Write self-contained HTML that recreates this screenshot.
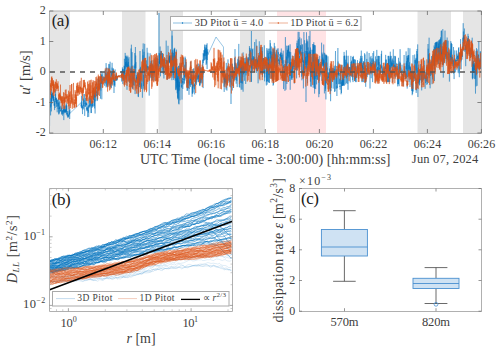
<!DOCTYPE html>
<html><head><meta charset="utf-8"><style>
html,body{margin:0;padding:0;background:#fff;width:500px;height:351px;overflow:hidden}
svg{display:block}
text{font-family:"Liberation Serif",serif;fill:#404040}
</style></head><body>
<svg width="500" height="351" viewBox="0 0 500 351">
<rect x="49.3" y="11.0" width="20.7" height="122.0" fill="#e5e5e5"/>
<rect x="122" y="11.0" width="23.5" height="122.0" fill="#e5e5e5"/>
<rect x="158.5" y="11.0" width="24.5" height="122.0" fill="#e5e5e5"/>
<rect x="240" y="11.0" width="25.0" height="122.0" fill="#e5e5e5"/>
<rect x="417.5" y="11.0" width="33.5" height="122.0" fill="#e5e5e5"/>
<rect x="463" y="11.0" width="18.4" height="122.0" fill="#e5e5e5"/>
<rect x="277" y="11.0" width="49" height="122.0" fill="#ffe3e5"/>
<path transform="scale(0.1)" d="M496 1260l1 -188 1 -22 1 -66 1 48 1 -6 0 3 1 48 1 -31 1 -3 1 7 1 104 1 -91 1 -81 1 38 1 43 1 2 0 -52 1 -62 1 -52 1 215 1 -173 1 71 1 -66 1 93 1 -122 1 24 1 35 0 -14 1 -23 1 25 1 -36 1 22 1 -2 1 -16 1 57 1 -33 1 23 1 -44 0 74 1 -60 1 51 1 -7 1 21 1 -58 1 4 1 40 1 -30 1 0 1 27 0 59 1 -56 1 -5 1 63 1 -21 1 64 1 -90 1 14 1 2 1 11 1 1 0 41 1 -60 1 1 1 -81 1 61 1 -108 1 127 1 -14 1 -23 1 12 1 0 0 -12 1 29 1 28 1 -63 1 91 1 -59 1 -15 1 35 1 1 1 -35 1 25 0 5 1 98 1 -110 1 2 1 -16 1 34 1 -3 1 3 1 31 1 -36 1 61 0 -37 1 -24 1 26 1 11 1 -83 1 57 1 27 1 79 1 -67 1 61 1 -117 0 103 1 3 1 -9 1 -50 1 20 1 -26 1 -23 1 -36 1 86 1 -26 1 17 0 3 1 16 1 15 1 -11 1 -5 1 11 1 3 1 -15 1 -2 1 -9 1 -30 0 50 1 -19 1 5 1 4 1 48 1 -64 1 5 1 -13 1 51 1 -11 1 -1 0 -6 1 34 1 -20 1 -4 1 40 1 -48 1 4 1 -10 1 19 1 -26 1 45 0 3 1 -46 1 -46 1 22 1 11 1 21 1 -9 1 105 1 -110 1 42 1 -21 0 -46 1 56 1 -30 1 24 1 -10 1 -9 1 -36 1 44 1 12 1 7 1 -29 0 31 1 -19 1 20 1 -3 1 -26 1 15 1 -18 1 24 1 -63 1 62 1 -15 0 -31 1 -24 1 99 1 -115 1 79 1 5 1 -12 1 -47 1 85 1 -24 1 -7 0 26 1 25 1 -32 1 0 1 20 1 25 1 -40 1 -15 1 -9 1 47 1 0 0 -4 1 22 1 -1 1 -28 1 -3 1 26 1 -19 1 7 1 -44 1 -18 1 -6 0 -33 1 91 1 -1 1 -19 1 16 1 -41 1 87 1 -89 1 -8 1 40 111 -107 0 38 1 -12 1 -9 1 36 1 -119 1 105 1 0 1 -51 1 37 1 30 1 -22 0 26 1 -10 1 -1 1 38 1 29 1 -54 1 -28 1 -6 1 44 1 -7 1 -42 0 -109 1 85 1 43 1 18 1 -60 1 -40 1 75 1 -31 1 -9 1 -19 1 13 0 -2 1 30 1 -1 1 -34 1 -66 1 112 1 106 1 -95 1 -9 1 -20 1 33 0 -16 1 15 1 -19 1 -4 1 -8 1 -55 1 66 1 -10 1 -16 1 41 1 -31 0 9 1 -65 1 76 1 -14 1 12 1 -15 1 61 1 -28 1 45 1 -30 1 11 0 -10 1 22 1 -30 1 -2 1 28 1 70 1 -33 1 -55 1 -49 1 49 1 2 0 10 1 10 1 -44 1 66 1 -25 1 16 1 51 1 -55 1 -62 1 30 1 -25 0 4 1 -91 1 99 1 -21 1 6 1 3 1 -98 1 58 1 -7 1 56 1 -5 0 -17 1 18 1 -72 1 57 1 -68 1 66 1 3 1 18 1 27 1 38 1 -79 0 -12 1 42 1 9 1 39 1 -46 1 -78 1 -17 1 64 1 1 1 -10 1 -5 0 39 1 -27 1 12 1 -30 1 -21 1 28 1 -31 1 53 1 -18 1 -7 1 30 0 -58 1 -16 1 -54 1 -3 1 60 1 -91 1 72 1 24 1 -63 1 -3 1 -23 0 74 1 -17 1 -57 1 147 1 -66 1 91 1 -133 1 -48 1 65 1 -38 1 205 0 -175 1 19 1 34 1 -122 1 76 1 1 1 -31 1 -38 1 12 1 5 1 14 0 -54 1 8 1 -13 1 18 1 -64 1 130 1 -43 1 50 1 -15 1 20 1 44 0 -4 1 -62 1 51 1 7 1 -90 1 34 1 9 1 -32 1 -18 1 -119 1 160 0 -27 1 -29 1 11 1 -60 1 56 1 -129 1 52 1 -50 1 111 1 12 1 -4 0 -31 1 -3 1 -45 1 -14 1 54 1 22 1 -6 1 20 1 -52 1 21 1 11 0 11 1 -1 1 -37 1 -74 1 221 1 -157 1 -9 1 74 1 10 1 -115 1 -79 0 126 1 -16 1 15 1 -77 1 51 1 24 1 -88 1 247 1 -248 1 10 1 4 0 43 1 24 1 -33 1 -4 1 33 1 -29 1 -5 1 -64 1 68 1 5 1 -13 0 -3 1 -9 1 18 1 6 1 -2 1 20 1 1 1 -2 1 -47 1 39 1 0 0 -1 1 -6 1 -23 1 11 1 12 1 10 1 50 1 -85 1 13 1 -11 1 -48 0 48 1 -32 1 -45 1 47 1 -4 1 22 1 73 1 -129 1 -1 1 4 1 164 0 -243 1 72 1 -26 1 56 1 7 1 97 1 28 1 -6 1 -123 1 57 1 -57 0 62 1 54 1 -82 1 -36 1 -16 1 114 1 40 1 -117 1 -20 1 -56 1 6 0 78 1 -49 1 142 1 -50 1 -93 1 51 1 49 1 5 1 -179 1 144 1 -54 0 58 1 -144 1 120 1 -17 1 11 1 29 1 70 1 -58 1 -41 1 52 1 -14 0 -178 1 60 1 167 1 -20 1 29 1 14 1 -51 1 1 1 58 1 -91 1 30 0 16 1 -101 1 151 1 -103 1 64 1 -109 1 29 1 -27 1 -25 1 -33 1 70 0 -118 1 104 1 35 1 0 1 -27 1 37 1 -52 1 124 1 -112 1 -5 1 -43 0 105 1 -49 1 -62 1 135 1 -35 1 10 1 -24 1 23 1 9 1 129 1 -126 0 -4 1 45 1 13 1 -67 1 23 1 22 1 14 1 -52 1 46 1 23 1 -173 0 104 1 -36 1 26 1 -26 1 23 1 11 1 2 1 -9 1 3 1 4 1 -52 0 31 1 -26 1 17 1 3 1 39 1 -25 1 0 1 -6 1 19 1 5 1 -32 0 35 1 -43 1 12 1 -14 41 1 0 3 1 52 1 -106 1 43 1 -7 1 -19 1 -7 0 -4 1 9 1 30 1 -80 1 45 1 -28 1 24 1 124 1 -146 1 40 1 -44 0 5 1 33 1 14 1 32 1 -57 1 34 1 60 1 -84 1 47 1 19 1 -135 0 66 1 -21 1 141 1 -255 1 106 1 24 1 -53 1 17 1 58 1 -76 1 117 0 -72 1 -180 1 157 1 -20 1 -46 1 46 1 -106 1 102 1 -24 1 14 1 -97 0 51 1 14 1 42 1 7 1 -102 1 100 1 7 1 -58 1 163 1 119 1 -259 0 -24 1 -44 1 48 1 62 1 -17 1 -27 1 96 1 -176 1 98 1 12 1 143 0 -142 1 -82 1 120 1 -86 1 39 1 6 1 -12 1 31 1 27 1 -139 1 128 0 -4 1 12 1 33 1 2 1 23 1 59 1 -86 1 96 1 -53 1 -89 1 67 0 10 1 16 1 36 1 -62 1 10 1 12 1 -10 1 -83 1 20 1 -224 1 308 0 -128 1 69 1 -2 1 -285 1 365 1 -4 1 -23 1 -9 1 51 1 -62 1 -29 0 -215 1 231 1 -21 1 157 1 -191 1 28 1 160 1 -230 1 59 1 77 1 59 0 -121 1 -19 1 66 1 16 1 -37 1 36 1 62 1 -84 1 -14 1 -30 1 132 0 -88 1 -112 1 52 1 20 1 32 1 -59 1 -137 1 -35 1 149 1 -42 1 304 0 -229 1 1 1 -65 1 -178 1 261 1 -58 1 -118 1 127 1 -61 1 21 1 63 0 23 1 63 1 -6 1 -35 1 79 1 -63 1 49 1 -12 1 -28 1 16 1 8 0 -29 1 16 1 -51 1 12 1 -8 1 15 1 35 1 2 1 -26 1 -32 1 -6 0 18 1 220 1 -201 1 207 1 -238 1 82 1 -89 1 -6 1 20 1 21 1 20 0 27 1 62 1 -106 1 -4 1 57 1 32 1 -70 1 94 1 -110 1 -253 1 263 0 -87 1 121 1 -123 1 66 1 -82 1 103 1 22 1 91 1 -36 1 -38 1 -69 0 92 1 34 1 -34 1 56 1 -86 1 -27 1 -25 1 -34 1 -12 1 26 1 -43 0 0 1 39 1 -63 1 313 1 -376 1 -108 1 2 1 100 1 19 1 -61 1 62 0 41 1 -222 1 269 1 70 1 89 1 -112 1 -2 1 139 1 -177 1 -192 1 121 0 107 1 152 1 -9 1 -187 1 -11 1 29 1 -282 1 221 1 39 1 -94 1 54 0 66 1 -33 1 86 1 3 1 -35 1 13 1 -24 1 -72 1 -11 1 55 1 3 0 15 1 -26 1 -12 1 -82 1 102 1 -51 1 29 1 23 1 29 1 1 1 2 0 -261 1 226 1 16 1 -4 1 -24 1 -8 1 -24 1 41 1 -174 1 125 1 33 0 -19 1 -1 1 6 1 10 1 0 1 17 1 -15 1 -11 1 28 1 0 1 9 0 78 1 169 1 -237 1 43 1 -35 1 -55 1 78 1 14 1 -13 1 -55 1 -164 0 209 1 41 1 -74 1 -56 1 71 1 -77 1 25 1 24 1 -82 1 42 1 4 0 -4 1 94 1 28 1 -170 1 103 1 -105 1 203 1 -135 1 80 1 -62 1 47 0 -12 1 -73 1 33 1 12 1 106 1 -89 1 -80 1 73 1 11 1 62 1 -118 0 -62 1 75 1 2 1 0 1 -15 1 33 1 12 1 29 1 19 1 -25 1 -17 0 -18 1 8 1 32 1 71 1 -96 1 4 1 8 1 -19 1 7 1 -4 1 -1 0 2 1 4 1 5 1 -145 1 111 1 -28 1 -16 1 14 1 7 1 -54 1 58 0 29 1 -1 1 -59 1 171 1 -104 1 -44 1 -6 1 14 1 -12 1 -71 1 118 0 -55 1 19 1 -101 1 28 1 29 1 28 1 -40 1 -1 1 -16 1 76 1 31 0 -55 1 103 1 -59 1 37 1 1 1 -61 1 -46 1 44 1 14 1 -545 1 490 0 -91 1 93 1 11 1 -98 1 106 1 -18 1 15 1 -35 1 62 1 -28 1 -172 0 162 1 -92 1 90 1 -60 1 198 1 -221 1 113 1 -77 1 -66 1 159 1 -5 0 61 1 -219 1 41 1 -24 1 1 1 70 1 17 1 -51 1 97 1 -63 1 34 0 17 1 -24 1 -89 1 104 1 -38 1 -70 1 83 1 113 1 -78 1 38 1 9 0 -62 1 -4 1 111 1 -118 1 -27 1 13 1 54 1 -69 1 192 1 -149 1 41 0 -84 1 25 1 -16 1 26 1 -22 1 24 1 -41 1 -8 1 2 1 32 1 -20 0 43 1 -15 1 54 1 -11 1 -17 1 0 1 65 1 -29 1 61 1 -82 1 -10 0 42 1 -290 1 238 1 -43 1 25 1 0 1 -2 1 14 1 -9 1 -23 1 17 0 -20 1 19 1 51 1 123 1 -109 1 -78 1 97 1 -23 1 101 1 -326 1 128 0 61 1 15 1 -7 1 32 1 -108 1 32 1 -18 1 32 1 -59 1 32 1 3 0 3 1 29 1 -105 1 66 1 -31 1 62 1 -67 1 67 1 -72 1 66 1 -51 0 29 1 31 1 -52 1 15 1 63 1 -17 1 -82 1 47 1 -8 1 48 1 -1 0 -19 1 44 1 -30 1 15 1 -62 1 -22 1 54 1 -70 1 251 1 -492 1 293 0 -247 1 184 1 187 1 -205 1 20 1 -9 1 32 1 -62 1 75 1 200 1 -222 0 14 1 146 1 36 1 -135 1 -90 1 272 1 -182 1 -22 1 11 1 24 1 -144 0 170 1 -109 1 -50 1 23 1 -31 1 172 1 -183 1 122 1 12 1 26 1 57 0 -174 1 285 1 -240 1 101 1 26 1 75 1 3 1 126 1 -204 1 209 1 -318 0 161 1 -128 1 269 1 -390 1 53 1 108 1 133 1 83 1 -87 1 42 1 -21 0 -132 1 258 1 -211 1 83 1 172 1 -194 1 210 1 -231 1 100 1 -62 1 -89 0 203 1 -109 1 180 1 -130 1 -196 1 374 1 4 1 -132 1 -59 1 198 1 -308 0 -78 1 168 1 80 1 -42 1 -46 1 53 1 -100 1 -136 1 134 1 234 1 -110 0 -44 1 -31 1 -101 1 -25 1 -24 1 0 1 67 1 43 1 -94 1 12 1 -49 0 77 1 11 1 79 1 -188 1 251 1 -26 1 16 1 -22 1 -40 1 191 1 -191 0 22 1 5 1 -22 1 -8 1 -23 1 19 1 -15 1 106 1 -76 1 15 1 -3 0 -1 1 -15 1 -33 1 1 1 -181 1 -20 1 269 1 -56 1 11 1 -109 1 39 0 7 1 -90 1 9 1 117 1 62 1 -83 1 20 1 -66 1 21 1 78 1 -239 0 172 1 16 1 -173 1 128 1 7 1 16 1 -8 1 46 1 -47 1 37 1 -140 0 79 1 66 1 20 1 6 1 -65 1 54 1 52 1 -20 1 -10 1 106 1 1 0 -5 1 -64 1 -13 1 46 1 -74 1 108 1 -113 1 40 1 -118 1 73 1 -47 0 25 1 67 1 13 1 33 1 -74 1 -9 1 32 1 -60 1 106 1 73 1 -78 0 6 1 13 1 -110 1 -15 1 41 1 19 1 0 1 13 1 29 1 -69 1 54 0 -35 1 55 1 -97 1 32 1 -97 1 62 1 29 1 -186 1 114 1 54 1 10 0 35 1 -47 1 49 1 -85 1 100 1 -61 1 -62 1 133 1 -106 1 75 1 145 0 -52 1 -54 1 19 1 54 1 -97 1 -11 1 111 1 -121 1 66 1 -33 1 8 0 67 1 -235 1 104 1 -21 1 28 1 -36 1 30 1 -114 1 123 1 56 1 -13 0 -3 1 -3 1 -5 1 50 1 7 1 -34 1 85 1 -107 1 26 1 -12 1 9 0 -42 1 -64 1 37 1 27 1 18 1 -85 1 84 1 -38 1 -131 1 40 1 73 0 46 1 -71 1 70 1 24 1 -3 1 -85 1 -39 1 51 1 -127 1 47 1 14 0 32 1 64 1 -50 1 -45 1 70 1 14 1 -8 1 -17 1 11 1 -142 1 157 0 30 1 -56 1 -4 1 29 1 27 1 -73 1 26 1 -25 1 7 1 39 1 -154 0 134 1 14 1 -30 1 30 1 3 1 65 1 -201 1 208 1 -66 1 57 1 -18 0 -11 1 3 1 -49 1 55 1 -156 1 142 1 -20 1 22 1 -61 1 11 1 1 0 21 1 42 1 -51 1 -111 1 0 1 61 1 -2 1 72 1 -34 1 -26 1 -14 0 102 1 -14 1 -54 1 -49 1 -117 1 179 1 -106 1 39 1 37 1 -30 1 5 0 160 1 -350 1 100 1 -34 1 6 1 -30 1 -35 1 38 1 34 1 -107 1 21 0 33 1 -20 1 -37 1 63 1 -99 1 -18 1 154 1 -133 1 28 1 102 1 -62 0 -22 1 9 1 -32 1 16 1 14 1 38 1 -81 1 48 1 0 1 65 1 -142 0 201 1 -201 1 97 1 -58 1 -10 1 159 1 -118 1 -13 1 51 1 -5 1 139 0 -257 1 151 1 16 1 -66 1 -16 1 18 1 -44 1 46 1 12 1 -6 80 -174 75 100 0 298 1 -64 1 62 1 19 1 33 1 49 1 -74 0 -15 1 141 1 -188 1 91 1 -25 1 -24 1 81 1 -108 1 41 1 -36 1 65 0 7 1 -64 1 -5 1 43 1 -54 1 94 1 -28 1 -27 1 41 1 -16 1 89 0 -161 1 72 1 -178 1 94 1 16 1 48 1 -5 1 9 1 115 1 -101 1 -23 0 66 1 -182 1 130 1 18 1 -30 1 -11 1 24 1 -6 1 -10 1 -187 1 227 0 6 1 -15 1 -1 1 -38 1 -18 1 -8 1 15 1 -7 1 -2 1 10 1 -8 0 28 1 3 1 18 1 -51 1 16 1 52 1 -34 1 -127 1 158 1 -1 1 7 0 -85 1 106 1 29 1 -82 1 -43 1 -66 1 98 1 30 1 18 1 211 1 -195 0 -1 1 -117 1 78 1 42 1 -55 1 -13 1 -21 1 14 1 -38 1 34 1 -128 0 41 1 -46 1 270 1 -230 1 100 1 9 1 -103 1 38 1 -14 1 82 1 3 0 -52 1 -12 1 -24 1 59 1 -26 1 141 1 -137 1 0 1 7 1 -18 1 -7 0 84 1 -75 1 -25 1 -15 1 -111 1 118 1 -31 1 1 1 135 1 -311 1 165 0 -26 1 88 1 -93 1 54 1 27 1 -59 1 28 1 5 1 29 1 89 1 -6 0 -27 1 72 1 -138 1 26 1 -17 1 -53 1 39 1 115 1 -140 1 31 1 -24 0 47 1 148 1 -187 1 -63 1 22 1 0 1 44 1 -99 1 17 1 13 1 -2 0 -11 1 10 1 40 1 -86 1 125 1 -35 1 -26 1 -194 1 259 1 -94 1 56 0 16 1 -38 1 233 1 -205 1 -42 1 13 1 32 1 156 1 52 1 -228 1 6 0 22 1 7 1 -76 1 35 1 30 1 155 1 -21 1 -73 1 -62 1 44 1 22 0 -164 1 323 1 -222 1 156 1 -221 1 69 1 -14 1 32 1 -12 1 -8 1 -40 0 259 1 -163 1 -50 1 152 1 -156 1 8 1 -44 1 129 1 -96 1 -19 1 260 0 -393 1 167 1 -61 1 34 1 80 1 -16 1 -68 1 38 1 37 1 -86 1 52 0 -34 1 -87 1 126 1 102 1 -31 1 -69 1 -43 1 2 1 31 1 -81 1 50 0 -44 1 33 1 69 1 -78 1 33 1 -103 1 263 1 -89 1 -45 1 -38 1 -9 0 95 1 -64 1 41 1 -149 1 -7 1 -16 1 114 1 14 1 16 1 -66 1 10 0 6 1 -5 1 -29 1 115 1 -87 1 -53 1 -18 1 68 1 -54 1 -3 1 7 0 122 1 -71 1 -60 1 74 1 -88 1 19 1 17 1 46 1 -61 1 -43 1 1 0 -1 1 -11 1 28 1 -105 1 7 1 136 1 -88 1 -36 1 36 1 7 1 126 0 18 1 -129 1 -37 1 69 1 48 1 0 1 23 1 -111 1 -44 1 157 1 2 0 175 1 -110 1 -101 1 -299 1 507 1 -234 1 40 1 -35 1 76 1 21 1 -79 0 49 1 -14 1 21 1 50 1 -219 1 109 1 -42 1 -24 1 -51 1 118 1 84 0 -46 1 0 1 -46 1 -35 1 67 1 30 1 -84 1 68 1 -7 1 -56 1 83 0 21 1 32 1 -90 1 49 1 12 1 -265 1 236 1 -28 1 -21 1 48 1 -32 0 -16 1 -2 1 -12 1 70 1 -64 1 36 1 37 1 -44 1 48 1 -23 1 -259 0 299 1 -51 1 87 1 -43 1 -95 1 4 1 92 1 -231 1 254 1 -107 1 54 0 -59 1 70 1 -40 1 14 1 -9 1 10 1 -32 1 -37 1 78 1 -59 1 123 0 117 1 -167 1 -56 1 6 1 -63 1 19 1 -9 1 15 1 113 1 -72 1 34 0 30 1 -81 1 -189 1 218 1 28 1 -73 1 -7 1 -18 1 -41 1 51 1 -10 0 3 1 77 1 -173 1 250 1 -126 1 -62 1 53 1 -76 1 234 1 -192 1 38 0 -21 1 21 1 -2 1 35 1 -49 1 -91 1 -9 1 90 1 42 1 -94 1 115 0 14 1 59 1 -225 1 161 1 136 1 -94 1 57 1 -57 1 7 1 -100 1 124 0 32 1 -154 1 128 1 -38 1 -94 1 60 1 -39 1 44 1 2 1 8 1 -10 0 -14 1 -25 1 -153 1 92 1 152 1 116 1 -164 1 126 1 -78 1 39 1 -131 0 29 1 45 1 4 1 -43 1 -17 1 32 1 4 1 -44 1 -3 1 -43 1 67 0 -13 1 206 1 26 1 -110 1 -59 1 36 1 -103 1 200 1 -339 1 330 1 -135 0 172 1 -352 1 318 1 -36 1 -65 1 11 1 -141 1 25 1 -77 1 -20 1 68 0 4 1 -52 1 151 1 -52 1 104 1 90 1 -256 1 257 1 -335 1 262 1 -267 0 0 1 59 1 78 1 151 1 58 1 -187 1 29 1 105 1 -138 1 -123 1 24 0 -139 1 85 1 100 1 -154 1 229 1 8 1 -58 1 -89 1 -13 1 53 1 119 0 -24 1 124 1 -222 1 -94 1 155 1 8 1 -66 1 143 1 89 1 -274 1 264 0 -145 1 -101 1 87 1 -15 1 -5 1 -30 1 -4 1 -80 1 123 1 -43 1 97 0 189 1 -243 1 -128 1 153 1 208 1 -248 1 -102 1 186 1 88 1 -20 1 -236 0 126 1 19 1 -231 1 80 1 170 1 -155 1 99 1 -18 1 -142 1 81 1 25 0 54 1 35 1 -115 1 42 1 18 1 28 1 -26 1 6 1 -88 1 112 1 -12 0 88 1 -61 1 0 1 6 1 -6 1 15 1 -164 1 106 1 192 1 -200 1 23 0 -135 1 52 1 78 1 -21 1 74 1 -56 1 -38 1 18 1 -41 1 19 1 -12 0 -77 1 48 1 16 1 -26 1 24 1 66 1 -13 1 -10 1 26 1 27 1 -47 0 69 1 -67 1 -1 1 40 1 12 1 -36 1 3 1 -41 1 17 1 -47 1 14 0 -17 1 31 1 -26 1 -12 1 52 1 -16 1 -46 1 25 1 42 1 2 1 14 0 -45 1 -51 1 -25 1 91 1 -26 1 47 1 -14 1 47 1 -101 1 25 1 101 0 -82 1 41 1 178 1 -96 1 86 1 -203 1 -34 1 91 1 -24 1 -16 1 -6 0 1 1 -84 1 87 1 89 1 208 1 -238 1 29 1 -30 1 -50 1 63 1 37 0 16 1 21 1 74 1 -121 1 24 1 12 1 -21 1 -67 1 268 1 1 1 -251 0 12 1 -17 1 -11 1 -271 1 253 1 -10 1 15 1 -4 1 67 1 205 1 -278 0 89 1 -42 1 -6 1 -95 1 88 1 -179 1 -17 1 120 1 262 1 -313 1 145 0 81 1 -211 1 -42 1 134 1 -55 1 -26 1 -49 1 58 1 -103 1 126 1 -4 0 -6 1 -89 1 45 1 -73 1 -1 1 176 1 -137 1 -40 1 54 1 64 1 -52 0 209 1 -98 1 -4 1 33 1 -146 1 245 1 50 1 -89 1 40 1 -133 1 132 0 -317 1 455 1 -104 1 -173 1 90 1 -97 1 -93 1 187 1 -14 1 21 1 13 0 -57 1 54 1 -15 1 87 1 -93 1 78 1 -91 1 -7 1 -32 1 13 1 -38 0 82 1 89 1 -242 1 168 1 -67 1 34 1 3 1 85 1 -66 1 12 1 -48 0 -28 1 19 1 -32 1 11 1 -19 1 22 1 41 1 -50 1 -56 1 66 1 21 0 -6 1 8 1 162 1 -188 1 -46 1 17 1 30 1 26 1 -73 1 5 1 -63 0 40 1 -56 1 77 1 23 1 -5 1 3 1 -61 1 39 1 -98 1 198 1 -127 0 116 1 -177 1 156 1 -49 1 -17 1 178 1 -272 1 -23 1 -58 1 157 1 -39 0 -142 1 -1 1 131 1 49 1 -126 1 241 1 -120 1 2 1 -45 1 -136 1 -84 0 230 1 -29 1 -30 1 183 1 -61 1 -220 1 91 1 77 1 -16 1 -36 1 34 0 -222 1 213 1 17 1 122 1 -111 1 50 1 -61 1 -176 1 154 1 -10 1 -23 0 7 1 45 1 -26 1 19 1 -89 1 113 1 -60 1 -39 1 3 1 14 1 11 0 -13 1 -76 1 -18 1 110 1 53 1 -26 1 245 1 -188 1 224 1 -359 1 174 0 7 1 -18 1 2 1 -31 1 41 1 -174 1 150 1 -28 1 -47 1 85 1 46 0 106 1 -92 1 -24 1 243 1 -287 1 35 1 -21 1 164 1 -455 1 288 1 0 0 6 1 17 1 10 1 21 1 46 1 -306 1 146 1 144 1 -76 1 33 1 -29 0 -13 1 -98 1 70 1 34 1 16 1 -59 1 101 1 -99 1 -139 1 587 1 -414 0 38 1 -87 1 164 1 -207 1 -191 1 224 1 -38 1 175 1 -136 1 -135 1 85 0 -103 1 232 1 -113 1 81 1 237 1 -299 1 119 1 -238 1 157 1 -15 1 -82 0 76 1 73 1 90 1 -135 1 -52 1 97 1 -67 1 78 1 -28 1 -247 1 222 0 73 1 -24 1 -59 1 -64 1 86 1 -4 1 -14 1 -49 1 4 1 -220 1 279 0 87 1 37 1 -194 1 298 1 -342 1 157 1 232 1 -86 1 -280 1 146 1 23 0 -9 1 -40 1 249 1 -215 1 20 1 -50 1 27 1 118 1 -139 1 108 1 -27 0 -56 1 53 1 -209 1 225 1 -30 1 92 1 -240 1 -16 1 -88 1 240 1 -239 0 277 1 159 1 -71 1 -204 1 97 1 -241 1 170 1 -206 1 373 1 -302 1 -45 0 401 1 -238 1 -15 1 288 1 -433 1 485 1 -177 1 -39 1 166 1 -128 1 -46 0 -97 1 174 1 -51 1 -285 1 214 1 -94 1 318 1 -278 1 66 1 -87 1 142 0 -20 1 -18 1 71 1 -44 1 -141 1 262 1 -75 1 -25 1 -115 1 97 1 -140 0 207 1 -28 1 1 1 -15 1 14 1 35 1 -232 1 131 1 -98 1 69 1 -79 0 141 1 -91 1 26 1 -63 1 79 1 -94 1 57 1 326 1 -295 1 53 1 13 0 -73 1 26 1 245 1 -244 1 -3 1 29 1 -165 1 149 1 17 1 40 1 -53 0 11 1 -5 1 30 1 -36 1 -33 1 -27 1 62 1 -75 1 -7 1 -11 1 57 0 -34 1 -4 1 -2 1 17 1 -60 1 -167 1 238 1 143 1 -143 1 -67 1 -12 0 -60 1 33 1 103 1 -92 1 -26 1 99 1 -58 1 24 1 -34 1 30 1 41 0 -43 1 62 1 -42 1 31 1 -58 1 90 1 -241 1 185 1 -25 1 56 1 8 0 -64 1 -78 1 128 1 279 1 -131 1 -20 1 -214 1 -36 1 161 1 72 1 -69 0 103 1 22 1 87 1 0 1 -362 1 340 1 -99 1 -163 1 369 1 -447 1 -2 0 55 1 -3 1 -36 1 244 1 -249 1 213 1 -218 1 147 1 -71 1 215 1 -24 0 -93 1 -47 1 114 1 -29 1 50 1 -66 1 -40 1 -16 1 -128 1 28 1 81 0 71 1 -23 1 60 1 -17 1 61 1 -61 1 -29 1 45 1 -43 1 88 1 64 0 -90 1 -59 1 -14 1 71 1 -50 1 -55 1 57 1 -67 1 168 1 56 1 -81 0 -20 1 -142 1 252 1 0 1 -78 1 176 1 -100 1 -224 1 69 1 154 1 -48 0 -17 1 -73 1 106 1 -140 1 -28 1 -34 1 38 1 -7 1 55 1 9 1 -56 0 31 1 20 1 -59 1 11 1 -41 1 49 1 -26 1 -6 1 36 1 4 1 -10 0 2 1 159 1 -189 1 76 1 -55 1 47 1 -81 1 115 1 -86 1 33 1 -71 0 -13 1 5 1 22 1 66 1 164 1 -145 1 -37 1 -48 1 47 1 -40 1 -11 0 -31 1 260 1 -212 1 -134 1 -58 1 96 1 80 1 36 1 2 1 34 1 129 0 -161 1 26 1 -23 1 113 1 -124 1 130 1 36 1 -27 1 103 1 -77 1 -153 0 2 1 9 1 -10 1 150 1 0 1 -1 1 -121 1 -212 1 -67 1 270 1 -135 0 124 1 -55 1 0 1 63 1 -31 1 126 1 -132 1 -17 1 6 1 -36 1 96 0 -29 1 68 1 37 1 4 1 -7 1 -20 1 -25 1 83 1 -8 1 7 1 28 0 -141 1 -27 1 109 1 2 1 -193 1 66 1 147 1 5 1 0 1 0 1 -1 0 79 1 -80 1 0 1 -61 1 128 1 -108 1 19 1 20 1 0 1 -116 1 -94 0 208 1 -120 1 99 1 20 1 -73 1 64 1 -41 1 49 1 -22 1 -1 1 -87 0 108 1 -8 1 -3 1 -172 1 181 1 0 1 -64 1 63 1 0 1 -291 1 221 0 -263 1 298 1 41 1 -149 1 -152 1 165 1 17 1 4 1 -186 1 18 1 97 0 7 1 20 1 -2 1 11 1 -52 1 -59 1 247 1 -120 1 -48 1 36 1 64 0 -154 1 92 1 55 1 -266 1 329 1 -153 1 -121 1 158 1 18 1 -24 1 -52 0 29 1 80 1 -102 1 53 1 44 1 13 1 63 1 -115 1 -98 1 273 1 -245 0 -95 1 0 1 89 1 6 1 95 1 -82 1 30 1 -24 1 21 1 6 1 -3 0 44 1 27 1 -65 1 2 1 -31 1 -2 1 47 1 -49 1 13 1 64 1 15 0 -86 1 149 1 -39 1 -83 1 -6 1 53 1 -76 1 -53 1 -61 1 136 1 -75 0 135 1 -112 1 22 1 1 1 61 1 -122 1 117 1 -109 1 62 1 90 1 -100 0 107 1 -106 1 -4 1 32 1 -41 1 149 1 -232 1 98 1 -3 1 156 1 -143 0 -107 1 43 1 -55 1 108 1 6 1 -55 1 33 1 -57 1 134 1 -46 1 -85 0 128 1 -11 1 9 1 48 1 20 1 -24 1 -174 1 216 1 -88 1 91 1 -12 0 -68 1 57 1 -35 1 1 1 -157 1 127 1 96 1 -88 1 -74 1 115 1 -14 0 61 1 0 1 -82 1 38 1 -21 1 8 1 -62 1 55 1 -83 1 -11 1 7 0 57 1 -60 1 63 1 -42 1 -87 1 126 1 1 1 15 1 -82 1 10 1 105 0 -114 1 74 1 6 1 -28 1 24 1 -27 1 -34 1 9 1 3 1 -3 1 -41 0 16 1 5 1 -17 1 -1 1 -12 1 -19 1 6 1 31 1 -39 1 12 1 34 0 -13 1 -62 1 137 1 -25 1 -13 1 -126 1 151 1 -43 1 97 1 -101 1 -35 0 18 1 14 1 -154 1 155 1 -14 1 78 1 -144 1 240 1 0 1 -262 1 25 0 133 1 -85 1 59 1 31 1 -73 1 55 1 -43 1 160 1 -102 1 49 1 -32 0 -44 1 -61 1 17 1 -33 1 73 1 -74 1 70 1 137 1 -141 1 15 1 -19 0 49 1 -35 1 41 1 5 1 -47 1 -157 1 217 1 -83 1 42 1 -163 1 71 0 56 1 149 1 -108 1 108 1 -21 1 -42 1 110 1 -220 1 149 1 24 1 -40 0 -43 1 -12 1 36 1 -71 1 -8 1 34 1 -30 1 -98 1 80 1 -141 1 -12 0 211 1 45 1 -90 1 67 1 -83 1 22 1 -24 1 10 1 12 1 -1 1 18 0 1 1 22 1 -6 1 -12 1 37 1 -76 1 -29 1 29 1 22 1 -41 1 -120 0 112 1 -4 1 5 1 4 1 22 1 3 1 9 1 6 1 7 1 191 1 -199 0 -21 1 -92 1 84 1 77 1 -94 1 -11 1 -9 1 -3 1 106 1 -164 1 143 0 -56 1 136 1 -120 1 -16 1 -15 1 47 1 0 1 -16 1 -68 1 31 1 -44 0 81 1 -33 1 4 1 -5 1 31 1 162 1 -162 1 -9 1 -120 1 64 1 9 0 46 1 -24 1 -31 1 66 1 -27 1 -23 1 -99 1 159 1 -5 1 14 1 -15 0 1 1 -21 1 64 1 -54 1 -9 1 66 1 3 1 11 1 -116 1 100 1 44 0 -73 1 -21 1 17 1 -8 1 -104 1 57 1 32 1 68 1 -44 1 90 1 -50 0 -27 1 25 1 -20 1 -4 1 -60 1 -38 1 74 1 -168 1 191 1 131 1 -70 0 -33 1 48 1 -95 1 3 1 28 1 15 1 -47 1 83 1 -193 1 88 1 -55 0 125 1 -52 1 -71 1 -36 1 148 1 -132 1 -2 1 -14 1 23 1 63 1 -24 0 82 1 41 1 -49 1 -17 1 69 1 -102 1 -84 1 104 1 -23 1 55 1 -20 0 14 1 -36 1 68 1 -19 1 41 1 -32 1 -10 1 4 1 4 1 -48 1 23 0 29 1 -17 1 -159 1 144 1 -8 1 -167 1 158 1 7 1 10 1 -3 1 -7 0 -7 1 -11 1 5 1 90 1 -29 1 -37 1 62 1 -37 1 35 1 -13 1 -58 0 32 1 -7 1 49 1 -5 1 9 1 -16 1 -7 1 -2 1 -1 1 -20 1 16 0 -45 1 -3 1 69 1 -13 1 39 1 -14 1 -21 1 15 1 -37 1 -19 1 -15 0 14 1 -48 1 -3 1 -6 1 54 1 -139 1 0 1 221 1 -126 1 -50 1 91 0 0 1 -87 1 134 1 90 1 -140 1 73 1 66 1 0 1 -64 1 -96 1 47 0 2 1 35 1 76 1 0 1 -59 1 -49 1 -38 1 16 1 130 1 -189 1 43 0 -116 1 86 1 176 1 -262 1 87 1 63 1 -47 1 155 1 -72 1 -154 1 121 0 -153 1 138 1 124 1 -169 1 -2 1 73 1 -45 1 143 1 -137 1 -53 1 -56 0 113 1 -18 1 -153 1 60 1 199 1 -59 1 -158 1 153 1 34 1 -34 1 -116 0 -37 1 25 1 35 1 5 1 53 1 -50 1 38 1 -52 1 43 1 -26 1 -33 0 57 1 -13 1 -42 1 -14 1 66 1 12 1 160 1 -164 1 -29 1 42 1 -23 0 18 1 -146 1 -28 1 179 1 -4 1 -5 1 5 1 -61 1 76 1 32 1 -108 0 -48 1 84 1 0 1 29 1 -19 1 -4 1 8 1 41 1 -66 1 -1 1 -72 0 99 1 51 1 -52 1 130 1 -222 1 101 1 2 1 55 1 -25 1 -24 1 22 0 18 1 -6 1 -13 1 68 1 -104 1 -15 1 -15 1 5 1 15 1 -8 1 59 0 -38 1 7 1 31 1 -17 1 27 1 64 1 90 1 -120 1 8 1 88 1 -98 0 99 1 -131 1 6 1 127 1 -265 1 83 1 89 1 -103 1 -1 1 -11 1 106 0 121 1 -72 1 -105 1 -11 1 66 1 -125 1 72 1 -44 1 13 1 17 1 11 0 -192 1 195 1 28 1 -52 1 -36 1 59 1 14 1 6 1 -30 1 40 1 -3 0 -3 1 11 1 -3 1 15 1 1 1 11 1 2 1 -11 1 13 1 -102 1 63 0 -13 1 36 1 23 1 -4 1 -13 1 25 1 -20 1 25 1 -4 1 -13 1 -1 0 36 1 38 1 34 1 -139 1 51 1 -7 1 25 1 -24 1 34 1 -5 1 -244 0 175 1 1 1 5 1 -2 1 -34 1 17 1 -15 1 20 1 -11 1 -43 1 61 0 46 1 -53 1 -8 1 32 1 41 1 5 1 -69 1 68 1 -51 1 22 1 -243 0 180 1 -65 1 68 1 7 1 72 1 -164 1 80 1 -81 1 -50 1 19 1 63 0 34 1 209 1 -228 1 -78 1 191 1 -21 1 -196 1 38 1 116 1 -132 1 43 0 -9 1 -131 1 74 1 42 1 -42 1 189 1 -192 1 145 1 -44 1 167 1 -88 0 27 1 -30 1 22 1 -4 1 -34 1 -89 1 64 1 -133 1 -70 1 387 1 -208 0 43 1 -29 1 22 1 -29 1 124 1 -108 1 28 1 37 1 -19 1 38 1 -46 0 4 1 -1 1 107 1 18 1 -129 1 3 1 184 1 -195 1 -8 1 73 1 -49 0 94 1 128 1 -202 1 162 1 -193 1 220 1 -156 1 -40 1 -10 1 -182 1 220 0 -6 1 150 1 -196 1 21 1 -25 1 71 1 3 1 -20 1 16 1 -32 1 4 0 -19 1 45 1 -44 1 72 1 -68 1 10 1 -208 1 186 1 18 1 -35 1 -113 0 34 1 -33 1 34 1 4 1 26 1 21 1 112 1 -94 1 -118 1 115 1 -124 0 181 1 170 1 -139 1 114 1 -41 1 -180 1 -173 1 170 1 53 1 -103 1 -140 0 213 1 23 1 -93 1 -92 1 93 1 -89 1 -101 1 195 1 331 1 -292 1 155 0 -73 1 -60 1 133 1 -114 1 -15 1 113 1 -15 1 -156 1 124 1 70 1 5 0 -117 1 16 1 80 1 -106 1 82 1 54 1 -54 1 -100 1 100 1 -24 1 -19 0 -63 1 22 1 27 1 -18 1 -76 1 -8 1 72 1 0 1 92 1 -16 1 -112 0 55 1 30 1 68 1 -2 1 -113 1 -3 1 192 1 -201 1 102 1 -97 1 112 0 -17 1 -4 1 -50 1 14 1 -8 1 -15 1 -45 1 98 1 8 1 -122 1 58 0 10 1 -31 1 77 1 -53 1 -5 1 15 1 29 1 24 1 -49 1 -27 1 -4 0 51 1 -30 1 44 1 -51 1 -13 1 -119 1 9 1 10 1 94 1 70 1 -11 0 111 1 -43 1 -73 1 -17 1 76 1 -1 1 -30 1 -26 1 15 1 -68 1 15 0 37 1 -55 1 93 1 -121 1 66 1 25 1 -133 1 201 1 -14 1 -31 1 -33 0 45 1 -59 1 84 1 -114 1 19 1 6 1 -85 1 -13 1 -4 1 -210 1 131 0 65 1 -149 1 239 1 -117 1 147 1 -17 1 -196 1 15 1 206 1 -108 1 -279 0 31 1 295 1 -21 1 -94 1 45 1 78 1 39 1 -112 1 57 1 47 1 -68 0 209 1 -130 1 -46 1 53 1 -56 1 -33 1 -52 1 48 1 -17 1 42 1 -32 0 -6 1 -45 1 74 1 -13 1 -109 1 53 1 57 1 82 1 -39 1 128 1 -87 0 -115 1 41 1 31 1 -62 1 144 1 -174 1 -74 1 47 1 23 1 11 1 -1 0 21 1 8 1 -44 1 12 1 -38 1 -94 1 129 1 -23 1 -64 1 127 1 -68 0 -137 1 199 1 -114 1 -17 1 287 1 -170 1 -170 1 227 1 -255 1 -12 1 -1 0 171 1 -110 1 -62 1 -1 1 0 1 -1 1 2 1 137 1 -141 1 163 1 -52 0 -112 1 167 1 -54 1 -115 1 48 1 1 1 25 1 59 1 -128 1 35 1 -44 0 110 1 -112 1 159 1 43 1 -39 1 -21 1 19 1 -30 1 -82 1 30 1 -28 0 171 1 -91 1 96 1 -32 1 -175 1 107 1 -138 1 38 1 39 1 -64 1 83 0 97 1 -77 1 -121 1 87 1 -5 1 100 1 -59 1 151 1 -266 1 -13 1 81 0 45 1 -128 1 147 1 -27 1 -138 1 175 1 -33 1 126 1 -184 1 140 1 -24 0 -17 1 -249 1 247 1 -163 1 -86 1 182 1 75 1 -32 1 81 1 -92 1 10 0 17 1 -38 1 18 1 120 1 -158 1 66 1 40 1 -304 1 284 1 -42 1 115 0 -82 1 107 1 103 1 -129 1 -42 1 -28 1 59 1 -72 1 -49 1 23 1 -111 0 115 1 -60 1 28 1 42 1 -24 1 -79 1 -36 1 69 1 47 1 -223 1 262 0 -142 1 94 1 67 1 -32 1 -36 1 -39 1 13 1 -23 1 -64 1 150 1 -20 0 98 1 -135 1 92 1 -120 1 64 1 45 1 -17 1 -158 1 162 1 -42 1 -21 0 -129 1 6 1 143 1 -8 1 6 1 2 1 8 1 -6 1 59 1 33 1 -85 0 -67 1 -59 1 140 1 -12 1 75 1 -25 1 -67 1 37 1 135 1 -158 1 44 0 47 1 -3 1 -26 1 222 1 -175 1 22 1 -45 1 11 1 -93 1 37 1 -78 0 106 1 -87 1 93 1 -36 1 -14 1 21 1 47 1 -214 1 155 1 65 1 -53 0 -141 1 132 1 29 1 -36 1 -133 1 161 1 28 1 -24 1 -154 1 142 1 -15 0 71 1 -60 1 66 1 -74 1 33 1 16 1 -20 1 -1 1 66 1 -67 1 6 0 11 1 -5 1 76 1 51 1 -266 1 43 1 41 1 128 1 -80 1 87 1 102 0 -108 1 -6 1 -8 1 16 1 30 1 -65 1 -31 1 -115 1 145 1 -23 1 -6 0 -9 1 -24 1 35 1 -17 1 19 1 100 1 -101 1 2 1 -27 1 35 1 -28 0 -7 1 11 1 -10 1 14 1 -11 1 -97 1 81 1 1 1 -13 1 19 1 -4 0 -53 1 52 1 22 1 -4 1 -45 1 13 1 -19 1 59 1 -35 1 -21 1 9 0 160 1 -31 1 -132 1 -23 1 -59 1 109 1 -31 1 -88 1 144 1 -37 1 -26 0 180 1 -110 1 149 1 -237 1 29 1 -2 1 -13 1 -18 1 23 1 4 1 33 0 -40 1 31 1 -20 1 4 1 -11 1 -164 1 141 1 20 1 -18 1 80 1 -47 0 -44 1 170 1 -166 1 3 1 -16 1 12 1 42 1 -46 1 8 1 66 1 -34 0 -51 1 8 1 21 1 29 1 -76 1 1 1 -58 1 -59 1 131 1 -51 1 49 0 -79 1 -195 1 180 1 -97 1 149 1 -100 1 42 1 -53 1 44 1 -24 1 35 0 31 1 -69 1 -13 1 -72 1 94 1 45 1 41 1 53 1 -24 1 -5 1 13 0 -14 1 -12 1 -20 1 -3 1 44 1 -40 1 205 1 -175 1 -44 1 43 1 -15 0 -14 1 1 1 13 1 18 1 12 1 -75 1 36 1 -4 1 -22 1 17 1 41 0 -37 1 -20 1 10 1 -31 1 -34 1 45 1 -15 1 -14 1 21 1 -81 1 75 0 -19 1 10 1 43 1 -86 1 112 1 -88 1 36 1 26 1 63 1 -99 1 106 0 -38 1 1 1 57 1 -142 1 166 1 -14 1 -17 1 11 1 -2 1 -10 1 13 0 -2 1 -54 1 76 1 5 1 -68 1 66 1 10 1 -40 1 -52 1 1 1 53 0 -53 1 28 1 -26 1 65 1 -20 1 -78 1 70 1 49 1 -31 1 -84 1 -15 0 93 1 -158 1 407 1 -162 1 114 1 57 1 -240 1 156 1 -78 1 98 1 -46 0 100 1 -172 1 119 1 -58 1 -17 1 5 1 -51 1 44 1 77 1 -139 1 51 0 47 1 -13 1 -46 1 72 1 -47 1 46 1 -19 1 109 1 -145 1 28 1 -30 0 142 1 -113 1 64 1 132 1 67 1 -158 1 -84 1 10 1 27 1 -70 1 -150 0 353 1 -191 1 -69 1 16 1 -139 1 223 1 -76 1 41 1 71 1 -140 1 258 0 -121 1 -243 1 159 1 2 1 17 1 -106 1 106 1 -8 1 -58 1 -66 1 60 0 46 1 43 1 -29 1 -6 1 -60 1 -45 1 66 1 -202 1 98 1 10 1 18 0 22 1 40 1 12 1 82 1 -78 1 9 1 -18 1 -15 1 50 1 -41 1 61 0 28 1 -66 1 -112 1 59 1 117 1 -111 1 -56 1 -6 1 100 1 -25 1 22" fill="none" stroke="#0072BD" stroke-width="4"/>
<path transform="scale(0.1)" d="M496 768l1 167 1 13 1 -18 1 -67 1 86 0 -38 1 73 1 -130 1 4 1 -12 1 9 1 11 1 -36 1 69 1 -96 1 67 0 -22 1 65 1 -25 1 9 1 -59 1 -66 1 73 1 -81 1 42 1 77 1 -80 0 -23 1 17 1 -8 1 20 1 50 1 -21 1 17 1 -12 1 -39 1 32 1 -13 0 131 1 -153 1 56 1 -20 1 75 1 -60 1 84 1 -123 1 86 1 8 1 55 0 -124 1 21 1 6 1 59 1 -36 1 3 1 -10 1 -36 1 62 1 7 1 9 0 0 1 -25 1 -26 1 -51 1 61 1 -7 1 -59 1 19 1 21 1 42 1 13 0 -9 1 -46 1 -63 1 20 1 80 1 -61 1 38 1 1 1 6 1 6 1 6 0 -42 1 10 1 22 1 -46 1 36 1 17 1 -40 1 28 1 3 1 -64 1 97 0 -15 1 -33 1 54 1 4 1 42 1 35 1 -44 1 1 1 -11 1 49 1 -34 0 -4 1 -2 1 -10 1 24 1 -39 1 73 1 -39 1 -26 1 35 1 12 1 -7 0 -7 1 1 1 -20 1 39 1 -142 1 131 1 25 1 -39 1 46 1 -25 1 48 0 -55 1 -18 1 39 1 -27 1 52 1 -4 1 -22 1 2 1 29 1 -60 1 123 0 -86 1 2 1 57 1 -65 1 -4 1 -33 1 48 1 -12 1 52 1 -77 1 29 0 17 1 16 1 -17 1 -9 1 -85 1 -2 1 33 1 52 1 -6 1 3 1 83 0 -159 1 56 1 37 1 -53 1 63 1 -52 1 111 1 -88 1 25 1 -20 1 -7 0 -18 1 36 1 -120 1 53 1 -4 1 -4 1 43 1 -18 1 17 1 3 1 -93 0 20 1 67 1 -33 1 -4 1 38 1 -6 1 52 1 -17 1 -14 1 -8 1 -28 0 14 1 0 1 -33 1 32 1 6 1 34 1 -21 1 20 1 25 1 -76 1 10 0 17 1 10 1 -45 1 108 1 -156 1 18 1 30 1 4 1 70 1 -50 1 114 0 -33 1 -137 1 44 1 -9 1 -11 1 18 1 -18 1 112 1 -100 1 -109 1 122 0 13 1 -41 1 -30 1 64 1 53 1 51 1 -62 1 -18 1 39 1 -2 1 -50 0 -4 1 -4 1 10 1 10 1 -160 1 192 1 -39 1 -155 1 181 1 -47 1 20 0 -49 1 34 1 110 1 -16 1 -52 1 -32 1 32 1 8 1 7 1 -10 1 -9 0 16 1 16 1 -15 1 -72 1 -132 1 102 1 108 1 33 1 10 1 -8 1 -18 0 -58 1 4 1 3 1 -9 1 72 1 -47 1 58 1 -111 1 -9 1 -16 1 37 0 -79 1 59 1 38 1 25 1 -3 1 18 1 -121 1 122 1 -92 1 126 1 -118 0 -6 1 4 1 56 1 -36 1 97 1 -35 1 -175 1 68 1 -95 1 38 1 77 0 11 1 -106 1 65 1 -4 1 -88 1 46 1 20 1 37 1 -25 1 -8 1 61 0 -17 1 -51 1 37 1 -3 1 -56 1 55 1 -26 1 1 1 -46 1 49 1 -24 0 -52 1 119 1 3 1 -17 1 -11 1 1 1 -21 1 40 1 -16 1 -54 1 26 0 -85 1 87 1 -26 1 14 1 -17 1 53 1 -7 1 -38 1 8 1 5 1 -10 0 44 1 13 1 -157 1 137 1 -1 1 13 1 -12 1 -35 1 31 1 5 1 45 0 -47 1 11 1 -3 1 -25 1 20 1 45 1 44 1 -131 1 38 1 -29 1 42 0 -28 1 -44 1 -53 1 132 1 -74 1 16 1 -23 1 -18 1 34 1 -9 1 12 0 -72 1 35 1 -35 1 65 1 -22 1 31 1 -29 1 -16 1 18 1 -23 1 22 0 3 1 48 1 -48 1 13 1 22 1 -7 1 21 1 66 1 -11 1 -38 1 70 0 -20 1 -72 1 10 1 106 1 -56 1 16 1 37 1 -52 1 -3 1 38 1 -47 0 4 1 -64 1 86 1 -61 1 -90 1 71 1 73 1 26 1 25 1 -28 1 51 0 -88 1 -14 1 -93 1 45 1 43 1 13 1 -18 1 27 1 -4 1 -100 1 63 0 -103 1 98 1 35 1 -52 1 40 1 61 1 -63 1 16 1 61 1 -170 1 98 0 -94 1 -32 1 -1 1 89 1 100 1 -73 1 47 1 9 1 -47 1 -54 1 -20 0 78 1 -134 1 241 1 -78 1 77 1 0 1 -1 1 0 1 -1 1 -78 1 8 0 26 1 -89 1 130 1 -54 1 -67 1 8 1 -92 1 145 1 -151 1 160 1 -179 0 226 1 -114 1 -34 1 53 1 -47 1 -1 1 69 1 -55 1 -24 1 56 1 -9 0 -113 1 140 1 -11 1 -29 1 -26 1 -18 1 39 1 -4 1 33 1 -20 1 6 0 -109 1 85 1 81 1 -130 1 8 1 -15 1 132 1 -188 1 -12 1 49 1 114 0 -18 1 -100 1 53 1 -6 1 -35 1 -4 1 -32 1 -23 1 -4 1 83 1 -62 0 5 1 18 1 1 1 47 1 58 1 -57 1 135 1 -158 1 9 1 33 1 -29 0 103 1 -15 1 -190 1 158 1 -92 1 -49 1 26 1 122 1 -74 1 17 1 41 0 1 1 -61 1 3 1 26 1 96 1 -49 1 -150 1 134 1 -12 1 -77 1 -37 0 18 1 29 1 -10 1 22 1 -92 1 14 1 60 1 -3 1 -39 1 46 1 -8 0 -20 1 9 1 -33 1 33 1 7 1 1 1 10 1 7 1 14 1 -25 1 30 0 -22 1 11 1 16 1 35 1 -26 1 -40 1 28 1 34 1 -33 1 -78 1 83 0 -37 1 6 1 20 1 -9 1 6 1 -20 1 -13 1 6 1 -19 1 18 1 -29 0 27 1 -4 1 -18 1 9 1 19 1 -22 1 43 1 1 1 -58 1 50 1 -28 0 1 1 -54 1 -58 1 85 1 -6 1 -1 1 39 1 9 1 -43 1 -14 1 -3 0 9 1 21 1 12 1 2 1 -3 1 -35 1 -5 1 50 1 -53 1 -70 1 47 0 -7 1 64 1 -22 1 -19 1 112 1 63 1 -86 1 -109 1 149 1 -78 1 22 0 -18 1 -42 1 -37 1 -31 1 47 1 102 1 -83 1 29 1 51 1 -55 1 32 0 -90 1 70 1 -104 1 28 1 191 1 -201 1 50 1 54 1 -105 1 128 1 -12 0 -15 1 17 1 19 1 -67 1 5 1 76 1 41 1 -92 1 41 1 -26 1 -25 0 21 1 -18 1 -21 1 40 1 -30 1 -7 1 40 1 -38 1 -19 1 -17 1 114 0 -44 1 23 1 -57 1 5 1 -33 1 38 1 -62 1 21 1 11 1 42 1 -15 0 18 1 -30 1 -72 1 88 1 -5 1 -43 1 -40 1 53 1 7 1 -13 1 -21 0 29 1 35 1 -5 1 -10 1 -25 1 -4 1 -4 1 29 1 21 1 -25 1 41 0 -16 1 -8 1 4 1 -18 1 -11 1 44 1 5 1 -20 1 5 1 -16 1 -56 0 2 1 22 1 32 1 -17 1 -30 1 38 1 -1 1 3 1 -10 1 24 1 -18 0 1 1 -7 1 30 1 -21 1 -5 1 5 1 -1 1 2 1 -10 1 3 1 11 0 -18 1 7 1 -4 1 -2 1 6 1 3 1 -15 1 5 1 10 1 -7 1 5 0 -3 1 0 1 -6 1 -2 1 18 1 -9 1 1 1 7 1 -14 1 2 1 -1 0 -5 1 -2 1 4 1 0 1 4 1 -5 1 7 1 0 1 18 1 -8 1 -7 0 4 1 2 1 -6 1 -22 1 10 1 -14 1 25 1 8 1 -35 1 35 1 -31 0 9 1 34 1 -56 1 52 1 7 1 21 1 -22 1 -8 1 6 1 -40 1 47 0 -59 1 19 1 38 1 3 1 3 1 -12 1 11 1 -5 1 -39 1 54 1 48 0 -67 1 17 1 5 1 30 1 29 1 -48 1 2 1 3 1 -75 1 9 1 7 0 32 1 26 1 -10 1 -21 1 -2 1 -38 1 6 1 91 1 -119 1 68 1 -29 0 -26 1 44 1 -86 1 94 1 36 1 -133 1 80 1 -51 1 18 1 116 1 -162 0 -5 1 -16 1 56 1 -30 1 -6 1 25 1 40 1 -91 1 0 1 51 1 30 0 -44 1 113 1 -151 1 0 1 12 1 12 1 110 1 -6 1 -134 1 97 1 -82 0 189 1 -3 1 36 1 7 1 -67 1 28 1 -46 1 2 1 -50 1 38 1 -41 0 25 1 -114 1 123 1 -20 1 141 1 -135 1 -60 1 193 1 -132 1 41 1 -40 0 75 1 -41 1 -116 1 48 1 -46 1 26 1 69 1 66 1 -121 1 -76 1 -15 0 66 1 41 1 95 1 -58 1 -61 1 -10 1 -20 1 5 1 33 1 -13 1 -24 0 13 1 167 1 -131 1 -75 1 79 1 -11 1 13 1 -52 1 52 1 27 1 -31 0 38 1 6 1 3 1 -124 1 44 1 -9 1 42 1 38 1 -9 1 8 1 14 0 17 1 69 1 -97 1 14 1 -13 1 14 1 -25 1 17 1 10 1 -41 1 101 0 -77 1 33 1 28 1 41 1 26 1 0 1 -53 1 -32 1 42 1 -36 1 -13 0 4 1 6 1 7 1 -142 1 118 1 -93 1 109 1 -18 1 -27 1 -11 1 142 0 -168 1 4 1 17 1 -46 1 83 1 -33 1 35 1 94 1 -106 1 -119 1 82 0 -88 1 30 1 -11 1 66 1 -11 1 2 1 -25 1 41 1 44 1 -50 1 23 0 -99 1 -15 1 78 1 -43 1 196 1 -150 1 5 1 17 1 -22 1 11 1 -63 0 43 1 14 1 27 1 -74 1 12 1 -82 1 -43 1 109 1 40 1 50 1 -105 0 -50 1 -13 1 56 1 25 1 -125 1 109 1 -114 1 29 1 37 1 21 1 9 0 -42 1 39 1 -32 1 9 1 -33 1 22 1 49 1 -51 1 -22 1 -27 1 58 0 -79 1 33 1 74 1 225 1 -215 1 9 1 -69 1 -59 1 -1 1 81 1 -60 0 -22 1 136 1 182 1 -119 1 -22 1 -115 1 -64 1 139 1 -55 1 6 1 5 0 14 1 -48 1 82 1 -31 1 232 1 -171 1 157 1 -111 1 45 1 -2 1 -163 0 29 1 33 1 36 1 14 1 28 1 -13 1 -10 1 -77 1 38 1 -8 1 -27 0 96 1 -78 1 14 1 -25 1 27 1 -32 1 -8 1 37 1 -76 1 32 1 89 0 -135 1 57 1 -153 1 150 1 -23 1 116 1 -93 1 -67 1 64 1 -3 1 34 0 3 1 -4 1 -62 1 49 1 -49 1 41 1 -90 1 112 1 -83 1 90 1 19 0 -97 1 -124 1 49 1 59 1 -15 1 44 1 203 1 -162 1 -84 1 -88 1 181 0 131 1 -85 1 -122 1 60 1 43 1 -120 1 101 1 -39 1 20 1 -23 1 30 0 -49 1 11 1 20 1 101 1 -161 1 -1 1 -101 1 137 1 135 1 -172 1 90 0 -55 1 -102 1 137 1 -50 1 -119 1 -10 1 0 1 -1 1 231 1 -164 1 -13 0 21 1 113 1 -184 1 168 1 100 1 -75 1 -22 1 -83 1 82 1 94 1 -166 0 -83 1 -25 1 16 1 253 1 -233 1 -38 1 136 1 47 1 126 1 -151 1 -28 0 195 1 -276 1 275 1 -1 1 -80 1 79 1 -8 1 -55 1 -240 1 71 1 82 0 110 1 -112 1 30 1 -19 1 40 1 -62 1 19 1 -24 1 36 1 57 1 -78 0 -42 1 56 1 -28 1 -9 1 9 1 -14 1 2 1 40 1 -38 1 0 1 0 0 -20 1 -18 1 25 1 56 1 -62 1 -101 1 105 1 6 1 -126 1 89 1 -50 0 -6 1 -64 1 91 1 75 1 -74 1 -43 1 48 1 -8 1 -14 1 77 1 -15 0 -40 1 24 1 34 1 -14 1 -26 1 -12 1 32 1 5 1 -69 1 24 1 -13 0 24 1 2 1 -3 1 47 1 -126 1 83 1 -23 1 82 1 -38 1 -2 1 13 0 78 1 -142 1 76 1 -35 1 -59 1 84 1 1 1 -20 1 -58 1 66 1 38 0 64 1 4 1 -104 1 58 1 -6 1 -1 1 -16 1 65 1 -110 1 47 1 9 0 -5 1 56 1 -70 1 54 1 -44 1 113 1 -196 1 11 1 94 1 -156 1 170 0 -57 1 59 1 77 1 -111 1 60 1 38 1 -146 1 54 1 -89 1 79 1 68 0 -125 1 81 1 -36 1 94 1 -108 1 -137 1 138 1 131 1 -109 1 76 1 -89 0 1 1 -11 1 65 1 63 1 -50 1 11 1 -15 1 23 1 14 1 13 1 0 0 -1 1 -44 1 25 1 2 1 -62 1 -207 1 249 1 -134 1 167 1 -42 1 -110 0 17 1 -81 1 88 1 -47 1 9 1 129 1 24 1 -236 1 146 1 -58 1 2 0 -17 1 63 1 -24 1 -25 1 51 1 -20 1 -3 1 -3 1 8 1 1 1 8 0 10 1 -37 1 24 1 -11 1 -6 1 -5 1 -26 1 21 1 4 1 -67 1 61 0 -43 1 48 1 -16 1 -29 1 1 1 120 1 -14 1 93 1 -169 1 12 1 153 0 -88 1 -61 1 -32 1 152 1 -200 1 94 1 15 1 -62 1 61 1 -11 1 -86 0 -47 1 34 1 -27 1 122 1 29 1 -30 1 5 1 -59 1 12 1 37 1 4 0 -4 1 18 1 20 1 -5 1 37 1 -18 1 31 1 -39 1 50 1 -24 1 24 0 -16 1 32 1 -19 1 34 1 -38 1 -6 1 43 1 -25 1 9 1 -58 1 -7 0 52 1 26 1 -62 1 60 1 -42 1 40 1 37 1 -107 1 63 1 -27 1 -94 0 87 1 -53 1 -27 1 -65 1 90 1 34 1 -33 1 31 1 -9 1 151 1 -103 0 -51 1 40 1 -173 1 79 1 120 1 -113 1 33 1 -10 1 57 1 -14 1 -66 0 -60 1 39 1 32 1 -85 1 110 1 -117 1 -1 1 89 1 -18 1 -25 1 -31 0 84 1 -26 1 78 1 49 1 2 1 -63 1 -14 1 39 1 -59 1 48 1 14 0 -26 1 5 1 2 1 0 1 18 1 -20 1 26 1 9 1 16 1 -12 1 -2 0 -27 1 -28 1 46 1 13 1 -2 1 48 1 -57 1 0 1 33 1 -10 1 -155 0 135 1 -5 1 -2 1 20 1 -22 1 11 1 -24 1 166 1 -175 1 9 1 164 0 10 1 -123 1 -42 1 15 1 27 1 -11 1 21 1 -40 1 49 1 -27 1 -49 0 181 1 -122 1 83 1 -33 1 -97 1 77 1 -27 1 0 1 17 1 -65 1 41 0 -7 1 38 1 -69 1 -11 1 42 1 -42 1 41 1 -36 1 20 1 -51 1 42 0 -30 1 -26 1 12 1 -62 1 173 1 -124 1 -8 1 14 1 25 1 -59 1 -5 0 -26 1 39 1 1 1 31 1 -5 1 49 1 117 1 -123 1 3 1 -11 1 30 0 62 1 -108 1 19 1 136 1 -53 1 -25 1 67 1 -43 1 -3 1 -40 1 33 0 -5 1 89 1 -117 1 52 1 -32 1 -15 1 -24 1 51 1 3 1 -22 1 -1 0 17 1 5 1 -36 1 74 1 -8 1 -21 1 -52 1 -12 1 -128 1 59 1 127 0 1 1 -57 1 16 1 32 1 38 1 -53 1 166 1 -341 1 200 1 6 1 -43 0 -1 1 -8 1 -80 1 -16 1 87 1 -6 1 14 1 -35 1 2 1 75 1 -83 0 27 1 -2 1 -132 1 148 1 -59 1 72 1 -33 1 0 1 -49 1 27 1 -22 0 6 1 38 1 -9 1 9 1 -24 1 -37 1 23 1 53 1 -36 1 -3 1 38 0 -45 1 102 1 0 1 38 1 -53 1 53 1 -63 1 11 1 -175 1 223 1 -38 0 -11 1 -40 1 -133 1 87 1 2 1 74 1 14 1 -81 1 15 1 36 1 -13 0 24 1 -21 1 1 1 -11 1 65 1 -101 1 -12 1 54 1 3 1 -39 1 -2 0 0 1 -54 1 224 1 -194 1 114 1 -33 1 14 1 -88 1 34 1 -54 1 8 0 22 1 43 1 -67 1 44 1 5 1 -12 1 -11 1 -6 1 6 1 10 1 7 0 -7 1 -7 1 0 1 0 1 8 1 -4 1 -1 1 -1 1 3 1 0 1 0 0 -3 1 6 1 3 1 0 1 0 1 0 1 -3 1 1 1 -1 1 1 1 0 0 1 1 1 1 -1 1 3 1 -2 1 -1 1 -1 1 -2 1 2 1 -1 1 4 0 -1 1 0 1 2 1 2 1 1 1 -3 1 -3 1 1 1 4 1 -4 1 2 0 -1 1 2 1 -2 1 1 1 -1 1 -2 1 6 1 -7 1 -1 1 3 1 -5 0 1 1 8 1 -2 1 -13 1 16 1 -2 1 -12 1 11 1 2 1 1 1 -5 0 -18 1 25 1 -11 1 13 1 -6 1 2 1 0 1 -7 1 -1 1 22 1 -37 0 -68 1 105 1 -20 1 15 1 -55 1 -34 1 56 1 -6 1 14 1 -31 1 24 0 -29 1 39 1 -4 1 -30 1 30 1 17 1 6 1 54 1 -86 1 16 1 -5 0 -26 1 5 1 -51 1 -39 1 24 1 -18 1 135 1 -121 1 -13 1 -116 1 156 0 162 1 -93 1 -99 1 55 1 71 1 140 1 -288 1 83 1 0 1 41 1 -24 0 121 1 -93 1 27 1 -21 1 -54 1 26 1 165 1 -17 1 -50 1 -131 1 33 0 61 1 -63 1 7 1 18 1 8 1 -10 1 11 1 -96 1 57 1 -25 1 40 0 -11 1 -55 1 72 1 -92 1 167 1 -82 1 24 1 57 1 32 1 -63 1 71 0 -321 1 387 1 -206 1 73 1 -68 1 -104 1 69 1 -148 1 0 1 198 1 -82 0 -41 1 15 1 1 1 32 1 0 1 86 1 -49 1 12 1 -167 1 102 1 -14 0 32 1 227 1 38 1 -269 1 72 1 -164 1 11 1 69 1 -86 1 101 1 53 0 -94 1 80 1 -82 1 63 1 250 1 -284 1 132 1 -74 1 158 1 -110 1 -3 0 -165 1 127 1 94 1 -36 1 5 1 19 1 -55 1 72 1 60 1 -75 1 -91 0 113 1 -36 1 -22 1 -98 1 88 1 -9 1 94 1 -159 1 -63 1 74 1 120 0 -42 1 -113 1 113 1 0 1 -23 1 71 1 -19 1 6 1 -39 1 148 1 -116 0 -9 1 -48 1 57 1 -7 1 -2 1 33 1 10 1 -16 1 -21 1 -18 1 17 0 20 1 11 1 96 1 -87 1 -28 1 25 1 -39 1 -36 1 -30 1 60 1 105 0 -56 1 -27 1 67 1 -33 1 -66 1 124 1 -35 1 -116 1 -49 1 55 1 -30 0 22 1 103 1 -101 1 -39 1 34 1 -68 1 23 1 29 1 10 1 -4 1 24 0 7 1 -6 1 -37 1 101 1 -48 1 -63 1 196 1 -127 1 14 1 -41 1 -24 0 -19 1 -27 1 44 1 -25 1 -19 1 -57 1 65 1 14 1 -80 1 180 1 -81 0 -100 1 110 1 84 1 159 1 -107 1 -2 1 -25 1 -34 1 -162 1 -20 1 100 0 10 1 37 1 10 1 -85 1 29 1 70 1 -60 1 71 1 62 1 30 1 -33 0 33 1 -190 1 121 1 77 1 13 1 -117 1 48 1 -58 1 63 1 -71 1 9 0 -12 1 16 1 -34 1 9 1 -25 1 78 1 -53 1 46 1 -12 1 -7 1 -23 0 22 1 -192 1 166 1 -11 1 12 1 17 1 -61 1 59 1 -37 1 23 1 37 0 -39 1 -26 1 32 1 22 1 -36 1 -91 1 37 1 58 1 -4 1 -45 1 59 0 -5 1 -29 1 18 1 -17 1 -24 1 41 1 7 1 -5 1 16 1 -48 1 36 0 -22 1 -20 1 22 1 7 1 -33 1 34 1 -55 1 38 1 46 1 -183 1 202 0 -69 1 -31 1 21 1 156 1 -183 1 28 1 5 1 -19 1 -27 1 19 1 -66 0 1 1 51 1 27 1 -68 1 75 1 -13 1 -29 1 -78 1 53 1 14 1 24 0 -53 1 26 1 9 1 -67 1 96 1 -60 1 57 1 -55 1 103 1 -4 1 -174 0 279 1 -157 1 -38 1 -1 1 -43 1 43 1 33 1 -33 1 31 1 -34 1 4 0 24 1 -84 1 78 1 -49 1 132 1 -78 1 -15 1 -41 1 36 1 39 1 -24 0 32 1 -37 1 40 1 55 1 -84 1 54 1 -16 1 -37 1 2 1 30 1 12 0 23 1 -20 1 -52 1 68 1 -13 1 -16 1 -42 1 74 1 -24 1 -17 1 20 0 -44 1 44 1 -152 1 94 1 13 1 -28 1 94 1 -139 1 89 1 8 1 -34 0 4 1 -15 1 193 1 -185 1 -9 1 -3 1 6 1 -13 1 -22 1 57 1 157 0 -115 1 -56 1 -6 1 86 1 29 1 18 1 -30 1 -14 1 -19 1 20 1 -58 0 59 1 -57 1 0 1 -7 1 38 1 17 1 -36 1 -21 1 39 1 131 1 -175 0 -138 1 109 1 1 1 65 1 -34 1 0 1 18 1 -46 1 -68 1 -28 1 62 0 26 1 8 1 18 1 18 1 -29 1 5 1 -11 1 -3 1 -24 1 50 1 -37 0 35 1 -30 1 6 1 52 1 37 1 -7 1 -58 1 -1 1 -46 1 18 1 -4 0 21 1 26 1 -10 1 -13 1 0 1 20 1 27 1 0 1 10 1 -25 1 -74 0 57 1 41 1 28 1 -43 1 38 1 10 1 -155 1 82 1 45 1 -107 1 99 0 -40 1 -28 1 34 1 -17 1 -26 1 51 1 9 1 -41 1 47 1 -84 1 19 0 -3 1 72 1 -35 1 34 1 3 1 -25 1 9 1 -204 1 177 1 1 1 6 0 63 1 -5 1 3 1 -21 1 27 1 -1 1 -77 1 62 1 -22 1 -19 1 -36 0 43 1 -78 1 -55 1 76 1 36 1 -27 1 -36 1 93 1 -46 1 47 1 -66 0 -49 1 129 1 101 1 -149 1 6 1 -78 1 1 1 -19 1 186 1 68 1 -214 0 28 1 60 1 -55 1 -148 1 72 1 149 1 -36 1 -210 1 153 1 68 1 78 0 -91 1 -61 1 -147 1 275 1 -206 1 192 1 -66 1 -133 1 104 1 1 1 -79 0 102 1 162 1 -95 1 -28 1 71 1 -130 1 50 1 -41 1 76 1 -1 1 -49 0 5 1 -54 1 34 1 50 1 -104 1 16 1 0 1 25 1 -14 1 27 1 -22 0 11 1 -36 1 8 1 -16 1 59 1 -21 1 -18 1 92 1 -128 1 24 1 98 0 -116 1 70 1 -39 1 49 1 -25 1 19 1 -39 1 15 1 -32 1 87 1 -58 0 -44 1 -3 1 17 1 63 1 -61 1 6 1 -19 1 139 1 -100 1 32 1 32 0 -33 1 -24 1 4 1 -33 1 -4 1 7 1 8 1 -7 1 40 1 68 1 -74 0 64 1 -46 1 38 1 12 1 9 1 21 1 0 1 8 1 -71 1 26 1 8 0 -32 1 -12 1 -13 1 8 1 22 1 -91 1 78 1 -15 1 31 1 -36 1 26 0 -23 1 20 1 123 1 -126 1 19 1 5 1 -5 1 -42 1 -25 1 62 1 2 0 -15 1 -29 1 4 1 37 1 -2 1 -12 1 70 1 -72 1 -112 1 241 1 -215 0 251 1 -181 1 34 1 95 1 36 1 -97 1 -81 1 74 1 -230 1 198 1 -102 0 200 1 -158 1 166 1 51 1 -28 1 -168 1 2 1 -101 1 38 1 254 1 -343 0 -2 1 1 1 0 1 14 1 64 1 100 1 94 1 -3 1 45 1 -148 1 81 0 12 1 50 1 27 1 -1 1 0 1 -236 1 131 1 -52 1 74 1 -97 1 177 0 -114 1 95 1 -293 1 243 1 66 1 -148 1 55 1 92 1 -258 1 256 1 -267 0 137 1 124 1 -114 1 118 1 -2 1 1 1 -135 1 29 1 -76 1 18 1 70 0 91 1 -63 1 -51 1 -16 1 20 1 38 1 -34 1 102 1 -146 1 23 1 -2 0 17 1 23 1 -2 1 10 1 -27 1 3 1 1 1 -22 1 14 1 6 1 -5 0 13 1 -135 1 130 1 55 1 -1 1 -49 1 -2 1 91 1 -52 1 -33 1 -66 0 10 1 3 1 -55 1 30 1 66 1 57 1 26 1 -34 1 58 1 -14 1 -48 0 -17 1 -21 1 6 1 -56 1 86 1 66 1 -112 1 112 1 -30 1 -109 1 10 0 35 1 68 1 -34 1 62 1 -12 1 12 1 -15 1 -3 1 -7 1 2 1 -81 0 88 1 17 1 -76 1 -63 1 -10 1 84 1 0 1 48 1 -87 1 96 1 -69 0 7 1 -97 1 16 1 154 1 -43 1 -27 1 6 1 16 1 -168 1 63 1 2 0 39 1 114 1 -130 1 28 1 -17 1 -28 1 21 1 -4 1 56 1 -75 1 72 0 4 1 2 1 -9 1 20 1 -18 1 -75 1 110 1 -107 1 13 1 37 1 104 0 0 1 -56 1 38 1 18 1 -38 1 -34 1 -23 1 14 1 -62 1 -30 1 66 0 -75 1 50 1 24 1 -7 1 -56 1 54 1 48 1 -48 1 50 1 -44 1 16 0 22 1 -13 1 -24 1 7 1 37 1 -84 1 8 1 17 1 -26 1 11 1 -3 0 5 1 -31 1 43 1 0 1 -58 1 -16 1 47 1 4 1 -76 1 57 1 -67 0 54 1 14 1 -19 1 29 1 -65 1 18 1 -57 1 19 1 15 1 4 1 22 0 -24 1 53 1 17 1 -30 1 -10 1 15 1 -78 1 92 1 -44 1 164 1 -49 0 104 1 -16 1 -63 1 -70 1 149 1 -105 1 -18 1 34 1 90 1 0 1 -246 0 29 1 53 1 -84 1 -90 1 209 1 -36 1 -26 1 -8 1 -129 1 -10 1 119 0 -51 1 48 1 -21 1 -78 1 48 1 -72 1 147 1 54 1 -158 1 181 1 -69 0 -158 1 118 1 -119 1 197 1 -126 1 107 1 -22 1 30 1 -136 1 132 1 -176 0 155 1 -23 1 -75 1 -21 1 129 1 -25 1 59 1 -71 1 136 1 -115 1 -3 0 -25 1 70 1 32 1 65 1 -192 1 41 1 -30 1 -8 1 119 1 -105 1 4 0 28 1 -7 1 -33 1 11 1 -18 1 -43 1 -27 1 84 1 34 1 -22 1 58 0 -64 1 9 1 10 1 -32 1 -34 1 -21 1 77 1 -43 1 68 1 -2 1 43 0 9 1 7 1 40 1 -26 1 -10 1 21 1 3 1 -10 1 75 1 -59 1 21 0 -34 1 19 1 -8 1 44 1 13 1 -74 1 41 1 -34 1 15 1 -21 1 27 0 16 1 -15 1 22 1 -23 1 -16 1 -187 1 203 1 -12 1 -55 1 2 1 19 0 -26 1 10 1 -11 1 21 1 9 1 32 1 0 1 139 1 -97 1 -14 1 -6 0 -12 1 19 1 -6 1 6 1 3 1 -13 1 -2 1 -65 1 110 1 -58 1 6 0 -14 1 41 1 -63 1 -44 1 4 1 196 1 -105 1 -68 1 59 1 -35 1 -85 0 3 1 -12 1 68 1 13 1 -32 1 -126 1 224 1 -36 1 19 1 -20 1 -143 0 68 1 -110 1 0 1 0 1 0 1 183 1 -154 1 54 1 2 1 79 1 -94 0 25 1 46 1 -53 1 42 1 -16 1 6 1 -120 1 55 1 26 1 -48 1 36 0 23 1 105 1 35 1 -4 1 -97 1 -10 1 15 1 -2 1 0 1 -62 1 -72 0 204 1 -57 1 80 1 -146 1 125 1 104 1 -96 1 43 1 -52 1 -11 1 -100 0 96 1 -26 1 -87 1 107 1 -66 1 -5 1 -82 1 -31 1 9 1 134 1 -21 0 -122 1 24 1 -24 1 0 1 0 1 5 1 23 1 2 1 67 1 -7 1 -90 0 0 1 220 1 -6 1 -137 1 67 1 -4 1 28 1 -26 1 -148 1 220 1 8 0 -154 1 17 1 -54 1 87 1 2 1 -114 1 175 1 -15 1 -90 1 -76 1 150 0 -28 1 -43 1 43 1 13 1 25 1 9 1 -160 1 196 1 -51 1 29 1 -22 0 36 1 20 1 -43 1 -55 1 67 1 -15 1 118 1 -105 1 -8 1 45 1 48 0 -78 1 -18 1 -70 1 -12 1 63 1 -27 1 103 1 -103 1 1 1 0 1 -25 0 72 1 -55 1 -16 1 30 1 -17 1 16 1 -53 1 16 1 38 1 18 1 -3 0 -17 1 11 1 -89 1 36 1 42 1 23 1 49 1 -34 1 -29 1 8 1 30 0 18 1 101 1 -35 1 -8 1 54 1 -164 1 68 1 16 1 78 1 -34 1 34 0 -164 1 166 1 -88 1 -93 1 -4 1 27 1 8 1 26 1 134 1 -121 1 -48 0 71 1 -46 1 -23 1 15 1 -71 1 131 1 -11 1 -49 1 37 1 42 1 -23 0 -8 1 -36 1 92 1 -68 1 13 1 41 1 -73 1 -19 1 65 1 -63 1 37 0 50 1 -169 1 173 1 5 1 28 1 -86 1 -9 1 -62 1 94 1 -27 1 26 0 -12 1 50 1 -6 1 -6 1 15 1 42 1 -4 1 1 1 -18 1 65 1 -47 0 -51 1 125 1 -27 1 -60 1 79 1 -30 1 -22 1 -7 1 -47 1 30 1 -25 0 -19 1 1 1 -41 1 71 1 -25 1 -33 1 3 1 -44 1 89 1 28 1 100 0 -149 1 48 1 49 1 -254 1 48 1 29 1 28 1 -2 1 25 1 -86 1 -66 0 194 1 -66 1 -19 1 -104 1 123 1 39 1 -93 1 -40 1 47 1 37 1 -16 0 28 1 -41 1 89 1 -22 1 53 1 -79 1 31 1 43 1 -34 1 19 1 -117 0 10 1 -83 1 135 1 20 1 -2 1 14 1 -53 1 67 1 -16 1 -45 1 42 0 2 1 2 1 -60 1 79 1 -70 1 -2 1 28 1 -5 1 -6 1 -7 1 -23 0 8 1 23 1 10 1 -13 1 14 1 0 1 -22 1 -13 1 52 1 -69 1 40 0 -19 1 -11 1 1 1 -20 1 3 1 89 1 -123 1 52 1 18 1 35 1 -17 0 -6 1 9 1 -21 1 5 1 2 1 -26 1 4 1 -20 1 13 1 -16 1 -34 0 27 1 -12 1 8 1 0 1 -19 1 -8 1 48 1 -35 1 -34 1 69 1 4 0 13 1 -10 1 -45 1 -19 1 24 1 1 1 7 1 -33 1 31 1 69 1 0 0 -43 1 7 1 11 1 -9 1 3 1 8 1 81 1 -71 1 -58 1 31 1 -9 0 10 1 -15 1 20 1 -56 1 0 1 4 1 62 1 -74 1 91 1 -49 1 38 0 -2 1 15 1 25 1 -36 1 22 1 20 1 -10 1 -17 1 43 1 6 1 8 0 -26 1 -17 1 29 1 -17 1 0 1 -63 1 68 1 -47 1 -13 1 -46 1 78 0 -17 1 -1 1 -8 1 25 1 -22 1 12 1 -5 1 -7 1 33 1 -82 1 77 0 -2 1 -63 1 52 1 20 1 -18 1 -27 1 14 1 18 1 0 1 6 1 -76 0 -15 1 12 1 23 1 49 1 40 1 -13 1 -31 1 7 1 -36 1 45 1 -72 0 -36 1 71 1 6 1 -22 1 5 1 -72 1 79 1 -18 1 9 1 -63 1 19 0 57 1 7 1 -2 1 6 1 -19 1 6 1 13 1 -19 1 13 1 0 1 85 0 -85 1 0 1 -36 1 47 1 10 1 -22 1 -15 1 -34 1 51 1 -7 1 11 0 12 1 -7 1 21 1 -22 1 9 1 3 1 7 1 -7 1 -19 1 -8 1 -14 0 16 1 -8 1 1 1 -5 1 2 1 54 1 -126 1 45 1 25 1 19 1 -24 0 6 1 22 1 5 1 -35 1 -25 1 40 1 -79 1 41 1 5 1 15 1 73 0 -62 1 0 1 15 1 -13 1 -75 1 0 1 12 1 -12 1 53 1 -30 1 -21 0 -3 1 52 1 13 1 -14 1 122 1 -106 1 -25 1 22 1 -27 1 10 1 97 0 -145 1 97 1 9 1 -71 1 26 1 40 1 22 1 -35 1 15 1 17 1 0 0 -1 1 -22 1 -16 1 10 1 38 1 17 1 -41 1 -29 1 -11 1 -20 1 46 0 -26 1 -70 1 94 1 0 1 6 1 -73 1 44 1 8 1 -59 1 21 1 41 0 24 1 84 1 -2 1 -97 1 71 1 -160 1 83 1 11 1 94 1 1 1 -47 0 -98 1 85 1 -36 1 -14 1 -71 1 16 1 76 1 -25 1 4 1 -12 1 -69 0 105 1 49 1 -26 1 -10 1 2 1 19 1 -15 1 -124 1 -1 1 34 1 -34 0 30 1 61 1 -48 1 13 1 91 1 -120 1 88 1 18 1 24 1 -7 1 -98 0 130 1 -71 1 25 1 9 1 -9 1 -20 1 0 1 35 1 5 1 -16 1 20 0 -16 1 -54 1 48 1 -23 1 -19 1 8 1 10 1 -36 1 6 1 37 1 -18 0 -75 1 -31 1 83 1 78 1 -40 1 -72 1 86 1 -41 1 109 1 -204 1 124 0 78 1 -111 1 41 1 -2 1 -98 1 75 1 -12 1 -42 1 84 1 53 1 -87 0 5 1 2 1 6 1 21 1 -2 1 34 1 -31 1 -33 1 -3 1 14 1 -27 0 3 1 -94 1 -4 1 66 1 33 1 -20 1 -76 1 65 1 38 1 -8 1 -40 0 67 1 -10 1 -20 1 -20 1 -73 1 85 1 -17 1 40 1 -13 1 -11 1 7 0 -10 1 50 1 -37 1 -6 1 27 1 1 1 -39 1 -46 1 -21 1 76 1 0 0 -9 1 -10 1 -9 1 6 1 -24 1 40 1 -22 1 20 1 23 1 -19 1 -19 0 -10 1 70 1 -62 1 14 1 -6 1 -3 1 -14 1 14 1 10 1 -42 1 -15 0 84 1 -12 1 -24 1 -23 1 -9 1 43 1 -36 1 62 1 -30 1 -41 1 -17 0 -2 1 -16 1 -2 1 81 1 -40 1 44 1 5 1 -15 1 -54 1 92 1 -38 0 -34 1 99 1 -68 1 31 1 -33 1 11 1 41 1 3 1 90 1 -124 1 39 0 -114 1 136 1 -150 1 201 1 -38 1 -17 1 71 1 -54 1 -61 1 56 1 19 0 -101 1 71 1 46 1 -29 1 -32 1 -3 1 28 1 -34 1 10 1 39 1 8 0 -48 1 17 1 -9 1 75 1 3 1 -91 1 65 1 -79 1 32 1 -46 1 -18 0 95 1 -19 1 45 1 -6 1 15 1 8 1 -101 1 69 1 -46 1 52 1 -96 0 -12 1 131 1 -130 1 20 1 0 1 52 1 -36 1 37 1 -16 1 -55 1 77 0 -80 1 20 1 3 1 -35 1 -44 1 76 1 -11 1 45 1 14 1 23 1 -35 0 -21 1 36 1 33 1 -26 1 -5 1 -35 1 20 1 6 1 33 1 -61 1 38 0 -20 1 41 1 14 1 8 1 -73 1 57 1 -39 1 40 1 -49 1 -26 1 59 0 26 1 -19 1 -167 1 147 1 25 1 -12 1 -10 1 -30 1 90 1 -99 1 -113 0 67 1 128 1 -131 1 5 1 25 1 -21 1 -26 1 66 1 -80 1 17 1 64 0 8 1 -10 1 16 1 -59 1 47 1 18 1 -36 1 89 1 -52 1 44 1 17 0 -63 1 -59 1 53 1 70 1 -183 1 81 1 118 1 -129 1 8 1 -22 1 -43 0 34 1 -58 1 85 1 -71 1 93 1 -107 1 0 1 22 1 26 1 54 1 -17 0 -4 1 -62 1 47 1 3 1 -15 1 91 1 -129 1 65 1 7 1 22 1 16 0 5 1 -29 1 109 1 -130 1 47 1 11 1 9 1 -20 1 -7 1 39 1 -32 0 -26 1 3 1 -14 1 15 1 -7 1 -22 1 20 1 17 1 -7 1 -17 1 62 0 -111 1 105 1 -7 1 -63 1 -5 1 71 1 -29 1 -24 1 -12 1 43 1 -29 0 37 1 74 1 -111 1 -11 1 -45 1 52 1 28 1 -62 1 68 1 92 1 -122 0 -28 1 32 1 7 1 -6 1 5 1 -34 1 -56 1 95 1 52 1 -44 1 -33 0 -19 1 28 1 40 1 -23 1 -28 1 -40 1 34 1 129 1 -15 1 -94 1 48 0 -26 1 -13 1 -25 1 -37 1 39 1 -14 1 -3 1 18 1 0 1 39 1 -27 0 27 1 -4 1 -57 1 15 1 9 1 26 1 -65 1 52 1 -59 1 -25 1 130 0 -112 1 67 1 70 1 -35 1 -22 1 -13 1 17 1 7 1 32 1 -89 1 30 0 20 1 34 1 11 1 -6 1 -55 1 9 1 10 1 42 1 -43 1 37 1 -27 0 36 1 -80 1 -6 1 12 1 2 1 -23 1 52 1 -40 1 -73 1 64 1 -2 0 9 1 -22 1 -22 1 44 1 22 1 -4 1 -3 1 79 1 -18 1 -25 1 51 0 -40 1 52 1 -32 1 19 1 -94 1 133 1 16 1 1 1 -86 1 0 1 -30 0 52 1 -21 1 3 1 23 1 60 1 -90 1 -8 1 19 1 41 1 -90 1 87 0 -71 1 -36 1 102 1 -59 1 51 1 57 1 -66 1 11 1 -94 1 33 1 -117 0 129 1 -83 1 -19 1 63 1 24 1 5 1 17 1 2 1 6 1 1 1 13 0 -14 1 35 1 -48 1 -58 1 68 1 -7 1 -33 1 19 1 -5 1 13 1 25 0 -7 1 -7 1 -2 1 4 1 -6 1 -16 1 2 1 67 1 -20 1 47 1 -13 0 30 1 -55 1 49 1 -11 1 -27 1 -3 1 -8 1 18 1 21 1 -38 1 -7 0 -26 1 -25 1 -16 1 -29 1 -3 1 11 1 48 1 -25 1 24 1 -62 1 80 0 -48 1 63 1 -25 1 -44 1 22 1 -31 1 13 1 30 1 -35 1 1 1 32 0 -22 1 -24 1 9 1 -13 1 55 1 -12 1 -18 1 38 1 18 1 -46 1 51 0 -37 1 9 1 30 1 56 1 -135 1 12 1 156 1 -92 1 -162 1 119 1 -110 0 98 1 82 1 19 1 -46 1 -47 1 -17 1 58 1 100 1 -92 1 -29 1 32 0 -6 1 23 1 -14 1 15 1 -18 1 -13 1 -29 1 -7 1 -94 1 73 1 32 0 -17 1 22 1 -32 1 -91 1 2 1 36 1 -19 1 39 1 76 1 -97 1 104 0 -16 1 36 1 -63 1 -13 1 107 1 -42 1 -14 1 55 1 62 1 0 1 -75 0 75 1 -52 1 -17 1 8 1 -15 1 -76 1 13 1 25 1 10 1 -8 1 0 0 46 1 -95 1 58 1 -13 1 100 1 -74 1 -25 1 -1 1 -8 1 8 1 -63 0 172 1 -90 1 -49 1 67 1 -143 1 36 1 -36 1 -15 1 -47 1 -2 1 84 0 94 1 -88 1 39 1 -40 1 -9 1 34 1 -12 1 2 1 42 1 -24 1 64 0 -37 1 -64 1 53 1 3 1 1 1 -46 1 -21 1 45 1 -31 1 46 1 -8 0 -143 1 132 1 -23 1 -98 1 0 1 267 1 -19 1 -170 1 -95 1 126 1 23 0 -56 1 106 1 30 1 -55 1 -4 1 -34 1 -7 1 -55 1 210 1 -17 1 -33 0 27 1 -48 1 -223 1 141 1 -143 1 154 1 43 1 -63 1 63 1 95 1 -208 0 -10 1 52 1 3 1 31 1 -29 1 -2 1 -6 1 6 1 37 1 5 1 -11 0 37 1 -3 1 -11 1 23 1 -11 1 12 1 -16 1 -15 1 23 1 17 1 -45 0 5 1 7 1 21 1 -5 1 -101 1 -10 1 17 1 27 1 -115 1 225 1 -149 0 64 1 -58 1 41 1 -26 1 -46 1 44 1 1 1 11 1 -27 1 -24 1 97 0 -54 1 52 1 -117 1 202 1 -86 1 -6 1 -50 1 43 1 -2 1 -39 1 28 0 63 1 -188 1 155 1 -52 1 30 1 -194 1 317 1 -174 1 15 1 -3 1 -15 0 -76 1 70 1 -26 1 46 1 -41 1 52 1 23 1 1 1 -8 1 -38 1 -6 0 49 1 -115 1 139 1 -111 1 22 1 21 1 24 1 -33 1 22 1 38 1 -42 0 -59 1 -38 1 68 1 -91 1 208 1 -79 1 -183 1 108 1 28 1 192 1 -99 0 -194 1 110 1 -26 1 -124 1 113 1 -61 1 272 1 -171 1 -135 1 56 1 112 0 -191 1 -1 1 -1 1 28 1 -29 1 -1 1 0 1 -1 1 145 1 88 1 15 0 -195 1 -53 1 230 1 -60 1 -94 1 89 1 -43 1 -21 1 -17 1 -24 1 62 0 -58 1 -3 1 61 1 -114 1 172 1 -193 1 102 1 -37 1 68 1 36 1 -173 0 77 1 84 1 -4 1 -51 1 -3 1 34 1 -50 1 -17 1 -8 1 46 1 -50 0 145 1 -77 1 -30 1 13 1 -60 1 60 1 2 1 -107 1 35 1 89 1 -26 0 -26 1 45 1 60 1 -9 1 47 1 -67 1 35 1 -34 1 56 1 -164 1 122 0 -91 1 50 1 -132 1 111 1 -65 1 75 1 123 1 -39 1 -233 1 144 1 34 0 -82 1 34 1 18 1 12 1 -33 1 9 1 23 1 -17 1 28 1 -36 1 -33 0 127 1 -46 1 -77 1 100 1 -127 1 112 1 -171 1 70 1 -33 1 -43 1 -21 0 -3 1 221 1 -184 1 97 1 -17 1 -130 1 -1 1 -1 1 123 1 -49 1 52 0 -73 1 -27 1 184 1 -67 1 68 1 -177 1 158 1 -181 1 -24 1 130 1 -4 0 -81 1 105 1 -64 1 -66 1 -22 1 100 1 -37 1 -40 1 116 1 -71 1 -71 0 131 1 -26 1 -34 1 74 1 113 1 -26 1 -101 1 39 1 13 1 1 1 -28 0 30 1 -44 1 55 1 5 1 -81 1 78 1 141 1 0 1 -164 1 163 1 -20 0 20 1 0 1 -77 1 -43 1 104 1 -115 1 -129 1 38 1 220 1 -109 1 24 0 -19 1 -137 1 50 1 23 1 170 1 -97 1 -43 1 96 1 10 1 17 1 -9 0 -19 1 -17 1 -22 1 -40 1 78 1 -67 1 36 1 -88 1 140 1 -92 1 16 0 -19 1 58 1 31 1 25 1 -63 1 7 1 -18 1 -20 1 -19 1 42 1 -68 0 45 1 -23 1 -68 1 91 1 11 1 73 1 -12 1 6 1 -17 1 1 1 -21 0 -6 1 2 1 -19 1 67 1 -50 1 -7 1 3 1 5 1 7 1 -21 1 -7 0 -67 1 21 1 -22 1 46 1 -83 1 97 1 48 1 -78 1 63 1 -48 1 9 0 2 1 22 1 -18 1 -2 1 8 1 -28 1 17 1 -13 1 -13 1 27 1 10 0 25 1 -23 1 -26 1 41 1 -55 1 38 1 14 1 32 1 -67 1 -3 1 22 0 3 1 -8 1 -9 1 15 1 4 1 29 1 -64 1 41 1 -69 1 21 1 54 0 -50 1 31 1 -9 1 9 1 3 1 -25 1 -18 1 9 1 22 1 19 1 0 0 -59 1 -5 1 -73 1 69 1 -55 1 7 1 93 1 -97 1 88 1 -97 1 29 0 136 1 -2 1 -118 1 -48 1 -83 1 42 1 112 1 -129 1 62 1 -43 1 98 0 -91 1 105 1 4 1 -113 1 31 1 41 1 -34 1 -4 1 10 1 16 1 -31 0 45 1 -24 1 -17 1 -10 1 5 1 -44 1 41 1 -47 1 33 1 -40 1 -43 0 78 1 -24 1 9 1 14 1 -15 1 -44 1 7 1 -13 1 74 1 -111 1 18 0 16 1 -76 1 6 1 34 1 22 1 49 1 -34 1 -39 1 71 1 27 1 -5 0 13 1 -92 1 33 1 -18 1 -51 1 -22 1 100 1 31 1 0 1 5 1 18 0 -61 1 153 1 -7 1 -171 1 126 1 -50 1 -123 1 109 1 -24 1 -3 1 29 0 -1 1 116 1 -71 1 -103 1 21 1 148 1 -59 1 9 1 -96 1 103 1 -132 0 147 1 -3 1 -172 1 26 1 21 1 -12 1 56 1 38 1 -16 1 16 1 11 0 -72 1 21 1 -45 1 -34 1 25 1 -15 1 209 1 -176 1 62 1 -23 1 -54 0 186 1 -55 1 28 1 -62 1 62 1 -105 1 48 1 47 1 -45 1 -68 1 -17 0 -35 1 29 1 -25 1 2 1 83 1 -77 1 101 1 19 1 -93 1 224 1 -180 0 45 1 -101 1 115 1 -111 1 116 1 38 1 -147 1 124 1 -33 1 106 1 -86 0 -28 1 30 1 -44 1 77 1 -42 1 -7 1 26 1 -52 1 34 1 -52 1 55 0 7 1 -8 1 48 1 18 1 -67 1 40 1 16 1 14 1 -46 1 26 1 7 0 84 1 7 1 -60 1 18 1 48 1 -88 1 -32 1 72 1 -98 1 127 1 -16 0 -11 1 27 1 68 1 -95 1 75 1 -52 1 -23 1 -71 1 45 1 7 1 1 0 36 1 -163 1 124 1 -27 1 63 1 -46 1 13 1 48 1 -28 1 -16 1 -89 0 123 1 5 1 -50 1 -33 1 59 1 13 1 -41 1 75 1 -56 1 -69 1 71 0 36 1 0 1 -69 1 14 1 63 1 -14 1 -54 1 149 1 -44 1 -70 1 -37 0 15 1 -7 1 -14 1 55 1 -39 1 -9 1 -97 1 72 1 15 1 4 1 -90" fill="none" stroke="#D95319" stroke-width="5"/>
<line x1="50" y1="72" x2="481" y2="72" stroke="#555" stroke-width="1.3" stroke-dasharray="5 5"/>
<path d="M49.5 11H481.5V133.5H49.5Z" fill="none" stroke="#b0b0b0" stroke-width="1"/>
<path d="M103.3 133.0v-4M103.3 11.0v4" stroke="#6a6a6a" stroke-width="0.8"/>
<path d="M157.3 133.0v-4M157.3 11.0v4" stroke="#6a6a6a" stroke-width="0.8"/>
<path d="M211.3 133.0v-4M211.3 11.0v4" stroke="#6a6a6a" stroke-width="0.8"/>
<path d="M265.3 133.0v-4M265.3 11.0v4" stroke="#6a6a6a" stroke-width="0.8"/>
<path d="M319.4 133.0v-4M319.4 11.0v4" stroke="#6a6a6a" stroke-width="0.8"/>
<path d="M373.4 133.0v-4M373.4 11.0v4" stroke="#6a6a6a" stroke-width="0.8"/>
<path d="M427.4 133.0v-4M427.4 11.0v4" stroke="#6a6a6a" stroke-width="0.8"/>
<path d="M481.4 133.0v-4M481.4 11.0v4" stroke="#6a6a6a" stroke-width="0.8"/>
<path d="M49.3 133.0h4M481.4 133.0h-4" stroke="#6a6a6a" stroke-width="0.8"/>
<path d="M49.3 102.5h4M481.4 102.5h-4" stroke="#6a6a6a" stroke-width="0.8"/>
<path d="M49.3 72.0h4M481.4 72.0h-4" stroke="#6a6a6a" stroke-width="0.8"/>
<path d="M49.3 41.5h4M481.4 41.5h-4" stroke="#6a6a6a" stroke-width="0.8"/>
<path d="M49.3 11.0h4M481.4 11.0h-4" stroke="#6a6a6a" stroke-width="0.8"/>
<text x="45.8" y="136.4" font-size="12" text-anchor="end">-2</text>
<text x="45.8" y="105.9" font-size="12" text-anchor="end">-1</text>
<text x="45.8" y="75.4" font-size="12" text-anchor="end">0</text>
<text x="45.8" y="44.9" font-size="12" text-anchor="end">1</text>
<text x="45.8" y="14.4" font-size="12" text-anchor="end">2</text>
<text x="103.3" y="147.6" font-size="12" text-anchor="middle" textLength="27.5" lengthAdjust="spacing">06:12</text>
<text x="157.3" y="147.6" font-size="12" text-anchor="middle" textLength="27.5" lengthAdjust="spacing">06:14</text>
<text x="211.3" y="147.6" font-size="12" text-anchor="middle" textLength="27.5" lengthAdjust="spacing">06:16</text>
<text x="265.3" y="147.6" font-size="12" text-anchor="middle" textLength="27.5" lengthAdjust="spacing">06:18</text>
<text x="319.4" y="147.6" font-size="12" text-anchor="middle" textLength="27.5" lengthAdjust="spacing">06:20</text>
<text x="373.4" y="147.6" font-size="12" text-anchor="middle" textLength="27.5" lengthAdjust="spacing">06:22</text>
<text x="427.4" y="147.6" font-size="12" text-anchor="middle" textLength="27.5" lengthAdjust="spacing">06:24</text>
<text x="481.4" y="147.6" font-size="12" text-anchor="middle" textLength="27.5" lengthAdjust="spacing">06:26</text>
<text x="140" y="163.5" font-size="14" textLength="250.5" lengthAdjust="spacing">UTC Time (local time - 3:00:00) [hh:mm:ss]</text>
<text x="411.8" y="163.3" font-size="12.5" textLength="66.5" lengthAdjust="spacing">Jun 07, 2024</text>
<text transform="translate(30.2,94.7) rotate(-90)" x="0" y="0" font-size="15" textLength="44.4" lengthAdjust="spacing"><tspan font-style="italic">u</tspan>′ [m/s]</text>
<text x="51.8" y="26.4" font-size="17" textLength="17.6" lengthAdjust="spacing" style="fill:#202020">(a)</text>
<rect x="170.5" y="16.5" width="190.5" height="13.8" fill="#fff" stroke="#aaa" stroke-width="1"/>
<path d="M173 23H192" stroke="#0072BD" stroke-width="0.6" stroke-opacity="0.75"/><circle cx="182.5" cy="23" r="0.7" fill="#0072BD"/>
<path d="M268.7 23H288" stroke="#D95319" stroke-width="0.6" stroke-opacity="0.75"/><circle cx="278.3" cy="23" r="0.7" fill="#D95319"/>
<text x="194.7" y="26.2" font-size="10.3" textLength="68.5" lengthAdjust="spacing">3D Pitot ū = 4.0</text>
<text x="290.3" y="26.2" font-size="10.3" textLength="68" lengthAdjust="spacing">1D Pitot ū = 6.2</text>
<path d="M49.9 281.5L51.4 281.8 52.9 282.3 54.4 281.6 55.9 281.9 57.4 280.9 58.9 281.0 60.4 280.3 61.9 281.0 63.4 281.5 64.9 281.5 66.4 281.1 67.9 280.2 69.4 280.8 70.9 281.0 72.4 281.0 73.9 279.8 75.4 279.5 76.9 280.1 78.4 280.6 79.9 280.9 81.4 281.3 82.9 281.6 84.4 280.6 85.9 280.3 87.4 280.2 88.9 279.0 90.4 278.6 91.9 279.2 93.4 279.8 94.9 279.6 96.4 278.5 97.9 278.3 99.4 278.1 100.9 279.3 102.4 280.2 103.9 280.2 105.4 278.7 106.9 278.5 108.4 278.9 109.9 278.9 111.4 278.2 112.9 278.0 114.4 276.5 115.9 277.4 117.4 278.0 118.9 276.9 120.4 275.7 121.9 277.5 123.4 276.6 124.9 276.9 126.4 276.5 127.9 277.1 129.4 276.8 130.9 276.3 132.4 275.8 133.9 275.4 135.4 275.3 136.9 274.1 138.4 274.3 139.9 273.5 141.4 273.0 142.9 272.9 144.4 272.0 145.9 271.1 147.4 270.6 148.9 270.6 150.4 270.6 151.9 269.5 153.4 269.4 154.9 268.8 156.4 268.0 157.9 269.5 159.4 269.7 160.9 270.5 162.4 270.6 163.9 269.0 165.4 268.4 166.9 268.8 168.4 268.9 169.9 268.6 171.4 267.7 172.9 268.5 174.4 268.4 175.9 268.5 177.4 267.7 178.9 267.2 180.4 267.3 181.9 267.8 183.4 268.1 184.9 267.2 186.4 267.3 187.9 266.7 189.4 266.9 190.9 266.4 192.4 266.0 193.9 265.3 195.4 265.7 196.9 266.3 198.4 266.1 199.9 265.7 201.4 266.0 202.9 266.1 204.4 266.0 205.9 264.7 207.4 265.1 208.9 265.5 210.4 265.3 211.9 266.1 213.4 265.4 214.9 265.7 216.4 266.5 217.9 266.9 219.4 267.8 220.9 268.6 222.4 268.6 223.9 270.1 225.4 269.3 226.9 269.8 228.4 269.6 229.9 270.0 231.4 271.1" fill="none" stroke="#0072BD" stroke-width="0.5" stroke-opacity="0.25"/>
<path d="M49.9 281.6L51.4 282.1 52.9 281.4 54.4 282.0 55.9 281.5 57.4 282.3 58.9 281.9 60.4 280.8 61.9 281.1 63.4 281.0 64.9 282.0 66.4 281.1 67.9 281.1 69.4 280.1 70.9 281.1 72.4 281.1 73.9 280.9 75.4 281.1 76.9 280.7 78.4 280.2 79.9 279.9 81.4 280.5 82.9 281.1 84.4 280.8 85.9 280.6 87.4 280.1 88.9 279.9 90.4 279.5 91.9 280.4 93.4 280.3 94.9 280.6 96.4 280.2 97.9 279.1 99.4 278.8 100.9 278.2 102.4 278.7 103.9 279.0 105.4 278.2 106.9 277.3 108.4 278.1 109.9 278.2 111.4 279.1 112.9 279.5 114.4 278.4 115.9 277.9 117.4 279.2 118.9 278.5 120.4 279.2 121.9 277.4 123.4 277.0 124.9 277.3 126.4 277.5 127.9 277.7 129.4 276.7 130.9 277.3 132.4 276.7 133.9 275.7 135.4 275.1 136.9 274.8 138.4 274.5 139.9 273.5 141.4 274.5 142.9 273.7 144.4 271.4 145.9 271.8 147.4 271.9 148.9 271.9 150.4 272.4 151.9 271.5 153.4 271.4 154.9 270.1 156.4 270.5 157.9 267.8 159.4 267.6 160.9 268.0 162.4 269.4 163.9 269.1 165.4 268.5 166.9 268.6 168.4 267.9 169.9 268.1 171.4 268.4 172.9 267.7 174.4 267.5 175.9 266.9 177.4 267.1 178.9 266.9 180.4 267.9 181.9 269.1 183.4 267.2 184.9 267.5 186.4 267.6 187.9 267.8 189.4 266.7 190.9 266.4 192.4 265.8 193.9 265.4 195.4 264.8 196.9 265.3 198.4 264.8 199.9 265.9 201.4 266.1 202.9 266.5 204.4 266.0 205.9 266.1 207.4 266.1 208.9 266.1 210.4 267.3 211.9 266.7 213.4 266.1 214.9 266.5 216.4 267.3 217.9 267.4 219.4 267.3 220.9 267.3 222.4 268.0 223.9 268.8 225.4 269.3 226.9 269.0 228.4 270.0 229.9 269.7 231.4 270.3" fill="none" stroke="#0072BD" stroke-width="0.5" stroke-opacity="0.25"/>
<path d="M49.9 280.5L51.4 280.8 52.9 281.1 54.4 281.5 55.9 281.5 57.4 281.8 58.9 280.7 60.4 281.4 61.9 281.2 63.4 280.5 64.9 279.8 66.4 280.0 67.9 280.0 69.4 279.6 70.9 279.3 72.4 279.6 73.9 280.4 75.4 279.6 76.9 279.1 78.4 278.8 79.9 278.5 81.4 279.1 82.9 278.8 84.4 278.7 85.9 279.1 87.4 279.1 88.9 279.4 90.4 279.3 91.9 279.4 93.4 278.9 94.9 278.4 96.4 278.0 97.9 279.1 99.4 278.6 100.9 277.8 102.4 279.0 103.9 278.3 105.4 278.2 106.9 277.9 108.4 278.2 109.9 277.0 111.4 276.8 112.9 277.1 114.4 277.7 115.9 276.9 117.4 278.0 118.9 277.5 120.4 276.8 121.9 276.5 123.4 276.5 124.9 276.2 126.4 275.5 127.9 275.3 129.4 275.7 130.9 273.9 132.4 274.4 133.9 274.1 135.4 273.2 136.9 273.3 138.4 273.7 139.9 273.8 141.4 273.2 142.9 272.7 144.4 272.6 145.9 271.7 147.4 271.2 148.9 270.9 150.4 270.9 151.9 269.8 153.4 269.7 154.9 269.7 156.4 269.3 157.9 269.3 159.4 269.0 160.9 268.1 162.4 267.7 163.9 267.4 165.4 266.3 166.9 266.2 168.4 267.3 169.9 266.7 171.4 266.2 172.9 266.6 174.4 266.2 175.9 266.4 177.4 265.0 178.9 263.8 180.4 264.9 181.9 264.8 183.4 266.0 184.9 266.8 186.4 265.8 187.9 264.7 189.4 264.4 190.9 264.8 192.4 265.6 193.9 265.9 195.4 265.5 196.9 265.0 198.4 265.0 199.9 263.9 201.4 264.3 202.9 264.1 204.4 263.7 205.9 263.4 207.4 262.7 208.9 262.8 210.4 263.3 211.9 263.4 213.4 263.2 214.9 263.5 216.4 263.7 217.9 264.1 219.4 263.3 220.9 264.8 222.4 265.3 223.9 265.5 225.4 265.6 226.9 266.3 228.4 267.4 229.9 267.6 231.4 267.1" fill="none" stroke="#0072BD" stroke-width="0.5" stroke-opacity="0.25"/>
<path d="M49.9 275.9L51.4 276.0 52.9 276.6 54.4 276.3 55.9 276.6 57.4 275.7 58.9 274.2 60.4 274.7 61.9 277.0 63.4 276.6 64.9 276.6 66.4 276.5 67.9 276.6 69.4 275.9 70.9 275.9 72.4 275.4 73.9 275.3 75.4 274.8 76.9 274.9 78.4 276.3 79.9 275.9 81.4 276.0 82.9 276.0 84.4 276.2 85.9 276.6 87.4 275.1 88.9 275.6 90.4 276.0 91.9 275.9 93.4 276.0 94.9 276.1 96.4 275.0 97.9 274.7 99.4 275.2 100.9 274.3 102.4 274.6 103.9 273.2 105.4 274.2 106.9 274.0 108.4 274.7 109.9 274.7 111.4 274.5 112.9 275.0 114.4 273.3 115.9 273.7 117.4 273.5 118.9 272.6 120.4 272.8 121.9 272.8 123.4 273.0 124.9 273.0 126.4 272.7 127.9 271.8 129.4 273.2 130.9 272.5 132.4 271.5 133.9 271.4 135.4 271.0 136.9 270.2 138.4 269.7 139.9 269.1 141.4 269.1 142.9 268.9 144.4 268.8 145.9 267.1 147.4 266.0 148.9 266.6 150.4 267.2 151.9 266.8 153.4 266.9 154.9 265.7 156.4 264.7 157.9 265.4 159.4 265.2 160.9 264.6 162.4 263.2 163.9 263.7 165.4 262.6 166.9 261.8 168.4 261.1 169.9 259.7 171.4 259.7 172.9 260.5 174.4 260.8 175.9 259.0 177.4 259.7 178.9 259.7 180.4 259.1 181.9 258.5 183.4 258.1 184.9 256.8 186.4 257.5 187.9 257.9 189.4 258.0 190.9 256.8 192.4 257.3 193.9 256.7 195.4 256.5 196.9 255.9 198.4 255.2 199.9 255.2 201.4 255.0 202.9 254.7 204.4 255.2 205.9 256.1 207.4 255.2 208.9 255.2 210.4 255.1 211.9 255.5 213.4 255.1 214.9 255.2 216.4 256.0 217.9 256.2 219.4 255.8 220.9 256.4 222.4 256.2 223.9 257.2 225.4 256.6 226.9 255.7 228.4 256.0 229.9 255.1 231.4 255.6" fill="none" stroke="#0072BD" stroke-width="0.5" stroke-opacity="0.25"/>
<path d="M49.9 278.1L51.4 277.5 52.9 277.6 54.4 277.9 55.9 277.8 57.4 278.2 58.9 277.7 60.4 277.9 61.9 277.6 63.4 277.6 64.9 276.7 66.4 276.3 67.9 276.3 69.4 276.3 70.9 277.0 72.4 276.9 73.9 276.7 75.4 277.3 76.9 277.7 78.4 277.6 79.9 277.8 81.4 277.7 82.9 277.5 84.4 277.3 85.9 277.3 87.4 276.8 88.9 277.0 90.4 276.4 91.9 276.3 93.4 276.7 94.9 277.1 96.4 275.8 97.9 276.6 99.4 276.8 100.9 276.6 102.4 276.9 103.9 276.4 105.4 276.6 106.9 277.2 108.4 276.3 109.9 276.1 111.4 276.5 112.9 276.3 114.4 275.5 115.9 274.9 117.4 274.9 118.9 275.0 120.4 274.6 121.9 275.2 123.4 275.7 124.9 275.7 126.4 274.7 127.9 274.8 129.4 273.7 130.9 272.9 132.4 272.4 133.9 273.2 135.4 272.6 136.9 271.5 138.4 272.0 139.9 271.7 141.4 272.0 142.9 271.4 144.4 270.9 145.9 271.0 147.4 270.5 148.9 269.2 150.4 268.6 151.9 268.0 153.4 266.7 154.9 265.2 156.4 266.2 157.9 265.5 159.4 266.5 160.9 266.2 162.4 266.3 163.9 265.4 165.4 265.5 166.9 265.6 168.4 265.2 169.9 264.4 171.4 264.1 172.9 264.5 174.4 263.9 175.9 264.6 177.4 263.0 178.9 263.2 180.4 263.4 181.9 263.1 183.4 262.9 184.9 262.2 186.4 261.6 187.9 260.8 189.4 260.0 190.9 259.9 192.4 260.8 193.9 261.0 195.4 260.5 196.9 260.1 198.4 259.7 199.9 259.9 201.4 259.7 202.9 260.6 204.4 260.5 205.9 260.0 207.4 259.7 208.9 259.8 210.4 259.6 211.9 260.1 213.4 260.6 214.9 259.7 216.4 259.0 217.9 259.1 219.4 259.3 220.9 260.1 222.4 260.6 223.9 259.8 225.4 259.7 226.9 260.8 228.4 261.0 229.9 261.2 231.4 260.5" fill="none" stroke="#0072BD" stroke-width="0.5" stroke-opacity="0.25"/>
<path d="M49.9 281.3L51.4 282.1 52.9 282.2 54.4 280.9 55.9 281.3 57.4 280.7 58.9 281.1 60.4 280.8 61.9 280.1 63.4 280.3 64.9 279.8 66.4 278.9 67.9 280.0 69.4 279.6 70.9 280.4 72.4 280.5 73.9 281.2 75.4 281.1 76.9 280.9 78.4 280.1 79.9 279.3 81.4 279.3 82.9 279.6 84.4 279.9 85.9 279.0 87.4 279.0 88.9 279.3 90.4 279.6 91.9 279.6 93.4 280.6 94.9 279.9 96.4 280.7 97.9 281.3 99.4 279.9 100.9 279.8 102.4 280.2 103.9 278.2 105.4 278.7 106.9 278.0 108.4 277.8 109.9 277.7 111.4 278.7 112.9 278.7 114.4 278.4 115.9 277.6 117.4 277.6 118.9 277.5 120.4 277.3 121.9 277.8 123.4 277.2 124.9 277.5 126.4 277.3 127.9 276.7 129.4 274.7 130.9 275.3 132.4 275.6 133.9 274.8 135.4 275.0 136.9 274.7 138.4 274.1 139.9 273.9 141.4 273.7 142.9 273.3 144.4 272.8 145.9 273.1 147.4 272.9 148.9 272.7 150.4 271.7 151.9 271.4 153.4 269.1 154.9 270.2 156.4 269.5 157.9 269.3 159.4 269.2 160.9 268.8 162.4 268.9 163.9 268.6 165.4 268.5 166.9 268.3 168.4 268.6 169.9 268.3 171.4 266.6 172.9 267.7 174.4 268.0 175.9 268.1 177.4 268.1 178.9 267.1 180.4 266.1 181.9 265.9 183.4 265.4 184.9 267.1 186.4 266.4 187.9 267.0 189.4 266.4 190.9 266.3 192.4 265.7 193.9 265.8 195.4 266.1 196.9 265.6 198.4 265.1 199.9 265.4 201.4 264.3 202.9 264.6 204.4 264.6 205.9 264.5 207.4 264.6 208.9 266.2 210.4 266.2 211.9 266.0 213.4 265.1 214.9 265.9 216.4 266.3 217.9 266.5 219.4 265.7 220.9 266.2 222.4 266.3 223.9 268.5 225.4 268.0 226.9 268.2 228.4 269.3 229.9 269.7 231.4 270.2" fill="none" stroke="#0072BD" stroke-width="0.5" stroke-opacity="0.25"/>
<path d="M49.9 276.7L51.4 275.8 52.9 276.0 54.4 276.4 55.9 276.6 57.4 276.3 58.9 276.4 60.4 277.4 61.9 277.0 63.4 277.8 64.9 276.1 66.4 277.2 67.9 275.7 69.4 276.2 70.9 275.1 72.4 275.8 73.9 276.6 75.4 276.9 76.9 277.2 78.4 275.7 79.9 275.6 81.4 275.5 82.9 275.7 84.4 274.9 85.9 275.3 87.4 275.1 88.9 275.9 90.4 277.4 91.9 277.2 93.4 277.9 94.9 276.1 96.4 276.7 97.9 275.7 99.4 275.4 100.9 275.4 102.4 275.3 103.9 275.3 105.4 274.9 106.9 275.0 108.4 275.7 109.9 274.5 111.4 274.7 112.9 274.6 114.4 274.6 115.9 275.3 117.4 275.5 118.9 274.7 120.4 273.8 121.9 274.4 123.4 274.8 124.9 273.8 126.4 274.2 127.9 272.5 129.4 272.3 130.9 272.1 132.4 271.0 133.9 271.4 135.4 272.4 136.9 270.9 138.4 271.0 139.9 271.3 141.4 269.9 142.9 270.0 144.4 269.6 145.9 268.7 147.4 267.9 148.9 266.3 150.4 266.6 151.9 266.0 153.4 265.0 154.9 265.3 156.4 265.7 157.9 266.3 159.4 265.6 160.9 265.1 162.4 265.6 163.9 264.5 165.4 264.5 166.9 263.7 168.4 263.2 169.9 262.7 171.4 263.1 172.9 262.5 174.4 262.6 175.9 261.7 177.4 260.6 178.9 260.1 180.4 260.0 181.9 259.6 183.4 259.4 184.9 260.4 186.4 259.4 187.9 258.5 189.4 259.0 190.9 258.0 192.4 258.0 193.9 257.5 195.4 258.3 196.9 257.9 198.4 257.3 199.9 257.4 201.4 256.6 202.9 256.7 204.4 257.0 205.9 258.4 207.4 257.2 208.9 257.4 210.4 257.2 211.9 257.9 213.4 257.6 214.9 256.9 216.4 257.1 217.9 257.0 219.4 255.8 220.9 255.4 222.4 256.1 223.9 257.0 225.4 258.1 226.9 257.4 228.4 257.9 229.9 258.0 231.4 257.4" fill="none" stroke="#0072BD" stroke-width="0.5" stroke-opacity="0.25"/>
<path d="M49.9 260.6L51.4 260.2 52.9 259.7 54.4 259.5 55.9 258.9 57.4 258.8 58.9 258.5 60.4 257.9 61.9 256.8 63.4 256.2 64.9 255.9 66.4 255.8 67.9 255.1 69.4 255.3 70.9 255.5 72.4 255.0 73.9 254.4 75.4 253.0 76.9 253.0 78.4 252.5 79.9 251.9 81.4 251.7 82.9 251.0 84.4 250.2 85.9 250.9 87.4 250.2 88.9 250.1 90.4 249.1 91.9 248.7 93.4 247.7 94.9 246.8 96.4 246.0 97.9 246.8 99.4 246.9 100.9 246.6 102.4 245.2 103.9 244.7 105.4 244.4 106.9 244.0 108.4 242.9 109.9 242.9 111.4 243.1 112.9 242.8 114.4 242.2 115.9 241.4 117.4 240.3 118.9 239.8 120.4 240.0 121.9 239.0 123.4 238.6 124.9 238.3 126.4 237.8 127.9 237.7 129.4 236.3 130.9 235.8 132.4 235.0 133.9 234.4 135.4 233.9 136.9 233.5 138.4 233.3 139.9 232.4 141.4 232.1 142.9 231.7 144.4 231.6 145.9 230.8 147.4 230.5 148.9 230.0 150.4 228.3 151.9 228.5 153.4 227.8 154.9 226.8 156.4 226.3 157.9 225.9 159.4 225.2 160.9 224.8 162.4 223.1 163.9 222.6 165.4 222.6 166.9 223.1 168.4 223.2 169.9 222.2 171.4 221.5 172.9 220.3 174.4 219.9 175.9 219.6 177.4 218.2 178.9 218.2 180.4 217.8 181.9 216.5 183.4 216.4 184.9 215.1 186.4 213.9 187.9 214.1 189.4 214.2 190.9 213.1 192.4 212.8 193.9 212.5 195.4 212.1 196.9 211.5 198.4 211.6 199.9 210.9 201.4 210.0 202.9 209.2 204.4 209.7 205.9 209.0 207.4 207.9 208.9 206.7 210.4 206.0 211.9 205.7 213.4 204.8 214.9 203.8 216.4 203.7 217.9 203.5 219.4 202.6 220.9 201.4 222.4 200.4 223.9 199.8 225.4 199.7 226.9 199.0 228.4 198.1 229.9 198.0 231.4 197.7" fill="none" stroke="#0072BD" stroke-width="0.6" stroke-opacity="0.8"/>
<path d="M49.9 260.7L51.4 260.4 52.9 259.6 54.4 259.8 55.9 259.2 57.4 258.6 58.9 257.6 60.4 257.2 61.9 256.5 63.4 256.2 64.9 256.6 66.4 255.9 67.9 255.4 69.4 255.7 70.9 255.6 72.4 255.6 73.9 253.9 75.4 254.1 76.9 252.8 78.4 252.5 79.9 252.0 81.4 251.8 82.9 250.9 84.4 250.3 85.9 250.2 87.4 249.2 88.9 248.0 90.4 248.2 91.9 248.0 93.4 247.7 94.9 247.3 96.4 247.1 97.9 245.6 99.4 246.1 100.9 245.9 102.4 244.6 103.9 244.9 105.4 244.4 106.9 244.5 108.4 244.0 109.9 243.0 111.4 241.9 112.9 241.7 114.4 241.4 115.9 240.8 117.4 240.7 118.9 240.1 120.4 239.8 121.9 239.1 123.4 237.8 124.9 237.5 126.4 236.2 127.9 236.6 129.4 235.6 130.9 235.6 132.4 235.5 133.9 235.0 135.4 234.0 136.9 233.8 138.4 234.0 139.9 233.5 141.4 232.0 142.9 231.5 144.4 231.1 145.9 231.1 147.4 230.4 148.9 229.7 150.4 229.3 151.9 228.8 153.4 228.4 154.9 227.6 156.4 226.7 157.9 226.4 159.4 225.3 160.9 224.2 162.4 224.3 163.9 223.5 165.4 222.5 166.9 222.8 168.4 222.3 169.9 221.6 171.4 220.6 172.9 219.9 174.4 219.9 175.9 219.1 177.4 219.0 178.9 219.7 180.4 218.4 181.9 217.9 183.4 217.1 184.9 216.3 186.4 215.9 187.9 215.8 189.4 215.3 190.9 214.7 192.4 214.3 193.9 213.5 195.4 212.7 196.9 213.0 198.4 212.3 199.9 211.4 201.4 211.3 202.9 210.4 204.4 209.8 205.9 209.3 207.4 207.7 208.9 207.3 210.4 206.6 211.9 206.1 213.4 205.8 214.9 204.9 216.4 203.4 217.9 203.4 219.4 202.5 220.9 202.1 222.4 201.2 223.9 200.6 225.4 199.2 226.9 199.0 228.4 198.9 229.9 198.7 231.4 197.9" fill="none" stroke="#0072BD" stroke-width="0.6" stroke-opacity="0.8"/>
<path d="M49.9 260.7L51.4 259.8 52.9 260.0 54.4 258.7 55.9 258.8 57.4 259.1 58.9 259.2 60.4 258.5 61.9 257.5 63.4 257.0 64.9 256.8 66.4 256.4 67.9 256.3 69.4 255.6 70.9 255.6 72.4 254.0 73.9 254.7 75.4 253.9 76.9 254.2 78.4 253.9 79.9 252.9 81.4 251.2 82.9 250.3 84.4 250.1 85.9 249.4 87.4 248.8 88.9 248.7 90.4 248.5 91.9 247.6 93.4 248.5 94.9 248.1 96.4 248.0 97.9 247.6 99.4 247.4 100.9 246.5 102.4 245.8 103.9 245.1 105.4 244.4 106.9 243.7 108.4 243.2 109.9 243.0 111.4 241.5 112.9 242.1 114.4 240.8 115.9 239.6 117.4 240.3 118.9 239.8 120.4 238.5 121.9 238.4 123.4 237.4 124.9 237.7 126.4 237.3 127.9 236.6 129.4 235.8 130.9 236.3 132.4 235.5 133.9 235.6 135.4 234.8 136.9 234.4 138.4 233.4 139.9 232.4 141.4 232.1 142.9 231.7 144.4 231.1 145.9 231.2 147.4 230.2 148.9 229.1 150.4 229.0 151.9 228.4 153.4 227.7 154.9 226.6 156.4 226.7 157.9 226.1 159.4 226.0 160.9 225.3 162.4 224.8 163.9 224.2 165.4 223.5 166.9 223.3 168.4 222.3 169.9 222.0 171.4 220.5 172.9 221.5 174.4 219.8 175.9 220.1 177.4 219.7 178.9 219.1 180.4 218.3 181.9 217.5 183.4 217.6 184.9 216.9 186.4 216.3 187.9 215.2 189.4 214.6 190.9 213.7 192.4 213.2 193.9 212.8 195.4 212.6 196.9 212.0 198.4 210.8 199.9 210.3 201.4 210.3 202.9 209.7 204.4 209.5 205.9 208.2 207.4 207.9 208.9 207.5 210.4 206.9 211.9 206.5 213.4 206.8 214.9 205.2 216.4 203.7 217.9 203.6 219.4 202.4 220.9 201.6 222.4 202.3 223.9 201.4 225.4 201.1 226.9 199.4 228.4 198.8 229.9 198.2 231.4 198.2" fill="none" stroke="#0072BD" stroke-width="0.6" stroke-opacity="0.8"/>
<path d="M49.9 261.4L51.4 261.5 52.9 261.1 54.4 260.6 55.9 260.0 57.4 259.3 58.9 259.0 60.4 257.8 61.9 256.9 63.4 257.2 64.9 257.8 66.4 257.0 67.9 256.0 69.4 255.5 70.9 255.6 72.4 255.6 73.9 254.6 75.4 254.1 76.9 254.0 78.4 253.8 79.9 253.3 81.4 252.5 82.9 252.7 84.4 252.2 85.9 251.2 87.4 250.9 88.9 250.4 90.4 249.9 91.9 248.9 93.4 248.3 94.9 248.0 96.4 247.6 97.9 246.6 99.4 245.9 100.9 246.4 102.4 246.8 103.9 246.2 105.4 244.9 106.9 244.0 108.4 242.9 109.9 242.9 111.4 242.4 112.9 242.3 114.4 242.6 115.9 242.2 117.4 241.7 118.9 241.0 120.4 240.0 121.9 239.4 123.4 238.9 124.9 238.5 126.4 238.8 127.9 238.6 129.4 237.5 130.9 236.6 132.4 235.9 133.9 235.0 135.4 234.8 136.9 233.6 138.4 233.4 139.9 232.8 141.4 232.6 142.9 231.5 144.4 231.7 145.9 232.3 147.4 231.7 148.9 230.7 150.4 230.2 151.9 230.0 153.4 229.1 154.9 228.3 156.4 227.7 157.9 227.2 159.4 227.3 160.9 226.7 162.4 226.1 163.9 225.5 165.4 224.9 166.9 224.3 168.4 223.6 169.9 222.8 171.4 223.0 172.9 222.1 174.4 221.5 175.9 220.9 177.4 220.1 178.9 219.3 180.4 219.2 181.9 218.7 183.4 218.7 184.9 218.5 186.4 216.8 187.9 216.0 189.4 215.2 190.9 215.8 192.4 215.0 193.9 214.3 195.4 213.4 196.9 213.3 198.4 212.9 199.9 213.1 201.4 212.1 202.9 211.8 204.4 210.6 205.9 210.9 207.4 210.2 208.9 209.3 210.4 208.3 211.9 207.6 213.4 207.1 214.9 206.4 216.4 205.7 217.9 205.0 219.4 204.0 220.9 203.8 222.4 201.9 223.9 201.7 225.4 201.9 226.9 201.5 228.4 201.2 229.9 201.7 231.4 200.6" fill="none" stroke="#0072BD" stroke-width="0.6" stroke-opacity="0.8"/>
<path d="M49.9 261.7L51.4 261.2 52.9 260.8 54.4 260.3 55.9 259.3 57.4 259.3 58.9 258.4 60.4 258.2 61.9 258.3 63.4 257.9 64.9 256.7 66.4 256.6 67.9 256.0 69.4 255.2 70.9 255.3 72.4 255.9 73.9 255.4 75.4 255.3 76.9 254.6 78.4 254.1 79.9 254.3 81.4 253.8 82.9 252.9 84.4 252.4 85.9 252.0 87.4 251.3 88.9 250.7 90.4 251.0 91.9 250.7 93.4 249.7 94.9 249.5 96.4 248.5 97.9 248.3 99.4 248.0 100.9 246.9 102.4 247.0 103.9 247.0 105.4 246.7 106.9 246.3 108.4 245.3 109.9 244.8 111.4 244.4 112.9 244.0 114.4 243.4 115.9 242.8 117.4 242.6 118.9 241.9 120.4 240.6 121.9 240.6 123.4 240.2 124.9 239.1 126.4 238.5 127.9 237.9 129.4 237.1 130.9 237.6 132.4 237.5 133.9 236.4 135.4 236.4 136.9 235.9 138.4 235.7 139.9 234.9 141.4 234.5 142.9 234.0 144.4 233.1 145.9 232.1 147.4 232.0 148.9 231.4 150.4 230.7 151.9 230.1 153.4 230.2 154.9 229.5 156.4 229.6 157.9 228.3 159.4 228.1 160.9 227.9 162.4 226.2 163.9 225.7 165.4 224.6 166.9 224.5 168.4 224.6 169.9 224.2 171.4 223.7 172.9 222.4 174.4 222.3 175.9 222.0 177.4 221.6 178.9 221.1 180.4 220.8 181.9 219.7 183.4 219.6 184.9 218.6 186.4 218.5 187.9 218.7 189.4 217.4 190.9 216.8 192.4 216.2 193.9 215.6 195.4 214.9 196.9 214.1 198.4 213.9 199.9 213.7 201.4 213.0 202.9 212.1 204.4 211.2 205.9 210.3 207.4 209.8 208.9 208.8 210.4 207.8 211.9 207.6 213.4 207.6 214.9 207.0 216.4 206.2 217.9 206.2 219.4 205.5 220.9 205.4 222.4 204.9 223.9 203.9 225.4 203.4 226.9 203.1 228.4 202.3 229.9 202.1 231.4 202.1" fill="none" stroke="#0072BD" stroke-width="0.6" stroke-opacity="0.8"/>
<path d="M49.9 261.5L51.4 260.9 52.9 261.2 54.4 261.2 55.9 260.5 57.4 260.0 58.9 259.6 60.4 259.0 61.9 258.9 63.4 257.8 64.9 257.4 66.4 256.8 67.9 256.8 69.4 256.7 70.9 255.9 72.4 255.2 73.9 254.6 75.4 254.1 76.9 253.5 78.4 252.9 79.9 253.0 81.4 252.5 82.9 252.7 84.4 252.9 85.9 252.0 87.4 251.5 88.9 251.1 90.4 249.8 91.9 248.9 93.4 249.4 94.9 247.9 96.4 248.9 97.9 248.6 99.4 247.9 100.9 247.5 102.4 247.2 103.9 246.0 105.4 244.8 106.9 244.5 108.4 244.4 109.9 243.9 111.4 243.2 112.9 242.5 114.4 241.8 115.9 241.5 117.4 240.6 118.9 240.5 120.4 239.9 121.9 239.6 123.4 238.8 124.9 238.5 126.4 238.5 127.9 237.9 129.4 237.1 130.9 237.3 132.4 236.4 133.9 235.2 135.4 236.0 136.9 235.0 138.4 234.3 139.9 234.7 141.4 234.6 142.9 234.1 144.4 233.3 145.9 232.8 147.4 232.5 148.9 231.5 150.4 230.9 151.9 230.1 153.4 229.3 154.9 228.8 156.4 228.9 157.9 228.0 159.4 227.4 160.9 226.8 162.4 226.2 163.9 225.7 165.4 224.3 166.9 223.6 168.4 224.0 169.9 223.2 171.4 222.9 172.9 222.5 174.4 222.2 175.9 222.1 177.4 221.2 178.9 220.4 180.4 220.1 181.9 219.8 183.4 219.0 184.9 218.9 186.4 218.4 187.9 218.0 189.4 217.0 190.9 216.6 192.4 216.5 193.9 216.3 195.4 216.1 196.9 214.7 198.4 213.8 199.9 212.9 201.4 212.7 202.9 212.1 204.4 211.1 205.9 210.5 207.4 210.0 208.9 209.1 210.4 208.1 211.9 207.7 213.4 207.7 214.9 207.0 216.4 206.1 217.9 206.2 219.4 205.2 220.9 203.8 222.4 203.8 223.9 203.9 225.4 202.5 226.9 203.1 228.4 202.6 229.9 201.1 231.4 200.1" fill="none" stroke="#0072BD" stroke-width="0.6" stroke-opacity="0.8"/>
<path d="M49.9 262.0L51.4 260.9 52.9 260.3 54.4 259.1 55.9 259.3 57.4 259.6 58.9 259.2 60.4 259.1 61.9 258.2 63.4 258.1 64.9 257.9 66.4 257.7 67.9 257.2 69.4 256.9 70.9 256.3 72.4 257.1 73.9 256.2 75.4 256.0 76.9 254.9 78.4 253.7 79.9 253.4 81.4 253.3 82.9 252.7 84.4 251.9 85.9 251.6 87.4 251.0 88.9 250.7 90.4 251.2 91.9 250.4 93.4 250.2 94.9 249.6 96.4 249.5 97.9 249.6 99.4 249.7 100.9 248.7 102.4 248.0 103.9 246.9 105.4 246.1 106.9 245.3 108.4 245.0 109.9 244.6 111.4 244.4 112.9 244.1 114.4 243.6 115.9 243.3 117.4 242.6 118.9 241.8 120.4 240.8 121.9 240.6 123.4 239.9 124.9 239.7 126.4 239.1 127.9 238.7 129.4 238.3 130.9 238.3 132.4 237.6 133.9 237.2 135.4 237.0 136.9 235.9 138.4 235.1 139.9 234.3 141.4 234.1 142.9 233.4 144.4 233.6 145.9 232.4 147.4 232.2 148.9 232.0 150.4 231.8 151.9 231.0 153.4 230.0 154.9 229.6 156.4 229.3 157.9 228.7 159.4 228.5 160.9 228.4 162.4 227.6 163.9 227.2 165.4 226.8 166.9 225.0 168.4 224.1 169.9 224.1 171.4 224.4 172.9 223.5 174.4 223.3 175.9 222.6 177.4 221.9 178.9 221.3 180.4 221.0 181.9 220.4 183.4 219.7 184.9 218.9 186.4 218.2 187.9 217.1 189.4 217.4 190.9 217.1 192.4 216.4 193.9 216.5 195.4 215.6 196.9 215.1 198.4 214.8 199.9 213.7 201.4 213.1 202.9 212.9 204.4 212.9 205.9 212.1 207.4 211.2 208.9 210.0 210.4 210.1 211.9 209.5 213.4 208.9 214.9 208.7 216.4 207.2 217.9 206.8 219.4 205.8 220.9 205.0 222.4 205.5 223.9 204.4 225.4 204.0 226.9 203.7 228.4 203.0 229.9 203.0 231.4 201.4" fill="none" stroke="#0072BD" stroke-width="0.6" stroke-opacity="0.8"/>
<path d="M49.9 262.1L51.4 261.3 52.9 260.6 54.4 260.6 55.9 259.4 57.4 260.4 58.9 259.8 60.4 260.6 61.9 259.9 63.4 258.4 64.9 257.8 66.4 257.7 67.9 257.4 69.4 257.7 70.9 256.8 72.4 255.5 73.9 254.3 75.4 254.3 76.9 254.0 78.4 254.4 79.9 254.2 81.4 253.1 82.9 252.3 84.4 251.9 85.9 251.5 87.4 251.6 88.9 251.7 90.4 250.1 91.9 249.8 93.4 249.2 94.9 249.2 96.4 249.1 97.9 248.5 99.4 247.8 100.9 247.2 102.4 246.7 103.9 246.6 105.4 246.5 106.9 245.7 108.4 245.3 109.9 245.0 111.4 244.0 112.9 243.6 114.4 243.0 115.9 243.2 117.4 242.0 118.9 241.2 120.4 241.3 121.9 241.8 123.4 240.7 124.9 239.9 126.4 238.7 127.9 238.7 129.4 238.3 130.9 237.9 132.4 237.1 133.9 237.2 135.4 236.8 136.9 237.3 138.4 236.3 139.9 235.1 141.4 235.2 142.9 235.8 144.4 234.4 145.9 234.2 147.4 233.0 148.9 232.2 150.4 231.3 151.9 231.5 153.4 231.1 154.9 230.8 156.4 230.9 157.9 228.8 159.4 227.5 160.9 227.2 162.4 226.8 163.9 226.6 165.4 227.1 166.9 226.6 168.4 225.8 169.9 225.0 171.4 223.8 172.9 222.9 174.4 223.1 175.9 222.2 177.4 222.1 178.9 222.2 180.4 221.7 181.9 220.5 183.4 220.7 184.9 219.9 186.4 218.5 187.9 218.0 189.4 218.0 190.9 216.7 192.4 216.4 193.9 216.2 195.4 215.5 196.9 215.5 198.4 215.1 199.9 214.2 201.4 213.8 202.9 213.8 204.4 212.8 205.9 212.7 207.4 211.9 208.9 211.5 210.4 210.7 211.9 209.9 213.4 210.0 214.9 208.7 216.4 207.4 217.9 206.7 219.4 207.1 220.9 205.8 222.4 205.7 223.9 205.6 225.4 204.7 226.9 203.9 228.4 203.4 229.9 202.2 231.4 201.9" fill="none" stroke="#0072BD" stroke-width="0.6" stroke-opacity="0.8"/>
<path d="M49.9 262.7L51.4 262.7 52.9 262.1 54.4 261.8 55.9 261.9 57.4 261.1 58.9 260.9 60.4 260.3 61.9 259.7 63.4 259.0 64.9 259.1 66.4 258.0 67.9 258.2 69.4 257.4 70.9 257.4 72.4 257.1 73.9 256.4 75.4 255.6 76.9 255.7 78.4 255.0 79.9 254.1 81.4 253.5 82.9 252.4 84.4 252.3 85.9 251.9 87.4 251.4 88.9 251.7 90.4 251.1 91.9 250.8 93.4 250.6 94.9 250.4 96.4 250.5 97.9 250.4 99.4 249.7 100.9 248.7 102.4 247.5 103.9 246.9 105.4 246.1 106.9 245.3 108.4 244.7 109.9 244.4 111.4 245.1 112.9 244.7 114.4 244.0 115.9 243.6 117.4 242.5 118.9 242.0 120.4 242.0 121.9 241.8 123.4 240.8 124.9 241.1 126.4 241.1 127.9 240.7 129.4 240.0 130.9 239.4 132.4 238.8 133.9 238.6 135.4 237.0 136.9 236.4 138.4 235.8 139.9 235.7 141.4 234.9 142.9 234.4 144.4 234.1 145.9 234.2 147.4 234.0 148.9 233.6 150.4 232.6 151.9 232.3 153.4 231.9 154.9 231.0 156.4 230.4 157.9 231.2 159.4 230.3 160.9 229.9 162.4 229.4 163.9 228.1 165.4 227.5 166.9 227.0 168.4 226.4 169.9 226.1 171.4 227.1 172.9 225.4 174.4 224.3 175.9 224.7 177.4 223.7 178.9 223.4 180.4 221.7 181.9 221.8 183.4 221.6 184.9 221.5 186.4 220.9 187.9 220.6 189.4 220.9 190.9 219.3 192.4 218.6 193.9 217.9 195.4 217.7 196.9 217.2 198.4 216.6 199.9 215.7 201.4 215.4 202.9 214.8 204.4 214.6 205.9 213.0 207.4 212.9 208.9 212.6 210.4 212.2 211.9 212.1 213.4 211.5 214.9 210.6 216.4 210.1 217.9 209.0 219.4 208.7 220.9 209.2 222.4 208.2 223.9 207.5 225.4 207.7 226.9 206.6 228.4 206.6 229.9 205.7 231.4 204.4" fill="none" stroke="#0072BD" stroke-width="0.6" stroke-opacity="0.8"/>
<path d="M49.9 263.4L51.4 262.9 52.9 262.4 54.4 262.8 55.9 262.0 57.4 260.8 58.9 260.0 60.4 260.7 61.9 260.3 63.4 259.8 64.9 259.9 66.4 259.3 67.9 258.5 69.4 257.8 70.9 257.6 72.4 256.8 73.9 256.9 75.4 256.8 76.9 255.4 78.4 255.6 79.9 255.5 81.4 254.6 82.9 253.7 84.4 253.1 85.9 252.9 87.4 253.1 88.9 252.4 90.4 252.0 91.9 251.3 93.4 250.9 94.9 250.6 96.4 249.9 97.9 249.5 99.4 249.3 100.9 247.8 102.4 247.0 103.9 247.0 105.4 247.5 106.9 248.3 108.4 247.5 109.9 247.3 111.4 246.8 112.9 246.5 114.4 246.1 115.9 245.2 117.4 244.8 118.9 244.4 120.4 243.6 121.9 243.3 123.4 242.0 124.9 241.5 126.4 242.0 127.9 242.2 129.4 241.1 130.9 240.7 132.4 240.6 133.9 239.9 135.4 238.4 136.9 238.7 138.4 237.9 139.9 237.5 141.4 236.4 142.9 235.8 144.4 236.0 145.9 234.8 147.4 234.1 148.9 233.8 150.4 233.7 151.9 233.8 153.4 233.7 154.9 233.3 156.4 232.2 157.9 231.4 159.4 230.8 160.9 230.6 162.4 230.5 163.9 229.7 165.4 229.5 166.9 228.5 168.4 228.7 169.9 228.7 171.4 227.4 172.9 226.3 174.4 226.3 175.9 226.3 177.4 225.8 178.9 225.7 180.4 225.1 181.9 224.7 183.4 223.7 184.9 223.6 186.4 222.7 187.9 222.2 189.4 222.4 190.9 221.1 192.4 220.8 193.9 220.0 195.4 219.9 196.9 219.6 198.4 218.6 199.9 218.7 201.4 217.7 202.9 217.5 204.4 216.4 205.9 216.2 207.4 215.3 208.9 214.6 210.4 214.2 211.9 214.2 213.4 213.2 214.9 213.5 216.4 212.5 217.9 212.4 219.4 211.1 220.9 210.5 222.4 210.5 223.9 210.3 225.4 209.5 226.9 208.5 228.4 207.4 229.9 206.6 231.4 205.8" fill="none" stroke="#0072BD" stroke-width="0.6" stroke-opacity="0.8"/>
<path d="M49.9 264.3L51.4 264.1 52.9 262.7 54.4 263.0 55.9 263.0 57.4 262.3 58.9 262.4 60.4 261.7 61.9 261.7 63.4 260.5 64.9 260.2 66.4 260.0 67.9 259.4 69.4 259.3 70.9 259.0 72.4 258.2 73.9 258.0 75.4 257.7 76.9 257.7 78.4 257.7 79.9 256.7 81.4 256.1 82.9 255.4 84.4 254.8 85.9 254.2 87.4 253.9 88.9 253.7 90.4 252.7 91.9 252.1 93.4 251.6 94.9 251.6 96.4 250.4 97.9 251.5 99.4 250.4 100.9 250.4 102.4 250.3 103.9 250.6 105.4 249.9 106.9 248.9 108.4 248.6 109.9 247.6 111.4 248.0 112.9 247.3 114.4 247.1 115.9 246.1 117.4 245.1 118.9 245.3 120.4 244.9 121.9 244.6 123.4 243.9 124.9 244.3 126.4 244.1 127.9 243.7 129.4 243.1 130.9 241.7 132.4 241.2 133.9 240.6 135.4 239.8 136.9 240.3 138.4 239.7 139.9 239.4 141.4 238.6 142.9 237.7 144.4 237.6 145.9 236.8 147.4 237.0 148.9 236.7 150.4 235.7 151.9 234.6 153.4 234.5 154.9 233.6 156.4 232.7 157.9 232.8 159.4 232.4 160.9 232.3 162.4 232.3 163.9 231.9 165.4 231.7 166.9 230.7 168.4 230.6 169.9 230.4 171.4 228.9 172.9 228.3 174.4 228.1 175.9 228.2 177.4 228.0 178.9 227.7 180.4 226.9 181.9 226.8 183.4 225.6 184.9 225.3 186.4 225.0 187.9 225.1 189.4 224.0 190.9 223.2 192.4 222.3 193.9 221.6 195.4 221.2 196.9 221.7 198.4 221.5 199.9 221.4 201.4 220.8 202.9 219.4 204.4 218.7 205.9 218.7 207.4 218.0 208.9 217.9 210.4 217.2 211.9 217.0 213.4 217.0 214.9 216.3 216.4 216.1 217.9 215.7 219.4 214.8 220.9 213.2 222.4 212.0 223.9 211.5 225.4 212.0 226.9 211.3 228.4 211.6 229.9 210.3 231.4 209.5" fill="none" stroke="#0072BD" stroke-width="0.6" stroke-opacity="0.8"/>
<path d="M49.9 263.5L51.4 263.3 52.9 263.5 54.4 264.0 55.9 262.2 57.4 261.9 58.9 261.2 60.4 260.5 61.9 260.1 63.4 259.8 64.9 258.9 66.4 258.6 67.9 258.8 69.4 258.0 70.9 257.7 72.4 257.3 73.9 257.8 75.4 256.9 76.9 255.6 78.4 255.7 79.9 256.0 81.4 255.8 82.9 254.7 84.4 254.1 85.9 254.0 87.4 253.3 88.9 252.8 90.4 252.1 91.9 251.9 93.4 251.4 94.9 250.6 96.4 249.4 97.9 249.6 99.4 249.8 100.9 249.6 102.4 248.8 103.9 248.2 105.4 248.2 106.9 247.9 108.4 246.7 109.9 246.3 111.4 246.4 112.9 246.1 114.4 245.7 115.9 244.8 117.4 244.4 118.9 243.2 120.4 242.9 121.9 241.7 123.4 241.4 124.9 241.5 126.4 242.4 127.9 242.2 129.4 241.4 130.9 240.8 132.4 239.9 133.9 240.1 135.4 239.6 136.9 238.5 138.4 238.3 139.9 237.7 141.4 237.4 142.9 237.3 144.4 236.4 145.9 236.2 147.4 235.1 148.9 233.6 150.4 233.2 151.9 233.1 153.4 233.6 154.9 233.2 156.4 233.2 157.9 232.3 159.4 231.5 160.9 231.2 162.4 230.9 163.9 229.9 165.4 229.0 166.9 229.1 168.4 228.8 169.9 229.1 171.4 228.0 172.9 227.4 174.4 226.7 175.9 226.1 177.4 225.7 178.9 225.0 180.4 224.8 181.9 224.9 183.4 225.1 184.9 223.9 186.4 223.1 187.9 222.4 189.4 221.8 190.9 220.7 192.4 220.6 193.9 220.8 195.4 220.1 196.9 219.4 198.4 218.4 199.9 217.6 201.4 217.2 202.9 216.7 204.4 215.4 205.9 215.1 207.4 214.6 208.9 214.7 210.4 213.2 211.9 213.6 213.4 213.3 214.9 212.9 216.4 212.3 217.9 211.7 219.4 211.1 220.9 210.2 222.4 209.6 223.9 209.2 225.4 209.0 226.9 208.5 228.4 208.4 229.9 208.1 231.4 207.5" fill="none" stroke="#0072BD" stroke-width="0.6" stroke-opacity="0.8"/>
<path d="M49.9 264.1L51.4 263.3 52.9 263.5 54.4 263.3 55.9 263.3 57.4 262.9 58.9 262.4 60.4 261.3 61.9 259.9 63.4 260.2 64.9 260.1 66.4 259.3 67.9 259.6 69.4 258.6 70.9 258.3 72.4 258.1 73.9 257.1 75.4 257.0 76.9 257.3 78.4 256.2 79.9 255.1 81.4 254.3 82.9 254.1 84.4 254.5 85.9 254.2 87.4 254.2 88.9 253.8 90.4 254.2 91.9 252.5 93.4 252.6 94.9 252.5 96.4 252.2 97.9 251.6 99.4 251.0 100.9 250.4 102.4 249.2 103.9 249.4 105.4 249.0 106.9 248.6 108.4 247.7 109.9 247.6 111.4 248.3 112.9 247.9 114.4 247.0 115.9 245.9 117.4 245.9 118.9 245.3 120.4 245.4 121.9 244.5 123.4 244.1 124.9 242.7 126.4 242.4 127.9 242.1 129.4 241.9 130.9 241.8 132.4 240.4 133.9 240.4 135.4 240.4 136.9 240.0 138.4 239.7 139.9 239.6 141.4 238.5 142.9 237.7 144.4 237.0 145.9 237.3 147.4 235.9 148.9 235.4 150.4 234.9 151.9 234.2 153.4 234.4 154.9 234.0 156.4 232.8 157.9 233.3 159.4 232.9 160.9 232.3 162.4 231.7 163.9 230.5 165.4 230.5 166.9 230.7 168.4 231.0 169.9 230.0 171.4 228.7 172.9 227.7 174.4 227.7 175.9 227.5 177.4 226.9 178.9 227.1 180.4 226.0 181.9 225.5 183.4 225.0 184.9 224.6 186.4 224.6 187.9 224.2 189.4 223.6 190.9 222.9 192.4 222.5 193.9 221.2 195.4 220.2 196.9 220.2 198.4 220.1 199.9 218.9 201.4 219.0 202.9 218.0 204.4 217.1 205.9 217.7 207.4 217.6 208.9 218.0 210.4 217.3 211.9 216.4 213.4 216.9 214.9 215.6 216.4 214.6 217.9 213.6 219.4 213.4 220.9 213.2 222.4 212.6 223.9 211.7 225.4 211.8 226.9 211.0 228.4 210.4 229.9 210.0 231.4 209.3" fill="none" stroke="#0072BD" stroke-width="0.6" stroke-opacity="0.8"/>
<path d="M49.9 264.9L51.4 264.6 52.9 264.0 54.4 264.0 55.9 263.0 57.4 262.5 58.9 262.5 60.4 262.6 61.9 262.1 63.4 261.1 64.9 260.2 66.4 260.7 67.9 260.3 69.4 259.5 70.9 259.7 72.4 259.5 73.9 259.3 75.4 259.0 76.9 258.1 78.4 257.7 79.9 256.8 81.4 256.5 82.9 255.5 84.4 255.5 85.9 255.2 87.4 254.9 88.9 254.5 90.4 254.3 91.9 254.0 93.4 253.7 94.9 253.3 96.4 253.0 97.9 252.7 99.4 252.6 100.9 252.2 102.4 251.4 103.9 250.9 105.4 249.8 106.9 249.7 108.4 249.9 109.9 249.8 111.4 249.3 112.9 249.3 114.4 247.9 115.9 247.8 117.4 246.0 118.9 246.0 120.4 245.3 121.9 245.9 123.4 245.9 124.9 244.7 126.4 244.1 127.9 244.3 129.4 243.5 130.9 242.4 132.4 241.8 133.9 241.7 135.4 241.6 136.9 240.6 138.4 240.1 139.9 240.2 141.4 240.3 142.9 239.6 144.4 239.4 145.9 238.2 147.4 238.4 148.9 238.6 150.4 237.1 151.9 236.7 153.4 235.9 154.9 235.1 156.4 235.1 157.9 234.4 159.4 233.7 160.9 233.2 162.4 233.5 163.9 232.8 165.4 232.3 166.9 232.1 168.4 232.1 169.9 231.1 171.4 229.4 172.9 230.8 174.4 231.0 175.9 230.5 177.4 229.9 178.9 228.9 180.4 227.0 181.9 226.8 183.4 226.3 184.9 226.3 186.4 226.6 187.9 226.3 189.4 226.2 190.9 225.1 192.4 223.1 193.9 224.1 195.4 223.6 196.9 223.1 198.4 223.1 199.9 223.0 201.4 222.2 202.9 221.1 204.4 220.9 205.9 220.4 207.4 219.2 208.9 219.2 210.4 218.5 211.9 218.1 213.4 217.4 214.9 217.1 216.4 215.7 217.9 215.8 219.4 216.0 220.9 215.5 222.4 214.2 223.9 213.3 225.4 213.7 226.9 213.4 228.4 213.1 229.9 213.1 231.4 212.2" fill="none" stroke="#0072BD" stroke-width="0.6" stroke-opacity="0.8"/>
<path d="M49.9 264.8L51.4 264.5 52.9 263.9 54.4 263.4 55.9 262.7 57.4 262.6 58.9 262.2 60.4 261.1 61.9 261.6 63.4 261.5 64.9 260.5 66.4 260.8 67.9 260.8 69.4 260.8 70.9 260.0 72.4 258.6 73.9 258.2 75.4 257.5 76.9 257.2 78.4 257.0 79.9 256.2 81.4 255.9 82.9 255.6 84.4 255.7 85.9 254.7 87.4 255.4 88.9 254.3 90.4 253.9 91.9 253.6 93.4 253.6 94.9 253.1 96.4 253.4 97.9 253.0 99.4 252.5 100.9 252.3 102.4 250.9 103.9 250.6 105.4 250.1 106.9 249.4 108.4 248.8 109.9 248.7 111.4 248.1 112.9 247.6 114.4 247.5 115.9 247.3 117.4 247.3 118.9 246.4 120.4 246.0 121.9 245.3 123.4 244.9 124.9 244.2 126.4 243.8 127.9 243.2 129.4 242.5 130.9 242.3 132.4 241.7 133.9 241.0 135.4 240.0 136.9 240.6 138.4 240.8 139.9 240.7 141.4 240.4 142.9 239.5 144.4 239.1 145.9 238.3 147.4 237.5 148.9 236.3 150.4 235.9 151.9 236.9 153.4 236.1 154.9 235.3 156.4 235.3 157.9 234.6 159.4 234.7 160.9 233.5 162.4 232.5 163.9 232.8 165.4 232.7 166.9 231.8 168.4 231.5 169.9 231.5 171.4 231.0 172.9 230.9 174.4 230.0 175.9 229.6 177.4 229.2 178.9 228.2 180.4 227.3 181.9 226.8 183.4 227.4 184.9 227.6 186.4 227.0 187.9 225.4 189.4 225.2 190.9 224.6 192.4 224.0 193.9 224.5 195.4 224.3 196.9 222.4 198.4 221.1 199.9 220.9 201.4 220.8 202.9 221.2 204.4 220.5 205.9 219.7 207.4 219.0 208.9 218.8 210.4 218.1 211.9 217.2 213.4 216.7 214.9 215.9 216.4 215.6 217.9 216.0 219.4 215.9 220.9 215.4 222.4 214.5 223.9 214.2 225.4 213.1 226.9 212.4 228.4 211.6 229.9 211.4 231.4 211.0" fill="none" stroke="#0072BD" stroke-width="0.6" stroke-opacity="0.8"/>
<path d="M49.9 265.1L51.4 265.8 52.9 265.4 54.4 264.8 55.9 263.8 57.4 263.0 58.9 262.3 60.4 262.6 61.9 262.0 63.4 261.5 64.9 261.2 66.4 261.3 67.9 260.2 69.4 259.8 70.9 259.0 72.4 259.2 73.9 258.9 75.4 258.3 76.9 257.5 78.4 257.8 79.9 258.2 81.4 257.3 82.9 256.7 84.4 256.0 85.9 255.9 87.4 255.4 88.9 255.0 90.4 255.1 91.9 254.6 93.4 253.7 94.9 253.4 96.4 252.7 97.9 252.6 99.4 251.9 100.9 251.2 102.4 250.3 103.9 251.3 105.4 249.8 106.9 249.1 108.4 248.6 109.9 248.5 111.4 248.5 112.9 247.7 114.4 247.0 115.9 246.9 117.4 245.4 118.9 245.6 120.4 246.0 121.9 246.4 123.4 246.2 124.9 245.8 126.4 244.4 127.9 243.6 129.4 243.2 130.9 242.4 132.4 242.6 133.9 242.5 135.4 241.4 136.9 240.9 138.4 240.8 139.9 241.5 141.4 240.2 142.9 239.3 144.4 239.3 145.9 238.5 147.4 238.2 148.9 238.5 150.4 237.8 151.9 236.5 153.4 236.5 154.9 235.7 156.4 235.4 157.9 235.4 159.4 234.3 160.9 234.3 162.4 234.1 163.9 233.5 165.4 233.7 166.9 233.3 168.4 233.0 169.9 232.4 171.4 231.8 172.9 230.1 174.4 229.9 175.9 228.9 177.4 229.7 178.9 229.0 180.4 228.9 181.9 227.7 183.4 226.9 184.9 227.0 186.4 226.1 187.9 226.2 189.4 226.8 190.9 225.3 192.4 224.7 193.9 224.5 195.4 223.3 196.9 222.9 198.4 223.3 199.9 222.0 201.4 221.4 202.9 220.4 204.4 220.8 205.9 219.9 207.4 219.1 208.9 218.7 210.4 218.2 211.9 219.0 213.4 217.0 214.9 217.9 216.4 217.2 217.9 216.5 219.4 216.4 220.9 216.3 222.4 215.4 223.9 214.5 225.4 213.9 226.9 213.1 228.4 212.7 229.9 211.9 231.4 211.5" fill="none" stroke="#0072BD" stroke-width="0.6" stroke-opacity="0.8"/>
<path d="M49.9 265.6L51.4 265.0 52.9 264.3 54.4 263.6 55.9 263.8 57.4 263.4 58.9 263.2 60.4 263.5 61.9 262.2 63.4 262.3 64.9 262.3 66.4 262.1 67.9 261.1 69.4 260.1 70.9 260.3 72.4 260.2 73.9 260.0 75.4 259.5 76.9 259.1 78.4 258.8 79.9 259.0 81.4 257.8 82.9 257.7 84.4 256.7 85.9 256.4 87.4 256.0 88.9 256.2 90.4 255.8 91.9 255.4 93.4 254.3 94.9 255.1 96.4 253.9 97.9 253.3 99.4 252.9 100.9 252.5 102.4 251.8 103.9 251.0 105.4 250.3 106.9 249.1 108.4 249.5 109.9 249.2 111.4 249.0 112.9 248.7 114.4 248.3 115.9 247.8 117.4 247.8 118.9 248.0 120.4 247.4 121.9 246.4 123.4 245.5 124.9 244.8 126.4 244.5 127.9 243.6 129.4 243.1 130.9 242.8 132.4 243.1 133.9 242.9 135.4 242.2 136.9 242.1 138.4 241.8 139.9 241.4 141.4 240.9 142.9 240.1 144.4 239.9 145.9 239.7 147.4 239.8 148.9 239.0 150.4 238.3 151.9 238.4 153.4 237.7 154.9 237.3 156.4 237.5 157.9 236.3 159.4 235.5 160.9 235.6 162.4 235.7 163.9 234.7 165.4 234.6 166.9 233.9 168.4 233.8 169.9 233.5 171.4 232.9 172.9 232.6 174.4 232.8 175.9 232.1 177.4 231.5 178.9 229.8 180.4 230.2 181.9 228.7 183.4 227.6 184.9 226.8 186.4 226.7 187.9 226.6 189.4 226.6 190.9 226.0 192.4 224.6 193.9 224.4 195.4 224.2 196.9 223.3 198.4 223.5 199.9 222.7 201.4 222.6 202.9 221.9 204.4 221.9 205.9 222.5 207.4 222.7 208.9 222.7 210.4 223.2 211.9 223.0 213.4 224.3 214.9 224.9 216.4 225.1 217.9 225.4 219.4 226.5 220.9 227.6 222.4 228.3 223.9 229.7 225.4 231.6 226.9 232.8 228.4 234.4 229.9 235.3 231.4 237.0" fill="none" stroke="#0072BD" stroke-width="0.6" stroke-opacity="0.8"/>
<path d="M49.9 266.4L51.4 265.7 52.9 265.3 54.4 264.6 55.9 264.2 57.4 264.2 58.9 263.5 60.4 263.9 61.9 263.5 63.4 262.7 64.9 262.4 66.4 262.1 67.9 261.5 69.4 261.2 70.9 260.7 72.4 259.8 73.9 259.9 75.4 259.6 76.9 259.2 78.4 258.6 79.9 258.6 81.4 257.7 82.9 257.1 84.4 256.7 85.9 256.7 87.4 256.7 88.9 257.3 90.4 256.5 91.9 255.9 93.4 255.3 94.9 254.4 96.4 255.0 97.9 255.0 99.4 254.0 100.9 253.2 102.4 253.2 103.9 252.9 105.4 251.5 106.9 251.5 108.4 251.7 109.9 250.6 111.4 250.6 112.9 250.6 114.4 250.2 115.9 249.5 117.4 248.8 118.9 248.1 120.4 248.3 121.9 248.0 123.4 247.6 124.9 246.7 126.4 246.7 127.9 246.1 129.4 245.4 130.9 244.7 132.4 243.8 133.9 243.4 135.4 243.3 136.9 243.4 138.4 243.3 139.9 244.1 141.4 243.5 142.9 242.2 144.4 241.3 145.9 241.0 147.4 240.3 148.9 240.5 150.4 240.3 151.9 239.8 153.4 239.5 154.9 239.9 156.4 238.9 157.9 238.2 159.4 237.7 160.9 237.3 162.4 237.0 163.9 235.9 165.4 235.7 166.9 235.1 168.4 234.6 169.9 234.0 171.4 233.9 172.9 233.8 174.4 233.2 175.9 232.6 177.4 232.3 178.9 231.8 180.4 231.5 181.9 231.1 183.4 230.8 184.9 230.8 186.4 230.2 187.9 230.1 189.4 229.5 190.9 229.2 192.4 228.6 193.9 228.3 195.4 228.2 196.9 227.3 198.4 226.8 199.9 226.7 201.4 225.8 202.9 225.5 204.4 225.5 205.9 225.9 207.4 225.0 208.9 225.5 210.4 225.2 211.9 223.2 213.4 222.4 214.9 221.9 216.4 221.2 217.9 221.2 219.4 220.2 220.9 220.3 222.4 220.1 223.9 219.7 225.4 218.9 226.9 218.6 228.4 218.2 229.9 218.0 231.4 217.1" fill="none" stroke="#0072BD" stroke-width="0.6" stroke-opacity="0.8"/>
<path d="M49.9 266.3L51.4 266.0 52.9 265.4 54.4 265.7 55.9 265.2 57.4 265.3 58.9 265.0 60.4 264.4 61.9 263.4 63.4 264.1 64.9 263.3 66.4 262.3 67.9 262.0 69.4 260.9 70.9 260.1 72.4 259.8 73.9 259.9 75.4 258.9 76.9 258.9 78.4 259.3 79.9 258.7 81.4 259.4 82.9 258.5 84.4 258.5 85.9 257.8 87.4 256.9 88.9 256.1 90.4 255.7 91.9 255.6 93.4 254.2 94.9 253.5 96.4 254.5 97.9 253.8 99.4 253.8 100.9 252.8 102.4 252.5 103.9 252.2 105.4 251.9 106.9 251.1 108.4 250.6 109.9 249.8 111.4 249.4 112.9 249.5 114.4 248.6 115.9 248.6 117.4 249.6 118.9 249.0 120.4 248.6 121.9 248.4 123.4 248.0 124.9 246.8 126.4 246.0 127.9 246.2 129.4 245.8 130.9 244.9 132.4 244.3 133.9 244.6 135.4 244.5 136.9 243.7 138.4 243.3 139.9 242.2 141.4 241.5 142.9 242.0 144.4 241.4 145.9 241.1 147.4 240.3 148.9 240.4 150.4 240.0 151.9 239.8 153.4 239.1 154.9 238.7 156.4 238.2 157.9 238.4 159.4 237.6 160.9 237.5 162.4 236.7 163.9 236.1 165.4 235.9 166.9 234.9 168.4 234.4 169.9 233.7 171.4 233.5 172.9 233.7 174.4 233.4 175.9 232.8 177.4 233.0 178.9 232.1 180.4 231.6 181.9 230.9 183.4 230.6 184.9 230.0 186.4 229.0 187.9 229.1 189.4 228.8 190.9 229.5 192.4 228.8 193.9 228.0 195.4 227.9 196.9 226.9 198.4 227.0 199.9 226.4 201.4 225.3 202.9 225.3 204.4 224.1 205.9 223.1 207.4 223.5 208.9 223.3 210.4 223.2 211.9 222.6 213.4 221.9 214.9 221.3 216.4 219.8 217.9 219.9 219.4 220.3 220.9 220.1 222.4 220.1 223.9 220.0 225.4 219.4 226.9 218.3 228.4 217.3 229.9 216.0 231.4 216.4" fill="none" stroke="#0072BD" stroke-width="0.6" stroke-opacity="0.8"/>
<path d="M49.9 266.7L51.4 266.6 52.9 266.0 54.4 265.6 55.9 266.2 57.4 266.0 58.9 265.1 60.4 264.5 61.9 263.7 63.4 262.7 64.9 263.0 66.4 262.7 67.9 261.9 69.4 261.1 70.9 261.1 72.4 261.5 73.9 260.1 75.4 260.0 76.9 259.7 78.4 258.8 79.9 259.3 81.4 258.7 82.9 257.6 84.4 258.4 85.9 257.8 87.4 257.6 88.9 257.1 90.4 256.4 91.9 255.6 93.4 255.1 94.9 255.3 96.4 255.0 97.9 254.2 99.4 253.3 100.9 253.1 102.4 253.4 103.9 252.4 105.4 251.5 106.9 251.7 108.4 251.3 109.9 250.0 111.4 251.0 112.9 251.0 114.4 249.4 115.9 249.0 117.4 249.3 118.9 249.6 120.4 248.7 121.9 248.6 123.4 247.5 124.9 245.9 126.4 246.1 127.9 245.2 129.4 245.0 130.9 245.0 132.4 244.7 133.9 244.0 135.4 243.4 136.9 244.3 138.4 244.3 139.9 244.0 141.4 242.6 142.9 242.9 144.4 242.0 145.9 241.4 147.4 240.4 148.9 240.6 150.4 240.2 151.9 240.2 153.4 240.0 154.9 239.1 156.4 239.4 157.9 238.7 159.4 238.0 160.9 237.8 162.4 236.9 163.9 237.4 165.4 236.3 166.9 236.5 168.4 236.0 169.9 235.9 171.4 234.5 172.9 235.0 174.4 234.5 175.9 233.7 177.4 233.7 178.9 233.0 180.4 231.9 181.9 231.5 183.4 231.3 184.9 231.1 186.4 231.1 187.9 230.8 189.4 230.3 190.9 229.3 192.4 228.4 193.9 227.5 195.4 226.4 196.9 226.5 198.4 226.4 199.9 226.0 201.4 226.1 202.9 225.6 204.4 225.1 205.9 224.3 207.4 224.4 208.9 225.1 210.4 225.9 211.9 226.4 213.4 226.9 214.9 227.7 216.4 229.1 217.9 230.0 219.4 231.2 220.9 232.4 222.4 234.0 223.9 235.6 225.4 237.4 226.9 240.3 228.4 241.9 229.9 242.7 231.4 244.9" fill="none" stroke="#0072BD" stroke-width="0.6" stroke-opacity="0.8"/>
<path d="M49.9 267.0L51.4 266.3 52.9 266.1 54.4 265.7 55.9 265.3 57.4 265.3 58.9 265.2 60.4 264.7 61.9 264.1 63.4 263.5 64.9 264.0 66.4 263.1 67.9 262.6 69.4 262.7 70.9 262.4 72.4 261.8 73.9 261.4 75.4 261.3 76.9 260.9 78.4 260.1 79.9 260.7 81.4 259.5 82.9 259.1 84.4 258.5 85.9 257.8 87.4 257.6 88.9 256.9 90.4 257.1 91.9 256.8 93.4 255.8 94.9 255.3 96.4 255.1 97.9 254.4 99.4 254.3 100.9 254.3 102.4 253.2 103.9 252.9 105.4 252.4 106.9 252.0 108.4 251.1 109.9 251.3 111.4 250.7 112.9 250.6 114.4 251.6 115.9 251.4 117.4 250.6 118.9 250.2 120.4 250.1 121.9 248.9 123.4 248.1 124.9 247.7 126.4 247.3 127.9 247.2 129.4 246.5 130.9 245.8 132.4 245.6 133.9 245.3 135.4 245.8 136.9 245.0 138.4 243.8 139.9 244.1 141.4 243.6 142.9 242.5 144.4 242.1 145.9 241.2 147.4 241.0 148.9 241.6 150.4 241.3 151.9 241.3 153.4 241.1 154.9 240.3 156.4 239.4 157.9 238.5 159.4 238.2 160.9 237.8 162.4 237.7 163.9 237.5 165.4 237.6 166.9 237.7 168.4 236.1 169.9 235.6 171.4 234.8 172.9 234.2 174.4 233.7 175.9 234.2 177.4 233.7 178.9 233.0 180.4 232.4 181.9 232.3 183.4 232.4 184.9 231.8 186.4 230.6 187.9 230.8 189.4 231.5 190.9 230.9 192.4 230.4 193.9 229.5 195.4 229.0 196.9 228.5 198.4 228.7 199.9 228.8 201.4 228.1 202.9 226.9 204.4 225.9 205.9 225.4 207.4 224.4 208.9 223.9 210.4 224.2 211.9 224.4 213.4 224.6 214.9 224.2 216.4 223.3 217.9 223.1 219.4 221.7 220.9 221.5 222.4 220.7 223.9 220.6 225.4 220.0 226.9 219.6 228.4 219.4 229.9 218.9 231.4 219.3" fill="none" stroke="#0072BD" stroke-width="0.6" stroke-opacity="0.8"/>
<path d="M49.9 267.4L51.4 267.5 52.9 267.6 54.4 266.4 55.9 267.1 57.4 266.3 58.9 265.7 60.4 265.2 61.9 264.5 63.4 264.0 64.9 262.6 66.4 262.9 67.9 263.4 69.4 263.2 70.9 261.8 72.4 261.3 73.9 260.9 75.4 260.9 76.9 260.5 78.4 259.8 79.9 259.3 81.4 258.3 82.9 258.7 84.4 258.4 85.9 258.5 87.4 257.6 88.9 257.4 90.4 256.1 91.9 256.7 93.4 256.3 94.9 256.3 96.4 256.3 97.9 255.7 99.4 255.4 100.9 254.1 102.4 253.3 103.9 252.7 105.4 252.9 106.9 253.0 108.4 252.0 109.9 251.5 111.4 251.6 112.9 251.3 114.4 251.0 115.9 250.8 117.4 250.1 118.9 250.3 120.4 249.6 121.9 249.4 123.4 249.0 124.9 249.7 126.4 249.1 127.9 248.9 129.4 248.0 130.9 246.8 132.4 246.3 133.9 246.0 135.4 245.1 136.9 245.1 138.4 245.2 139.9 243.9 141.4 245.2 142.9 244.6 144.4 243.5 145.9 243.7 147.4 242.8 148.9 243.0 150.4 241.8 151.9 241.2 153.4 241.7 154.9 241.1 156.4 240.3 157.9 240.7 159.4 240.2 160.9 239.5 162.4 238.8 163.9 238.8 165.4 237.7 166.9 238.4 168.4 238.1 169.9 238.1 171.4 237.4 172.9 236.5 174.4 235.8 175.9 236.2 177.4 234.4 178.9 234.1 180.4 233.9 181.9 234.2 183.4 232.9 184.9 232.6 186.4 232.1 187.9 232.3 189.4 231.1 190.9 231.7 192.4 232.0 193.9 230.9 195.4 230.3 196.9 229.9 198.4 229.3 199.9 228.7 201.4 228.6 202.9 228.7 204.4 227.5 205.9 227.5 207.4 226.6 208.9 226.5 210.4 226.2 211.9 225.4 213.4 225.0 214.9 224.7 216.4 224.4 217.9 224.9 219.4 224.0 220.9 223.2 222.4 222.8 223.9 222.7 225.4 221.7 226.9 221.3 228.4 221.1 229.9 220.2 231.4 219.7" fill="none" stroke="#0072BD" stroke-width="0.6" stroke-opacity="0.8"/>
<path d="M49.9 267.7L51.4 267.0 52.9 266.7 54.4 266.5 55.9 265.7 57.4 266.1 58.9 265.7 60.4 265.1 61.9 264.7 63.4 264.0 64.9 263.3 66.4 262.8 67.9 262.4 69.4 262.0 70.9 262.4 72.4 262.1 73.9 261.5 75.4 261.4 76.9 260.8 78.4 260.7 79.9 260.3 81.4 259.9 82.9 258.7 84.4 258.9 85.9 258.1 87.4 258.3 88.9 258.0 90.4 257.2 91.9 257.1 93.4 256.2 94.9 255.9 96.4 255.6 97.9 254.7 99.4 254.8 100.9 254.9 102.4 254.6 103.9 254.6 105.4 253.9 106.9 253.2 108.4 253.7 109.9 253.5 111.4 252.9 112.9 251.5 114.4 251.6 115.9 251.5 117.4 251.9 118.9 251.1 120.4 251.9 121.9 251.1 123.4 250.4 124.9 249.4 126.4 248.7 127.9 248.4 129.4 248.0 130.9 247.2 132.4 247.3 133.9 247.0 135.4 246.2 136.9 245.7 138.4 245.0 139.9 244.8 141.4 244.0 142.9 243.8 144.4 244.3 145.9 244.4 147.4 243.7 148.9 243.2 150.4 243.2 151.9 242.7 153.4 242.1 154.9 242.0 156.4 241.1 157.9 241.2 159.4 240.9 160.9 240.7 162.4 240.6 163.9 239.7 165.4 238.9 166.9 238.5 168.4 237.9 169.9 237.8 171.4 237.3 172.9 236.4 174.4 235.2 175.9 234.9 177.4 235.0 178.9 234.3 180.4 234.2 181.9 234.0 183.4 233.8 184.9 234.1 186.4 233.4 187.9 232.8 189.4 232.4 190.9 232.6 192.4 232.2 193.9 231.8 195.4 230.4 196.9 229.8 198.4 229.7 199.9 229.0 201.4 229.2 202.9 228.6 204.4 228.2 205.9 227.9 207.4 228.0 208.9 227.9 210.4 228.1 211.9 226.6 213.4 225.7 214.9 225.3 216.4 225.6 217.9 225.4 219.4 224.4 220.9 223.7 222.4 224.3 223.9 223.9 225.4 222.9 226.9 222.1 228.4 222.2 229.9 221.5 231.4 221.1" fill="none" stroke="#0072BD" stroke-width="0.6" stroke-opacity="0.8"/>
<path d="M49.9 268.0L51.4 267.7 52.9 267.3 54.4 267.1 55.9 266.7 57.4 266.6 58.9 265.2 60.4 266.0 61.9 265.9 63.4 265.2 64.9 264.4 66.4 264.1 67.9 264.0 69.4 263.0 70.9 262.4 72.4 263.0 73.9 262.3 75.4 261.9 76.9 261.2 78.4 260.9 79.9 260.3 81.4 259.6 82.9 259.7 84.4 259.1 85.9 258.6 87.4 258.7 88.9 258.6 90.4 258.7 91.9 258.2 93.4 257.6 94.9 257.1 96.4 256.8 97.9 255.9 99.4 254.9 100.9 255.4 102.4 254.9 103.9 254.3 105.4 254.8 106.9 253.6 108.4 253.7 109.9 252.8 111.4 252.7 112.9 252.4 114.4 252.2 115.9 251.2 117.4 250.8 118.9 250.9 120.4 250.6 121.9 250.0 123.4 249.7 124.9 249.5 126.4 248.1 127.9 247.7 129.4 248.0 130.9 247.9 132.4 247.6 133.9 247.3 135.4 246.0 136.9 246.1 138.4 245.6 139.9 246.2 141.4 244.7 142.9 244.6 144.4 244.0 145.9 243.6 147.4 242.9 148.9 242.5 150.4 242.3 151.9 241.9 153.4 241.2 154.9 242.0 156.4 242.0 157.9 241.7 159.4 240.8 160.9 241.1 162.4 241.3 163.9 239.6 165.4 240.0 166.9 238.6 168.4 238.6 169.9 238.2 171.4 237.9 172.9 237.7 174.4 236.7 175.9 236.4 177.4 235.7 178.9 235.7 180.4 234.7 181.9 235.3 183.4 235.4 184.9 234.7 186.4 234.5 187.9 234.7 189.4 234.4 190.9 233.8 192.4 232.6 193.9 232.0 195.4 232.5 196.9 231.9 198.4 231.5 199.9 230.8 201.4 230.8 202.9 231.0 204.4 229.8 205.9 229.6 207.4 229.3 208.9 228.9 210.4 228.1 211.9 227.6 213.4 228.0 214.9 226.4 216.4 225.8 217.9 226.0 219.4 225.6 220.9 224.3 222.4 224.5 223.9 224.1 225.4 222.8 226.9 222.5 228.4 222.5 229.9 221.9 231.4 221.8" fill="none" stroke="#0072BD" stroke-width="0.6" stroke-opacity="0.8"/>
<path d="M49.9 268.4L51.4 267.7 52.9 267.0 54.4 267.9 55.9 267.5 57.4 266.6 58.9 266.7 60.4 266.6 61.9 265.7 63.4 265.4 64.9 265.7 66.4 264.1 67.9 263.6 69.4 263.2 70.9 262.9 72.4 261.7 73.9 261.6 75.4 261.8 76.9 261.5 78.4 261.0 79.9 260.6 81.4 260.5 82.9 260.1 84.4 260.8 85.9 260.6 87.4 259.8 88.9 259.2 90.4 257.8 91.9 257.6 93.4 258.0 94.9 257.3 96.4 257.9 97.9 257.4 99.4 256.3 100.9 255.7 102.4 255.9 103.9 255.4 105.4 254.6 106.9 254.3 108.4 253.9 109.9 252.4 111.4 253.4 112.9 253.0 114.4 252.6 115.9 251.2 117.4 250.6 118.9 251.1 120.4 251.3 121.9 251.1 123.4 251.1 124.9 250.2 126.4 249.4 127.9 249.2 129.4 248.9 130.9 247.9 132.4 247.7 133.9 247.4 135.4 247.5 136.9 246.4 138.4 246.2 139.9 245.3 141.4 245.9 142.9 245.2 144.4 245.2 145.9 244.7 147.4 245.0 148.9 244.1 150.4 243.6 151.9 243.8 153.4 243.1 154.9 242.6 156.4 241.7 157.9 241.4 159.4 241.5 160.9 240.6 162.4 241.0 163.9 240.2 165.4 238.8 166.9 238.7 168.4 238.9 169.9 239.4 171.4 239.3 172.9 238.3 174.4 237.9 175.9 237.9 177.4 238.0 178.9 236.9 180.4 237.1 181.9 237.0 183.4 236.0 184.9 235.5 186.4 234.2 187.9 233.3 189.4 233.2 190.9 232.8 192.4 232.5 193.9 231.5 195.4 231.9 196.9 231.7 198.4 231.1 199.9 231.0 201.4 229.6 202.9 229.5 204.4 229.3 205.9 229.5 207.4 229.8 208.9 230.8 210.4 231.1 211.9 231.0 213.4 232.2 214.9 233.0 216.4 235.2 217.9 237.4 219.4 239.0 220.9 240.0 222.4 242.2 223.9 243.3 225.4 245.6 226.9 247.6 228.4 248.6 229.9 251.4 231.4 254.8" fill="none" stroke="#0072BD" stroke-width="0.6" stroke-opacity="0.8"/>
<path d="M49.9 268.5L51.4 268.0 52.9 267.8 54.4 267.2 55.9 267.5 57.4 267.8 58.9 266.7 60.4 265.4 61.9 265.2 63.4 264.7 64.9 264.9 66.4 264.5 67.9 264.5 69.4 264.1 70.9 264.5 72.4 263.5 73.9 262.2 75.4 261.5 76.9 260.9 78.4 261.9 79.9 261.4 81.4 260.3 82.9 259.7 84.4 259.1 85.9 258.8 87.4 259.3 88.9 259.3 90.4 259.1 91.9 258.1 93.4 258.2 94.9 257.4 96.4 257.3 97.9 256.9 99.4 257.7 100.9 256.1 102.4 255.6 103.9 255.5 105.4 256.0 106.9 255.8 108.4 254.8 109.9 253.5 111.4 253.6 112.9 252.8 114.4 252.3 115.9 252.4 117.4 252.1 118.9 252.4 120.4 251.8 121.9 252.0 123.4 251.6 124.9 250.3 126.4 250.0 127.9 249.8 129.4 249.4 130.9 248.6 132.4 248.1 133.9 247.7 135.4 247.3 136.9 247.3 138.4 246.7 139.9 246.3 141.4 246.6 142.9 245.9 144.4 245.2 145.9 245.2 147.4 244.2 148.9 245.2 150.4 244.8 151.9 243.6 153.4 243.1 154.9 243.1 156.4 242.9 157.9 241.9 159.4 241.5 160.9 241.0 162.4 241.1 163.9 239.7 165.4 239.7 166.9 240.3 168.4 240.0 169.9 239.7 171.4 239.6 172.9 238.4 174.4 237.4 175.9 237.5 177.4 237.4 178.9 237.8 180.4 236.5 181.9 237.0 183.4 235.9 184.9 236.3 186.4 235.9 187.9 235.3 189.4 234.1 190.9 233.8 192.4 233.9 193.9 233.9 195.4 232.9 196.9 232.8 198.4 232.7 199.9 231.6 201.4 230.6 202.9 231.7 204.4 231.8 205.9 231.0 207.4 230.2 208.9 230.6 210.4 230.1 211.9 228.0 213.4 228.0 214.9 227.2 216.4 227.6 217.9 226.6 219.4 226.7 220.9 226.6 222.4 225.0 223.9 225.7 225.4 225.2 226.9 224.8 228.4 224.2 229.9 223.7 231.4 223.8" fill="none" stroke="#0072BD" stroke-width="0.6" stroke-opacity="0.8"/>
<path d="M49.9 269.4L51.4 268.7 52.9 268.5 54.4 268.0 55.9 267.8 57.4 267.6 58.9 265.6 60.4 267.0 61.9 266.8 63.4 267.1 64.9 266.7 66.4 265.4 67.9 265.1 69.4 265.0 70.9 264.4 72.4 263.8 73.9 263.7 75.4 263.1 76.9 263.2 78.4 262.4 79.9 261.3 81.4 261.0 82.9 260.9 84.4 260.0 85.9 259.1 87.4 259.5 88.9 259.3 90.4 259.4 91.9 259.6 93.4 258.8 94.9 258.8 96.4 258.4 97.9 258.6 99.4 257.6 100.9 256.3 102.4 255.3 103.9 256.0 105.4 255.6 106.9 255.6 108.4 255.1 109.9 254.8 111.4 255.0 112.9 254.4 114.4 253.9 115.9 253.6 117.4 253.9 118.9 253.3 120.4 252.3 121.9 251.9 123.4 251.3 124.9 251.0 126.4 250.4 127.9 250.0 129.4 249.9 130.9 249.6 132.4 249.3 133.9 249.2 135.4 248.4 136.9 247.3 138.4 248.1 139.9 247.3 141.4 248.3 142.9 248.4 144.4 248.3 145.9 247.0 147.4 247.2 148.9 246.1 150.4 245.3 151.9 245.5 153.4 245.5 154.9 244.6 156.4 244.3 157.9 243.8 159.4 243.3 160.9 243.2 162.4 242.8 163.9 242.1 165.4 241.7 166.9 240.8 168.4 240.5 169.9 239.9 171.4 240.0 172.9 239.9 174.4 239.6 175.9 239.4 177.4 239.0 178.9 238.3 180.4 238.2 181.9 238.3 183.4 238.4 184.9 237.4 186.4 237.1 187.9 236.2 189.4 236.4 190.9 235.5 192.4 235.3 193.9 234.7 195.4 234.7 196.9 234.5 198.4 234.7 199.9 234.5 201.4 233.7 202.9 232.7 204.4 233.1 205.9 233.2 207.4 232.7 208.9 233.3 210.4 231.8 211.9 231.3 213.4 231.5 214.9 230.0 216.4 229.4 217.9 230.2 219.4 229.6 220.9 229.1 222.4 228.6 223.9 228.9 225.4 228.2 226.9 227.9 228.4 226.8 229.9 226.7 231.4 226.7" fill="none" stroke="#0072BD" stroke-width="0.6" stroke-opacity="0.8"/>
<path d="M49.9 269.5L51.4 268.8 52.9 268.5 54.4 268.2 55.9 267.7 57.4 267.7 58.9 268.1 60.4 267.3 61.9 266.5 63.4 265.6 64.9 264.9 66.4 264.6 67.9 263.9 69.4 263.7 70.9 263.3 72.4 263.9 73.9 263.8 75.4 262.8 76.9 262.6 78.4 262.4 79.9 262.0 81.4 261.6 82.9 261.3 84.4 261.3 85.9 261.6 87.4 260.5 88.9 259.8 90.4 259.1 91.9 259.4 93.4 259.0 94.9 257.8 96.4 257.8 97.9 257.9 99.4 256.9 100.9 256.1 102.4 256.8 103.9 257.0 105.4 256.4 106.9 256.0 108.4 254.9 109.9 254.3 111.4 253.7 112.9 253.8 114.4 254.1 115.9 254.3 117.4 253.8 118.9 252.7 120.4 252.6 121.9 252.1 123.4 251.8 124.9 252.0 126.4 251.6 127.9 251.0 129.4 250.6 130.9 249.7 132.4 250.4 133.9 249.9 135.4 250.4 136.9 249.2 138.4 249.0 139.9 248.5 141.4 248.0 142.9 247.8 144.4 247.8 145.9 247.2 147.4 246.3 148.9 245.2 150.4 245.0 151.9 245.1 153.4 245.0 154.9 244.2 156.4 243.3 157.9 243.5 159.4 243.2 160.9 243.4 162.4 243.3 163.9 243.3 165.4 242.9 166.9 242.5 168.4 242.2 169.9 241.7 171.4 241.1 172.9 240.8 174.4 240.4 175.9 239.9 177.4 239.4 178.9 238.5 180.4 238.5 181.9 238.3 183.4 237.4 184.9 236.9 186.4 236.2 187.9 235.8 189.4 235.7 190.9 236.4 192.4 235.5 193.9 234.7 195.4 234.9 196.9 235.1 198.4 234.8 199.9 234.3 201.4 234.2 202.9 234.1 204.4 233.4 205.9 233.2 207.4 232.9 208.9 232.1 210.4 232.0 211.9 231.7 213.4 231.1 214.9 230.3 216.4 230.3 217.9 229.9 219.4 229.5 220.9 229.3 222.4 229.1 223.9 228.6 225.4 227.6 226.9 227.6 228.4 226.5 229.9 225.7 231.4 225.9" fill="none" stroke="#0072BD" stroke-width="0.6" stroke-opacity="0.8"/>
<path d="M49.9 269.9L51.4 269.2 52.9 270.0 54.4 269.5 55.9 269.2 57.4 267.8 58.9 267.7 60.4 268.0 61.9 268.0 63.4 266.5 64.9 266.7 66.4 265.5 67.9 266.2 69.4 265.9 70.9 265.2 72.4 264.9 73.9 264.3 75.4 264.3 76.9 263.3 78.4 263.0 79.9 262.9 81.4 262.7 82.9 262.7 84.4 262.9 85.9 262.3 87.4 261.1 88.9 260.6 90.4 259.6 91.9 259.3 93.4 259.0 94.9 258.8 96.4 258.1 97.9 258.0 99.4 258.2 100.9 258.6 102.4 258.2 103.9 258.1 105.4 257.6 106.9 256.3 108.4 255.7 109.9 256.2 111.4 255.8 112.9 255.3 114.4 255.2 115.9 254.7 117.4 254.2 118.9 254.2 120.4 253.7 121.9 252.6 123.4 252.6 124.9 252.0 126.4 251.5 127.9 250.9 129.4 250.7 130.9 250.9 132.4 250.2 133.9 250.4 135.4 250.4 136.9 250.3 138.4 249.1 139.9 248.4 141.4 247.9 142.9 248.4 144.4 248.0 145.9 246.9 147.4 246.9 148.9 246.9 150.4 246.0 151.9 246.2 153.4 245.9 154.9 244.9 156.4 244.2 157.9 244.8 159.4 244.1 160.9 243.3 162.4 243.2 163.9 244.0 165.4 242.9 166.9 242.2 168.4 242.8 169.9 242.9 171.4 243.0 172.9 242.3 174.4 242.1 175.9 241.9 177.4 241.3 178.9 240.1 180.4 240.5 181.9 240.0 183.4 239.5 184.9 238.3 186.4 238.5 187.9 238.3 189.4 238.0 190.9 237.4 192.4 236.8 193.9 236.6 195.4 236.2 196.9 235.8 198.4 234.8 199.9 234.2 201.4 234.3 202.9 234.2 204.4 233.3 205.9 233.7 207.4 233.9 208.9 233.6 210.4 232.9 211.9 233.0 213.4 232.4 214.9 231.1 216.4 231.3 217.9 230.8 219.4 230.8 220.9 230.3 222.4 230.2 223.9 229.3 225.4 229.5 226.9 229.8 228.4 229.5 229.9 228.7 231.4 228.4" fill="none" stroke="#0072BD" stroke-width="0.6" stroke-opacity="0.8"/>
<path d="M49.9 269.7L51.4 269.9 52.9 269.3 54.4 269.1 55.9 267.9 57.4 267.3 58.9 267.0 60.4 267.5 61.9 267.1 63.4 266.3 64.9 265.7 66.4 264.6 67.9 265.1 69.4 265.5 70.9 264.8 72.4 264.8 73.9 264.0 75.4 263.5 76.9 263.9 78.4 263.2 79.9 262.7 81.4 262.6 82.9 262.7 84.4 261.4 85.9 261.1 87.4 260.8 88.9 260.5 90.4 259.8 91.9 259.3 93.4 258.9 94.9 259.5 96.4 259.3 97.9 258.4 99.4 257.5 100.9 257.2 102.4 257.1 103.9 257.4 105.4 257.2 106.9 257.4 108.4 256.5 109.9 255.7 111.4 255.3 112.9 255.0 114.4 254.0 115.9 253.9 117.4 254.5 118.9 254.1 120.4 253.6 121.9 253.5 123.4 252.5 124.9 251.4 126.4 250.8 127.9 251.3 129.4 251.2 130.9 251.0 132.4 250.5 133.9 249.9 135.4 249.3 136.9 248.8 138.4 248.7 139.9 248.0 141.4 247.1 142.9 247.1 144.4 246.8 145.9 246.4 147.4 246.6 148.9 246.4 150.4 246.1 151.9 245.6 153.4 245.4 154.9 244.8 156.4 244.3 157.9 244.3 159.4 243.5 160.9 243.0 162.4 243.5 163.9 243.1 165.4 242.4 166.9 242.0 168.4 242.3 169.9 242.2 171.4 240.5 172.9 240.5 174.4 239.5 175.9 239.8 177.4 239.9 178.9 239.1 180.4 238.9 181.9 238.7 183.4 238.1 184.9 237.7 186.4 237.5 187.9 237.5 189.4 236.9 190.9 236.9 192.4 236.1 193.9 236.2 195.4 235.6 196.9 235.7 198.4 236.2 199.9 234.9 201.4 234.8 202.9 234.8 204.4 234.5 205.9 234.5 207.4 234.0 208.9 232.8 210.4 232.6 211.9 232.6 213.4 232.6 214.9 232.7 216.4 231.5 217.9 231.9 219.4 232.9 220.9 231.7 222.4 230.3 223.9 229.4 225.4 229.4 226.9 229.7 228.4 228.5 229.9 228.3 231.4 228.7" fill="none" stroke="#0072BD" stroke-width="0.6" stroke-opacity="0.8"/>
<path d="M49.9 270.3L51.4 269.9 52.9 269.2 54.4 269.0 55.9 269.1 57.4 268.7 58.9 268.1 60.4 267.5 61.9 267.9 63.4 268.2 64.9 268.1 66.4 267.0 67.9 266.4 69.4 265.9 70.9 265.5 72.4 264.9 73.9 264.4 75.4 264.0 76.9 263.5 78.4 263.4 79.9 263.6 81.4 262.7 82.9 262.2 84.4 261.5 85.9 261.8 87.4 262.3 88.9 261.1 90.4 260.8 91.9 260.1 93.4 260.3 94.9 259.3 96.4 259.3 97.9 259.6 99.4 259.5 100.9 258.9 102.4 258.5 103.9 257.8 105.4 257.6 106.9 257.9 108.4 257.6 109.9 257.7 111.4 256.8 112.9 256.8 114.4 255.5 115.9 254.6 117.4 255.1 118.9 254.2 120.4 253.2 121.9 252.7 123.4 253.1 124.9 252.9 126.4 252.5 127.9 252.7 129.4 251.6 130.9 251.4 132.4 250.2 133.9 249.7 135.4 249.5 136.9 249.8 138.4 249.6 139.9 249.0 141.4 248.8 142.9 248.6 144.4 248.0 145.9 247.7 147.4 247.6 148.9 246.7 150.4 246.8 151.9 246.3 153.4 246.9 154.9 245.9 156.4 245.5 157.9 245.4 159.4 245.2 160.9 246.0 162.4 244.9 163.9 244.2 165.4 244.0 166.9 243.7 168.4 244.2 169.9 243.2 171.4 243.1 172.9 243.6 174.4 243.4 175.9 242.3 177.4 242.0 178.9 241.6 180.4 240.9 181.9 240.9 183.4 240.3 184.9 238.9 186.4 239.0 187.9 238.4 189.4 238.5 190.9 238.5 192.4 238.7 193.9 238.3 195.4 237.4 196.9 236.7 198.4 236.3 199.9 236.3 201.4 236.7 202.9 236.8 204.4 235.2 205.9 235.6 207.4 235.1 208.9 234.3 210.4 234.2 211.9 234.1 213.4 233.6 214.9 233.3 216.4 232.9 217.9 232.0 219.4 232.4 220.9 231.1 222.4 231.3 223.9 231.0 225.4 231.5 226.9 231.0 228.4 231.1 229.9 230.8 231.4 229.9" fill="none" stroke="#0072BD" stroke-width="0.6" stroke-opacity="0.8"/>
<path d="M49.9 270.6L51.4 270.1 52.9 268.9 54.4 269.1 55.9 268.5 57.4 268.4 58.9 268.3 60.4 267.6 61.9 267.7 63.4 267.2 64.9 266.6 66.4 266.7 67.9 266.2 69.4 266.0 70.9 265.8 72.4 264.5 73.9 264.5 75.4 264.5 76.9 264.1 78.4 263.5 79.9 263.4 81.4 262.7 82.9 262.7 84.4 261.7 85.9 261.6 87.4 261.3 88.9 261.0 90.4 260.4 91.9 260.5 93.4 261.0 94.9 259.6 96.4 260.1 97.9 259.4 99.4 258.7 100.9 258.9 102.4 257.9 103.9 257.7 105.4 257.7 106.9 257.3 108.4 257.9 109.9 257.0 111.4 256.7 112.9 255.5 114.4 256.3 115.9 255.3 117.4 254.3 118.9 254.6 120.4 254.3 121.9 253.9 123.4 253.1 124.9 253.3 126.4 252.6 127.9 252.2 129.4 252.1 130.9 251.6 132.4 251.3 133.9 251.0 135.4 250.9 136.9 250.2 138.4 249.9 139.9 250.0 141.4 249.0 142.9 248.6 144.4 248.2 145.9 248.1 147.4 247.8 148.9 247.4 150.4 248.1 151.9 247.5 153.4 247.5 154.9 246.5 156.4 246.3 157.9 246.5 159.4 246.2 160.9 245.7 162.4 245.3 163.9 244.6 165.4 244.9 166.9 245.1 168.4 244.9 169.9 244.5 171.4 244.2 172.9 243.5 174.4 242.4 175.9 242.7 177.4 241.2 178.9 240.8 180.4 240.8 181.9 241.3 183.4 240.7 184.9 240.9 186.4 240.5 187.9 240.3 189.4 240.3 190.9 239.8 192.4 240.4 193.9 239.7 195.4 238.9 196.9 238.7 198.4 239.0 199.9 238.4 201.4 237.3 202.9 237.0 204.4 236.3 205.9 236.0 207.4 235.1 208.9 234.5 210.4 235.0 211.9 235.7 213.4 235.5 214.9 234.6 216.4 233.8 217.9 234.3 219.4 234.6 220.9 234.1 222.4 232.6 223.9 232.5 225.4 232.4 226.9 231.8 228.4 231.3 229.9 231.9 231.4 231.6" fill="none" stroke="#0072BD" stroke-width="0.6" stroke-opacity="0.8"/>
<path d="M49.9 271.2L51.4 271.1 52.9 271.4 54.4 270.8 55.9 270.3 57.4 270.1 58.9 268.7 60.4 268.4 61.9 268.5 63.4 268.0 64.9 267.1 66.4 267.1 67.9 267.2 69.4 266.8 70.9 266.1 72.4 266.3 73.9 265.8 75.4 266.1 76.9 265.6 78.4 265.0 79.9 264.4 81.4 264.2 82.9 263.7 84.4 263.6 85.9 262.8 87.4 263.0 88.9 262.9 90.4 262.2 91.9 261.2 93.4 261.2 94.9 261.2 96.4 260.0 97.9 260.5 99.4 261.1 100.9 260.7 102.4 260.7 103.9 259.5 105.4 259.4 106.9 257.7 108.4 257.2 109.9 257.8 111.4 257.1 112.9 256.5 114.4 256.9 115.9 256.3 117.4 255.7 118.9 255.1 120.4 255.3 121.9 254.6 123.4 253.5 124.9 253.6 126.4 253.3 127.9 253.4 129.4 254.4 130.9 254.5 132.4 253.2 133.9 251.9 135.4 251.9 136.9 251.9 138.4 251.2 139.9 251.4 141.4 251.4 142.9 251.1 144.4 251.7 145.9 250.8 147.4 250.2 148.9 249.5 150.4 248.7 151.9 248.1 153.4 248.2 154.9 247.9 156.4 246.8 157.9 247.0 159.4 246.9 160.9 247.0 162.4 246.3 163.9 246.1 165.4 245.5 166.9 245.6 168.4 245.5 169.9 245.0 171.4 244.6 172.9 244.4 174.4 243.4 175.9 243.7 177.4 243.4 178.9 242.8 180.4 242.1 181.9 241.2 183.4 241.8 184.9 242.5 186.4 242.3 187.9 241.7 189.4 241.0 190.9 240.6 192.4 240.3 193.9 240.3 195.4 240.0 196.9 239.7 198.4 238.9 199.9 238.7 201.4 238.9 202.9 239.1 204.4 238.2 205.9 237.6 207.4 236.9 208.9 237.3 210.4 237.2 211.9 236.7 213.4 237.3 214.9 237.5 216.4 235.8 217.9 235.5 219.4 235.9 220.9 234.9 222.4 234.0 223.9 233.4 225.4 233.5 226.9 233.9 228.4 234.1 229.9 233.7 231.4 234.4" fill="none" stroke="#0072BD" stroke-width="0.6" stroke-opacity="0.8"/>
<path d="M49.9 271.3L51.4 270.8 52.9 270.4 54.4 270.2 55.9 270.8 57.4 269.9 58.9 269.7 60.4 269.1 61.9 268.6 63.4 268.6 64.9 268.5 66.4 267.7 67.9 267.5 69.4 266.9 70.9 266.5 72.4 266.2 73.9 266.1 75.4 265.6 76.9 265.3 78.4 264.3 79.9 264.6 81.4 263.7 82.9 263.2 84.4 263.6 85.9 263.4 87.4 262.9 88.9 262.3 90.4 261.6 91.9 260.8 93.4 260.7 94.9 260.6 96.4 260.0 97.9 260.3 99.4 259.9 100.9 259.5 102.4 258.5 103.9 258.5 105.4 257.9 106.9 257.3 108.4 258.3 109.9 257.5 111.4 257.3 112.9 257.8 114.4 257.4 115.9 256.2 117.4 256.4 118.9 256.1 120.4 254.9 121.9 254.6 123.4 254.7 124.9 254.4 126.4 254.2 127.9 254.1 129.4 253.1 130.9 252.9 132.4 252.2 133.9 251.8 135.4 251.8 136.9 251.4 138.4 251.2 139.9 250.7 141.4 250.8 142.9 251.3 144.4 250.3 145.9 249.7 147.4 249.7 148.9 249.7 150.4 249.9 151.9 249.3 153.4 249.3 154.9 249.8 156.4 249.2 157.9 248.1 159.4 247.4 160.9 247.0 162.4 246.2 163.9 245.8 165.4 245.7 166.9 245.6 168.4 246.1 169.9 245.4 171.4 244.4 172.9 244.3 174.4 244.8 175.9 244.5 177.4 243.8 178.9 243.4 180.4 244.0 181.9 243.1 183.4 242.5 184.9 241.5 186.4 241.5 187.9 241.4 189.4 240.9 190.9 240.3 192.4 240.3 193.9 239.8 195.4 239.0 196.9 239.3 198.4 239.2 199.9 239.6 201.4 239.8 202.9 239.7 204.4 239.1 205.9 239.3 207.4 238.5 208.9 238.4 210.4 238.5 211.9 238.0 213.4 238.1 214.9 238.0 216.4 239.5 217.9 239.9 219.4 240.9 220.9 241.6 222.4 242.5 223.9 243.6 225.4 244.0 226.9 244.8 228.4 245.3 229.9 245.6 231.4 246.8" fill="none" stroke="#0072BD" stroke-width="0.6" stroke-opacity="0.8"/>
<path d="M49.9 271.7L51.4 271.6 52.9 271.0 54.4 270.2 55.9 269.7 57.4 270.3 58.9 269.5 60.4 269.1 61.9 269.0 63.4 268.8 64.9 268.0 66.4 268.0 67.9 267.5 69.4 266.8 70.9 265.7 72.4 265.7 73.9 265.4 75.4 265.0 76.9 264.8 78.4 264.8 79.9 263.8 81.4 263.9 82.9 263.2 84.4 263.6 85.9 262.7 87.4 263.3 88.9 263.9 90.4 263.3 91.9 262.6 93.4 261.9 94.9 262.1 96.4 261.8 97.9 262.2 99.4 261.2 100.9 260.3 102.4 260.0 103.9 259.3 105.4 259.9 106.9 259.2 108.4 259.0 109.9 258.3 111.4 257.6 112.9 257.6 114.4 256.5 115.9 256.2 117.4 256.3 118.9 256.5 120.4 255.2 121.9 254.7 123.4 255.0 124.9 254.7 126.4 254.0 127.9 254.1 129.4 254.4 130.9 253.2 132.4 253.0 133.9 252.8 135.4 252.2 136.9 252.0 138.4 252.0 139.9 252.8 141.4 252.3 142.9 252.2 144.4 251.6 145.9 250.3 147.4 249.4 148.9 249.8 150.4 250.0 151.9 250.6 153.4 249.6 154.9 248.9 156.4 249.0 157.9 249.0 159.4 248.7 160.9 248.1 162.4 247.0 163.9 246.2 165.4 246.3 166.9 247.2 168.4 246.3 169.9 244.9 171.4 245.0 172.9 245.2 174.4 245.0 175.9 244.1 177.4 243.5 178.9 243.7 180.4 243.7 181.9 243.7 183.4 243.1 184.9 243.2 186.4 242.8 187.9 242.6 189.4 242.5 190.9 242.1 192.4 241.9 193.9 241.7 195.4 241.2 196.9 240.4 198.4 240.0 199.9 239.9 201.4 240.7 202.9 240.3 204.4 240.4 205.9 239.3 207.4 239.3 208.9 238.7 210.4 237.9 211.9 238.6 213.4 238.1 214.9 238.0 216.4 236.6 217.9 236.5 219.4 236.8 220.9 236.7 222.4 236.7 223.9 236.6 225.4 235.4 226.9 235.0 228.4 234.3 229.9 234.7 231.4 234.1" fill="none" stroke="#0072BD" stroke-width="0.6" stroke-opacity="0.8"/>
<path d="M49.9 272.6L51.4 271.9 52.9 272.5 54.4 271.6 55.9 271.1 57.4 270.6 58.9 270.7 60.4 270.3 61.9 269.9 63.4 269.8 64.9 270.0 66.4 269.1 67.9 268.8 69.4 267.4 70.9 267.8 72.4 267.6 73.9 267.2 75.4 266.3 76.9 266.5 78.4 265.8 79.9 265.3 81.4 264.8 82.9 265.7 84.4 264.8 85.9 263.7 87.4 263.3 88.9 263.6 90.4 263.7 91.9 263.2 93.4 264.0 94.9 262.6 96.4 261.9 97.9 262.3 99.4 261.8 100.9 261.3 102.4 261.0 103.9 260.1 105.4 260.2 106.9 259.3 108.4 258.6 109.9 259.0 111.4 259.1 112.9 258.3 114.4 258.8 115.9 259.0 117.4 258.4 118.9 257.5 120.4 256.9 121.9 257.0 123.4 256.9 124.9 256.3 126.4 255.0 127.9 255.5 129.4 255.8 130.9 255.7 132.4 256.1 133.9 255.2 135.4 255.3 136.9 254.5 138.4 254.0 139.9 253.7 141.4 252.8 142.9 252.7 144.4 251.5 145.9 251.4 147.4 251.3 148.9 251.0 150.4 251.2 151.9 250.7 153.4 250.7 154.9 250.5 156.4 250.5 157.9 250.2 159.4 250.1 160.9 249.7 162.4 249.6 163.9 250.1 165.4 249.3 166.9 248.7 168.4 247.9 169.9 248.1 171.4 247.7 172.9 246.9 174.4 247.4 175.9 246.8 177.4 246.7 178.9 246.3 180.4 247.1 181.9 245.6 183.4 245.6 184.9 245.2 186.4 245.8 187.9 245.2 189.4 245.1 190.9 245.5 192.4 245.0 193.9 245.4 195.4 243.9 196.9 242.6 198.4 242.5 199.9 242.3 201.4 241.3 202.9 241.9 204.4 241.7 205.9 241.2 207.4 241.8 208.9 242.2 210.4 241.3 211.9 241.7 213.4 240.2 214.9 240.1 216.4 240.3 217.9 240.3 219.4 240.3 220.9 239.8 222.4 239.6 223.9 239.3 225.4 238.5 226.9 238.2 228.4 237.5 229.9 238.1 231.4 238.2" fill="none" stroke="#0072BD" stroke-width="0.6" stroke-opacity="0.8"/>
<path d="M49.9 272.7L51.4 271.7 52.9 271.7 54.4 271.0 55.9 270.8 57.4 271.3 58.9 270.6 60.4 270.1 61.9 269.9 63.4 270.1 64.9 269.8 66.4 268.8 67.9 267.7 69.4 266.9 70.9 266.0 72.4 267.6 73.9 267.0 75.4 267.2 76.9 267.1 78.4 267.2 79.9 266.6 81.4 266.3 82.9 264.5 84.4 265.9 85.9 266.1 87.4 265.5 88.9 265.3 90.4 264.3 91.9 264.0 93.4 264.2 94.9 264.1 96.4 263.0 97.9 262.4 99.4 262.2 100.9 261.4 102.4 260.9 103.9 261.0 105.4 260.2 106.9 260.2 108.4 260.0 109.9 259.7 111.4 259.2 112.9 258.7 114.4 258.1 115.9 258.7 117.4 257.9 118.9 258.1 120.4 257.1 121.9 257.8 123.4 257.0 124.9 257.1 126.4 256.0 127.9 255.0 129.4 255.0 130.9 254.7 132.4 254.6 133.9 254.3 135.4 254.6 136.9 254.5 138.4 255.1 139.9 254.1 141.4 253.3 142.9 252.8 144.4 253.3 145.9 253.3 147.4 252.8 148.9 252.2 150.4 251.6 151.9 251.1 153.4 251.5 154.9 251.2 156.4 250.3 157.9 250.0 159.4 250.3 160.9 250.2 162.4 250.6 163.9 250.2 165.4 249.6 166.9 249.2 168.4 248.3 169.9 248.5 171.4 248.4 172.9 247.5 174.4 247.3 175.9 247.5 177.4 247.7 178.9 246.5 180.4 246.0 181.9 245.5 183.4 245.5 184.9 245.8 186.4 245.3 187.9 244.9 189.4 245.1 190.9 244.7 192.4 243.8 193.9 243.6 195.4 243.1 196.9 243.4 198.4 243.2 199.9 243.1 201.4 242.8 202.9 243.4 204.4 242.6 205.9 241.9 207.4 241.2 208.9 242.2 210.4 241.9 211.9 241.0 213.4 240.6 214.9 239.9 216.4 240.1 217.9 240.4 219.4 240.0 220.9 239.6 222.4 239.0 223.9 238.9 225.4 238.8 226.9 238.4 228.4 237.9 229.9 237.8 231.4 238.3" fill="none" stroke="#0072BD" stroke-width="0.6" stroke-opacity="0.8"/>
<path d="M49.9 272.8L51.4 272.4 52.9 272.6 54.4 272.1 55.9 271.1 57.4 270.4 58.9 269.9 60.4 270.4 61.9 269.6 63.4 269.9 64.9 269.3 66.4 269.1 67.9 268.8 69.4 268.4 70.9 268.5 72.4 267.7 73.9 267.5 75.4 267.1 76.9 266.6 78.4 267.7 79.9 266.5 81.4 266.4 82.9 266.1 84.4 265.7 85.9 265.2 87.4 264.0 88.9 264.5 90.4 264.9 91.9 263.1 93.4 263.1 94.9 262.4 96.4 262.7 97.9 262.5 99.4 261.5 100.9 261.6 102.4 262.2 103.9 261.7 105.4 262.4 106.9 261.5 108.4 260.0 109.9 260.1 111.4 258.4 112.9 259.0 114.4 258.4 115.9 258.9 117.4 259.2 118.9 259.1 120.4 258.3 121.9 257.7 123.4 257.3 124.9 257.1 126.4 257.1 127.9 256.9 129.4 257.2 130.9 256.2 132.4 255.2 133.9 255.0 135.4 254.1 136.9 254.3 138.4 254.4 139.9 254.8 141.4 253.2 142.9 253.6 144.4 253.8 145.9 253.6 147.4 252.8 148.9 252.3 150.4 250.8 151.9 250.9 153.4 251.7 154.9 251.1 156.4 250.5 157.9 250.6 159.4 250.6 160.9 249.3 162.4 249.8 163.9 250.0 165.4 249.6 166.9 248.7 168.4 248.7 169.9 248.5 171.4 248.5 172.9 248.2 174.4 247.0 175.9 247.3 177.4 247.8 178.9 247.0 180.4 246.2 181.9 246.1 183.4 245.7 184.9 245.7 186.4 244.9 187.9 244.0 189.4 244.0 190.9 243.8 192.4 243.4 193.9 243.6 195.4 243.5 196.9 242.6 198.4 242.2 199.9 241.7 201.4 242.8 202.9 242.9 204.4 241.5 205.9 241.6 207.4 242.0 208.9 243.3 210.4 243.0 211.9 243.5 213.4 244.7 214.9 245.4 216.4 245.3 217.9 245.8 219.4 246.9 220.9 248.7 222.4 250.7 223.9 251.8 225.4 253.7 226.9 254.3 228.4 255.5 229.9 256.8 231.4 259.0" fill="none" stroke="#0072BD" stroke-width="0.6" stroke-opacity="0.8"/>
<path d="M49.9 272.8L51.4 272.5 52.9 272.2 54.4 271.9 55.9 271.2 57.4 271.4 58.9 270.2 60.4 269.8 61.9 268.8 63.4 268.9 64.9 268.6 66.4 268.0 67.9 268.5 69.4 267.1 70.9 267.4 72.4 267.5 73.9 267.4 75.4 267.9 76.9 267.3 78.4 267.0 79.9 266.8 81.4 266.4 82.9 265.2 84.4 264.8 85.9 264.8 87.4 264.5 88.9 264.2 90.4 264.0 91.9 262.9 93.4 262.8 94.9 263.0 96.4 262.6 97.9 262.8 99.4 262.4 100.9 261.5 102.4 261.5 103.9 262.0 105.4 261.5 106.9 260.6 108.4 259.7 109.9 260.2 111.4 260.3 112.9 259.8 114.4 259.5 115.9 259.0 117.4 258.8 118.9 258.6 120.4 258.3 121.9 258.2 123.4 258.0 124.9 257.4 126.4 256.7 127.9 256.5 129.4 255.8 130.9 256.0 132.4 255.8 133.9 255.3 135.4 254.9 136.9 254.1 138.4 254.7 139.9 254.0 141.4 253.9 142.9 253.6 144.4 253.3 145.9 252.9 147.4 251.6 148.9 251.9 150.4 251.6 151.9 251.5 153.4 251.4 154.9 251.8 156.4 251.4 157.9 250.8 159.4 249.9 160.9 249.4 162.4 248.6 163.9 249.2 165.4 249.4 166.9 249.6 168.4 249.1 169.9 249.0 171.4 248.5 172.9 247.5 174.4 246.6 175.9 247.3 177.4 247.1 178.9 246.5 180.4 246.6 181.9 245.8 183.4 245.3 184.9 245.5 186.4 245.3 187.9 245.8 189.4 245.6 190.9 245.4 192.4 244.7 193.9 244.4 195.4 245.1 196.9 244.6 198.4 244.1 199.9 244.5 201.4 244.3 202.9 243.6 204.4 243.0 205.9 241.8 207.4 241.4 208.9 241.7 210.4 240.7 211.9 240.8 213.4 241.9 214.9 241.6 216.4 241.9 217.9 241.2 219.4 239.9 220.9 239.8 222.4 239.7 223.9 238.9 225.4 239.6 226.9 239.0 228.4 238.8 229.9 238.1 231.4 238.2" fill="none" stroke="#0072BD" stroke-width="0.6" stroke-opacity="0.8"/>
<path d="M49.9 273.4L51.4 272.9 52.9 273.2 54.4 273.1 55.9 271.7 57.4 272.0 58.9 271.2 60.4 270.6 61.9 270.8 63.4 270.1 64.9 270.7 66.4 269.8 67.9 269.4 69.4 268.9 70.9 268.5 72.4 268.5 73.9 268.4 75.4 267.8 76.9 267.6 78.4 267.9 79.9 266.6 81.4 265.9 82.9 265.8 84.4 264.9 85.9 264.9 87.4 264.9 88.9 265.0 90.4 264.5 91.9 264.6 93.4 264.6 94.9 264.1 96.4 262.8 97.9 262.7 99.4 262.6 100.9 261.5 102.4 261.8 103.9 261.7 105.4 261.0 106.9 260.0 108.4 260.5 109.9 260.4 111.4 259.3 112.9 258.9 114.4 258.9 115.9 259.4 117.4 259.8 118.9 259.4 120.4 258.0 121.9 258.0 123.4 258.1 124.9 257.9 126.4 257.2 127.9 257.4 129.4 257.3 130.9 257.5 132.4 256.0 133.9 255.8 135.4 255.7 136.9 255.4 138.4 254.5 139.9 254.1 141.4 254.7 142.9 255.4 144.4 254.9 145.9 254.5 147.4 254.0 148.9 252.6 150.4 252.7 151.9 252.7 153.4 253.0 154.9 252.5 156.4 252.0 157.9 251.9 159.4 251.7 160.9 251.4 162.4 251.8 163.9 251.8 165.4 250.6 166.9 250.3 168.4 249.3 169.9 249.4 171.4 249.6 172.9 249.0 174.4 249.5 175.9 248.9 177.4 249.4 178.9 248.8 180.4 248.2 181.9 247.5 183.4 247.2 184.9 246.7 186.4 247.0 187.9 246.7 189.4 246.0 190.9 245.7 192.4 245.7 193.9 245.5 195.4 245.8 196.9 246.0 198.4 244.9 199.9 245.4 201.4 244.7 202.9 243.9 204.4 244.1 205.9 244.1 207.4 243.8 208.9 244.4 210.4 244.5 211.9 244.3 213.4 243.8 214.9 244.0 216.4 244.2 217.9 243.1 219.4 242.2 220.9 242.4 222.4 241.2 223.9 241.1 225.4 241.7 226.9 241.2 228.4 241.1 229.9 240.3 231.4 239.8" fill="none" stroke="#0072BD" stroke-width="0.6" stroke-opacity="0.8"/>
<path d="M49.9 269.3L51.4 269.8 52.9 269.8 54.4 269.2 55.9 269.1 57.4 268.8 58.9 268.3 60.4 268.6 61.9 268.5 63.4 267.7 64.9 268.1 66.4 267.6 67.9 267.4 69.4 267.5 70.9 267.4 72.4 267.4 73.9 268.4 75.4 268.2 76.9 267.9 78.4 268.2 79.9 267.8 81.4 267.4 82.9 266.4 84.4 266.4 85.9 266.5 87.4 266.3 88.9 266.1 90.4 266.0 91.9 266.3 93.4 265.8 94.9 266.0 96.4 266.4 97.9 265.8 99.4 265.4 100.9 265.0 102.4 264.8 103.9 263.9 105.4 264.5 106.9 263.5 108.4 263.6 109.9 263.1 111.4 263.1 112.9 263.7 114.4 262.4 115.9 262.4 117.4 262.7 118.9 261.8 120.4 262.4 121.9 261.7 123.4 261.7 124.9 261.7 126.4 261.0 127.9 261.4 129.4 261.3 130.9 260.8 132.4 260.1 133.9 259.4 135.4 258.7 136.9 258.6 138.4 257.8 139.9 258.2 141.4 257.7 142.9 257.6 144.4 256.4 145.9 255.7 147.4 254.9 148.9 255.5 150.4 254.9 151.9 254.4 153.4 254.1 154.9 253.4 156.4 253.6 157.9 253.6 159.4 253.2 160.9 252.7 162.4 252.1 163.9 252.3 165.4 251.6 166.9 251.2 168.4 250.7 169.9 250.5 171.4 251.1 172.9 250.6 174.4 250.2 175.9 250.1 177.4 249.6 178.9 248.6 180.4 248.5 181.9 249.0 183.4 249.0 184.9 248.9 186.4 248.9 187.9 248.3 189.4 247.0 190.9 247.1 192.4 247.7 193.9 247.1 195.4 246.9 196.9 246.5 198.4 245.9 199.9 246.1 201.4 245.2 202.9 245.3 204.4 245.2 205.9 245.5 207.4 245.7 208.9 245.1 210.4 244.1 211.9 243.8 213.4 243.4 214.9 243.3 216.4 242.7 217.9 242.6 219.4 242.4 220.9 242.2 222.4 241.8 223.9 241.3 225.4 241.7 226.9 240.9 228.4 241.0 229.9 241.3 231.4 240.9" fill="none" stroke="#D95319" stroke-width="0.55" stroke-opacity="0.75"/>
<path d="M49.9 270.2L51.4 270.5 52.9 270.4 54.4 270.0 55.9 269.7 57.4 269.6 58.9 269.9 60.4 269.9 61.9 269.3 63.4 268.8 64.9 268.2 66.4 268.8 67.9 268.6 69.4 268.4 70.9 268.5 72.4 268.4 73.9 268.3 75.4 268.6 76.9 268.3 78.4 267.6 79.9 267.8 81.4 267.9 82.9 267.8 84.4 267.5 85.9 268.1 87.4 267.4 88.9 267.3 90.4 267.1 91.9 266.7 93.4 267.2 94.9 266.5 96.4 266.3 97.9 266.7 99.4 266.5 100.9 266.4 102.4 265.8 103.9 265.6 105.4 265.5 106.9 265.7 108.4 265.0 109.9 264.5 111.4 264.4 112.9 264.4 114.4 263.8 115.9 264.0 117.4 263.0 118.9 262.4 120.4 262.6 121.9 261.8 123.4 261.5 124.9 261.9 126.4 261.5 127.9 261.4 129.4 261.6 130.9 260.8 132.4 260.9 133.9 260.2 135.4 259.5 136.9 259.2 138.4 259.4 139.9 258.4 141.4 258.0 142.9 257.4 144.4 256.7 145.9 256.4 147.4 255.8 148.9 255.4 150.4 255.3 151.9 255.0 153.4 254.6 154.9 253.6 156.4 253.1 157.9 252.8 159.4 252.6 160.9 252.7 162.4 252.1 163.9 252.0 165.4 251.6 166.9 251.7 168.4 251.2 169.9 250.5 171.4 251.1 172.9 251.2 174.4 251.6 175.9 251.5 177.4 250.6 178.9 250.7 180.4 250.4 181.9 250.3 183.4 250.4 184.9 249.0 186.4 249.1 187.9 248.8 189.4 249.2 190.9 249.0 192.4 247.9 193.9 247.2 195.4 247.4 196.9 247.3 198.4 247.0 199.9 246.6 201.4 245.6 202.9 245.6 204.4 245.2 205.9 245.6 207.4 245.2 208.9 245.4 210.4 245.1 211.9 245.0 213.4 244.7 214.9 244.1 216.4 244.1 217.9 243.8 219.4 243.8 220.9 243.5 222.4 243.6 223.9 242.8 225.4 242.6 226.9 242.5 228.4 241.4 229.9 241.4 231.4 241.3" fill="none" stroke="#D95319" stroke-width="0.55" stroke-opacity="0.75"/>
<path d="M49.9 271.0L51.4 270.5 52.9 270.4 54.4 270.5 55.9 270.0 57.4 270.1 58.9 270.2 60.4 269.8 61.9 270.1 63.4 269.2 64.9 269.0 66.4 269.2 67.9 269.8 69.4 268.9 70.9 269.3 72.4 268.9 73.9 269.0 75.4 267.8 76.9 268.8 78.4 268.9 79.9 269.3 81.4 269.2 82.9 268.2 84.4 268.2 85.9 268.0 87.4 267.0 88.9 267.3 90.4 266.8 91.9 267.7 93.4 266.8 94.9 267.5 96.4 266.1 97.9 266.1 99.4 266.0 100.9 266.0 102.4 265.8 103.9 265.3 105.4 264.8 106.9 265.0 108.4 264.7 109.9 264.7 111.4 264.5 112.9 264.2 114.4 264.3 115.9 263.4 117.4 264.2 118.9 263.9 120.4 263.3 121.9 263.3 123.4 262.8 124.9 263.2 126.4 262.3 127.9 262.3 129.4 261.7 130.9 262.0 132.4 261.3 133.9 260.8 135.4 259.7 136.9 259.2 138.4 259.2 139.9 258.9 141.4 258.6 142.9 258.6 144.4 258.4 145.9 257.3 147.4 257.1 148.9 256.9 150.4 256.5 151.9 255.9 153.4 255.0 154.9 254.8 156.4 254.0 157.9 253.7 159.4 253.9 160.9 252.9 162.4 253.2 163.9 253.5 165.4 253.8 166.9 253.0 168.4 251.7 169.9 252.4 171.4 252.3 172.9 252.1 174.4 251.3 175.9 251.8 177.4 251.6 178.9 250.9 180.4 250.5 181.9 250.3 183.4 249.7 184.9 250.0 186.4 249.6 187.9 249.1 189.4 248.8 190.9 249.1 192.4 249.4 193.9 248.5 195.4 248.4 196.9 248.2 198.4 248.2 199.9 248.1 201.4 247.7 202.9 246.4 204.4 246.2 205.9 246.2 207.4 246.2 208.9 246.4 210.4 245.4 211.9 245.1 213.4 245.2 214.9 245.0 216.4 244.8 217.9 243.9 219.4 244.0 220.9 244.4 222.4 243.9 223.9 244.3 225.4 243.7 226.9 243.8 228.4 243.3 229.9 242.7 231.4 243.0" fill="none" stroke="#D95319" stroke-width="0.55" stroke-opacity="0.75"/>
<path d="M49.9 271.2L51.4 271.6 52.9 271.3 54.4 270.9 55.9 270.7 57.4 270.8 58.9 271.6 60.4 271.4 61.9 271.1 63.4 270.7 64.9 270.7 66.4 270.1 67.9 269.8 69.4 269.3 70.9 269.5 72.4 269.2 73.9 269.2 75.4 269.4 76.9 269.0 78.4 268.5 79.9 268.2 81.4 268.5 82.9 267.8 84.4 267.2 85.9 266.7 87.4 266.7 88.9 266.8 90.4 267.1 91.9 268.0 93.4 267.8 94.9 267.3 96.4 266.7 97.9 266.4 99.4 265.9 100.9 266.0 102.4 265.8 103.9 265.3 105.4 265.7 106.9 265.3 108.4 265.6 109.9 265.1 111.4 264.9 112.9 264.0 114.4 264.1 115.9 263.9 117.4 263.5 118.9 263.5 120.4 263.3 121.9 263.0 123.4 262.0 124.9 262.0 126.4 262.0 127.9 261.9 129.4 262.1 130.9 261.1 132.4 261.2 133.9 261.8 135.4 261.0 136.9 260.5 138.4 259.7 139.9 259.7 141.4 259.5 142.9 258.5 144.4 257.8 145.9 257.3 147.4 257.4 148.9 255.9 150.4 256.3 151.9 255.7 153.4 255.1 154.9 254.9 156.4 254.9 157.9 254.1 159.4 253.6 160.9 254.0 162.4 253.2 163.9 253.3 165.4 252.7 166.9 252.6 168.4 252.8 169.9 252.7 171.4 251.8 172.9 251.4 174.4 250.7 175.9 250.7 177.4 250.5 178.9 250.8 180.4 250.8 181.9 250.6 183.4 250.2 184.9 249.4 186.4 249.0 187.9 248.7 189.4 249.0 190.9 249.1 192.4 248.5 193.9 248.0 195.4 247.8 196.9 248.3 198.4 248.0 199.9 248.4 201.4 246.8 202.9 247.1 204.4 247.3 205.9 246.7 207.4 246.1 208.9 245.9 210.4 245.6 211.9 245.5 213.4 245.0 214.9 245.0 216.4 245.3 217.9 245.1 219.4 244.5 220.9 244.4 222.4 243.7 223.9 244.1 225.4 243.4 226.9 242.8 228.4 242.7 229.9 242.7 231.4 242.4" fill="none" stroke="#D95319" stroke-width="0.55" stroke-opacity="0.75"/>
<path d="M49.9 271.9L51.4 271.4 52.9 271.7 54.4 272.1 55.9 271.4 57.4 271.6 58.9 271.1 60.4 270.5 61.9 271.0 63.4 270.5 64.9 271.1 66.4 270.3 67.9 270.4 69.4 270.5 70.9 270.4 72.4 269.7 73.9 269.5 75.4 269.0 76.9 268.4 78.4 268.2 79.9 269.1 81.4 268.7 82.9 268.1 84.4 268.0 85.9 268.2 87.4 268.0 88.9 268.1 90.4 268.6 91.9 268.2 93.4 267.8 94.9 267.6 96.4 267.8 97.9 267.7 99.4 267.6 100.9 267.3 102.4 266.4 103.9 266.8 105.4 266.4 106.9 266.2 108.4 266.0 109.9 265.7 111.4 266.0 112.9 265.6 114.4 264.5 115.9 264.3 117.4 264.2 118.9 264.7 120.4 263.9 121.9 263.8 123.4 264.2 124.9 263.8 126.4 263.3 127.9 262.8 129.4 261.9 130.9 262.6 132.4 261.8 133.9 260.9 135.4 260.5 136.9 259.1 138.4 259.4 139.9 259.0 141.4 258.8 142.9 258.4 144.4 257.5 145.9 258.0 147.4 256.9 148.9 256.7 150.4 256.2 151.9 256.1 153.4 255.7 154.9 255.6 156.4 254.1 157.9 254.1 159.4 254.4 160.9 254.2 162.4 253.3 163.9 253.4 165.4 252.9 166.9 252.9 168.4 253.6 169.9 253.7 171.4 253.2 172.9 253.0 174.4 252.0 175.9 252.1 177.4 251.2 178.9 251.2 180.4 251.0 181.9 250.5 183.4 250.8 184.9 250.5 186.4 250.2 187.9 249.8 189.4 249.0 190.9 249.2 192.4 248.4 193.9 248.9 195.4 248.7 196.9 248.7 198.4 248.6 199.9 247.9 201.4 247.7 202.9 247.2 204.4 247.4 205.9 247.4 207.4 246.6 208.9 247.1 210.4 247.0 211.9 246.8 213.4 246.2 214.9 245.3 216.4 245.5 217.9 244.7 219.4 244.6 220.9 244.5 222.4 244.6 223.9 244.3 225.4 243.6 226.9 242.9 228.4 242.8 229.9 242.6 231.4 242.6" fill="none" stroke="#D95319" stroke-width="0.55" stroke-opacity="0.75"/>
<path d="M49.9 272.4L51.4 271.8 52.9 271.8 54.4 272.6 55.9 272.7 57.4 272.0 58.9 271.0 60.4 271.5 61.9 271.6 63.4 271.0 64.9 271.5 66.4 271.9 67.9 271.3 69.4 270.6 70.9 271.0 72.4 270.8 73.9 271.0 75.4 270.7 76.9 270.7 78.4 270.5 79.9 270.6 81.4 269.4 82.9 269.4 84.4 269.6 85.9 269.7 87.4 269.1 88.9 268.5 90.4 268.4 91.9 268.3 93.4 268.3 94.9 267.9 96.4 267.7 97.9 267.7 99.4 266.6 100.9 266.8 102.4 266.5 103.9 266.9 105.4 267.1 106.9 266.5 108.4 266.0 109.9 266.1 111.4 265.6 112.9 266.2 114.4 266.4 115.9 265.8 117.4 265.1 118.9 264.2 120.4 264.0 121.9 263.8 123.4 263.3 124.9 263.3 126.4 262.7 127.9 262.5 129.4 262.0 130.9 261.7 132.4 261.8 133.9 261.3 135.4 261.3 136.9 260.8 138.4 260.4 139.9 260.0 141.4 259.1 142.9 258.9 144.4 258.6 145.9 257.5 147.4 256.8 148.9 257.0 150.4 257.2 151.9 256.4 153.4 256.3 154.9 255.2 156.4 255.0 157.9 254.9 159.4 254.6 160.9 253.9 162.4 254.2 163.9 253.0 165.4 253.5 166.9 253.2 168.4 253.2 169.9 253.2 171.4 252.5 172.9 252.7 174.4 252.4 175.9 252.0 177.4 251.3 178.9 251.6 180.4 251.7 181.9 251.6 183.4 250.2 184.9 251.1 186.4 250.8 187.9 250.5 189.4 250.4 190.9 249.5 192.4 249.3 193.9 249.6 195.4 249.5 196.9 248.9 198.4 249.1 199.9 249.1 201.4 248.4 202.9 248.2 204.4 247.8 205.9 247.0 207.4 247.0 208.9 247.3 210.4 246.6 211.9 246.7 213.4 246.5 214.9 246.3 216.4 246.0 217.9 245.9 219.4 245.9 220.9 244.8 222.4 244.5 223.9 244.5 225.4 244.5 226.9 244.2 228.4 243.9 229.9 244.4 231.4 244.0" fill="none" stroke="#D95319" stroke-width="0.55" stroke-opacity="0.75"/>
<path d="M49.9 272.6L51.4 272.4 52.9 272.8 54.4 271.9 55.9 271.8 57.4 272.7 58.9 272.5 60.4 271.6 61.9 271.0 63.4 271.0 64.9 271.3 66.4 271.8 67.9 271.8 69.4 271.6 70.9 270.8 72.4 270.6 73.9 270.4 75.4 269.9 76.9 270.2 78.4 269.3 79.9 269.1 81.4 268.7 82.9 269.3 84.4 269.1 85.9 269.4 87.4 269.7 88.9 268.9 90.4 268.2 91.9 268.9 93.4 268.0 94.9 267.9 96.4 268.6 97.9 268.1 99.4 268.2 100.9 267.9 102.4 267.3 103.9 267.1 105.4 267.0 106.9 267.0 108.4 266.6 109.9 266.1 111.4 265.5 112.9 265.7 114.4 265.2 115.9 265.4 117.4 265.0 118.9 264.9 120.4 264.6 121.9 264.5 123.4 264.9 124.9 263.8 126.4 262.7 127.9 262.1 129.4 262.5 130.9 262.0 132.4 261.5 133.9 261.6 135.4 260.7 136.9 260.6 138.4 260.7 139.9 259.9 141.4 259.2 142.9 259.4 144.4 258.7 145.9 258.1 147.4 257.3 148.9 257.1 150.4 257.3 151.9 256.9 153.4 256.2 154.9 256.0 156.4 255.2 157.9 255.0 159.4 255.2 160.9 255.6 162.4 254.9 163.9 255.1 165.4 254.8 166.9 254.3 168.4 253.7 169.9 253.6 171.4 253.4 172.9 252.9 174.4 252.4 175.9 252.7 177.4 252.6 178.9 252.3 180.4 252.3 181.9 251.5 183.4 250.9 184.9 251.1 186.4 250.4 187.9 250.1 189.4 249.9 190.9 250.0 192.4 249.3 193.9 250.1 195.4 249.3 196.9 248.8 198.4 248.9 199.9 248.4 201.4 248.0 202.9 248.2 204.4 247.8 205.9 248.0 207.4 247.6 208.9 247.4 210.4 247.1 211.9 247.3 213.4 247.0 214.9 246.6 216.4 245.9 217.9 245.0 219.4 245.0 220.9 245.1 222.4 245.0 223.9 244.7 225.4 243.8 226.9 243.9 228.4 243.1 229.9 243.4 231.4 243.7" fill="none" stroke="#D95319" stroke-width="0.55" stroke-opacity="0.75"/>
<path d="M49.9 273.5L51.4 273.9 52.9 273.2 54.4 272.9 55.9 272.5 57.4 272.5 58.9 273.1 60.4 272.4 61.9 272.6 63.4 272.7 64.9 272.5 66.4 272.1 67.9 271.8 69.4 271.2 70.9 271.0 72.4 270.7 73.9 270.7 75.4 270.7 76.9 270.8 78.4 269.9 79.9 270.2 81.4 269.7 82.9 269.6 84.4 269.5 85.9 269.5 87.4 269.5 88.9 269.4 90.4 268.9 91.9 268.6 93.4 268.8 94.9 268.8 96.4 268.6 97.9 268.1 99.4 267.7 100.9 268.2 102.4 268.3 103.9 267.9 105.4 268.3 106.9 268.2 108.4 268.0 109.9 267.3 111.4 267.4 112.9 267.0 114.4 266.1 115.9 265.4 117.4 265.3 118.9 265.8 120.4 265.5 121.9 265.2 123.4 265.4 124.9 264.7 126.4 264.0 127.9 264.2 129.4 263.5 130.9 263.4 132.4 263.1 133.9 262.1 135.4 261.6 136.9 261.3 138.4 261.3 139.9 260.4 141.4 259.9 142.9 259.6 144.4 258.7 145.9 257.7 147.4 257.7 148.9 257.6 150.4 257.1 151.9 257.2 153.4 257.3 154.9 256.9 156.4 256.4 157.9 256.3 159.4 255.4 160.9 255.0 162.4 254.8 163.9 254.9 165.4 254.0 166.9 254.2 168.4 253.6 169.9 253.7 171.4 253.5 172.9 253.3 174.4 252.6 175.9 252.1 177.4 252.2 178.9 252.5 180.4 252.2 181.9 251.8 183.4 251.3 184.9 251.5 186.4 251.0 187.9 251.4 189.4 250.8 190.9 250.4 192.4 250.6 193.9 249.7 195.4 250.0 196.9 250.5 198.4 250.3 199.9 249.7 201.4 249.6 202.9 249.9 204.4 249.3 205.9 248.0 207.4 247.7 208.9 247.3 210.4 247.0 211.9 246.6 213.4 246.7 214.9 247.1 216.4 247.2 217.9 247.2 219.4 246.3 220.9 246.0 222.4 246.1 223.9 245.9 225.4 245.2 226.9 244.5 228.4 244.4 229.9 244.0 231.4 244.0" fill="none" stroke="#D95319" stroke-width="0.55" stroke-opacity="0.75"/>
<path d="M49.9 274.6L51.4 273.9 52.9 274.1 54.4 273.2 55.9 274.2 57.4 273.9 58.9 273.5 60.4 273.1 61.9 272.9 63.4 273.1 64.9 273.1 66.4 273.0 67.9 272.8 69.4 272.6 70.9 272.3 72.4 272.6 73.9 272.2 75.4 271.6 76.9 272.2 78.4 272.1 79.9 271.0 81.4 271.2 82.9 271.1 84.4 270.8 85.9 271.1 87.4 271.6 88.9 270.9 90.4 270.6 91.9 270.1 93.4 269.6 94.9 270.0 96.4 269.8 97.9 269.4 99.4 269.0 100.9 268.9 102.4 268.6 103.9 268.6 105.4 267.6 106.9 268.6 108.4 267.9 109.9 267.2 111.4 267.4 112.9 266.9 114.4 267.3 115.9 267.3 117.4 267.1 118.9 265.9 120.4 266.2 121.9 265.7 123.4 266.1 124.9 265.2 126.4 265.3 127.9 265.0 129.4 265.1 130.9 264.6 132.4 263.8 133.9 263.4 135.4 263.3 136.9 262.8 138.4 262.0 139.9 261.4 141.4 261.0 142.9 260.5 144.4 260.2 145.9 260.1 147.4 260.0 148.9 259.0 150.4 258.3 151.9 258.2 153.4 258.0 154.9 257.7 156.4 257.4 157.9 257.4 159.4 256.6 160.9 256.1 162.4 255.9 163.9 254.5 165.4 254.7 166.9 254.7 168.4 253.6 169.9 253.5 171.4 254.3 172.9 253.4 174.4 254.2 175.9 253.8 177.4 253.1 178.9 253.4 180.4 252.7 181.9 252.9 183.4 252.7 184.9 252.9 186.4 252.7 187.9 252.3 189.4 251.4 190.9 250.9 192.4 250.9 193.9 250.4 195.4 251.0 196.9 250.7 198.4 250.6 199.9 249.7 201.4 250.2 202.9 250.6 204.4 249.9 205.9 249.1 207.4 249.3 208.9 249.1 210.4 249.1 211.9 248.9 213.4 248.1 214.9 248.3 216.4 247.5 217.9 246.6 219.4 246.9 220.9 246.3 222.4 247.3 223.9 246.5 225.4 245.8 226.9 245.4 228.4 244.7 229.9 244.0 231.4 244.3" fill="none" stroke="#D95319" stroke-width="0.55" stroke-opacity="0.75"/>
<path d="M49.9 274.5L51.4 273.9 52.9 273.8 54.4 273.7 55.9 273.8 57.4 273.6 58.9 273.6 60.4 273.2 61.9 273.0 63.4 273.1 64.9 272.8 66.4 272.6 67.9 272.3 69.4 271.9 70.9 271.6 72.4 271.4 73.9 271.8 75.4 271.8 76.9 271.8 78.4 271.6 79.9 271.6 81.4 271.6 82.9 271.9 84.4 271.1 85.9 271.1 87.4 270.6 88.9 269.9 90.4 270.3 91.9 270.7 93.4 270.3 94.9 270.5 96.4 269.7 97.9 270.0 99.4 269.4 100.9 268.5 102.4 268.4 103.9 268.4 105.4 267.6 106.9 267.5 108.4 267.6 109.9 267.5 111.4 267.1 112.9 267.0 114.4 266.8 115.9 266.3 117.4 266.7 118.9 267.5 120.4 266.2 121.9 265.6 123.4 265.6 124.9 264.7 126.4 264.4 127.9 264.8 129.4 265.0 130.9 264.2 132.4 263.5 133.9 263.1 135.4 262.5 136.9 263.0 138.4 262.9 139.9 261.9 141.4 261.3 142.9 261.1 144.4 260.6 145.9 259.5 147.4 259.2 148.9 258.7 150.4 258.2 151.9 257.6 153.4 257.4 154.9 257.1 156.4 256.4 157.9 256.2 159.4 255.1 160.9 255.4 162.4 255.2 163.9 254.7 165.4 254.5 166.9 255.1 168.4 255.2 169.9 254.3 171.4 254.1 172.9 253.6 174.4 254.6 175.9 254.4 177.4 253.4 178.9 253.0 180.4 253.4 181.9 252.0 183.4 251.7 184.9 252.3 186.4 252.1 187.9 252.6 189.4 251.8 190.9 250.8 192.4 251.2 193.9 250.8 195.4 250.8 196.9 250.4 198.4 250.9 199.9 250.3 201.4 249.8 202.9 248.9 204.4 249.0 205.9 249.0 207.4 248.7 208.9 249.0 210.4 248.8 211.9 248.2 213.4 247.7 214.9 248.0 216.4 247.9 217.9 247.8 219.4 247.8 220.9 247.7 222.4 246.6 223.9 245.9 225.4 245.9 226.9 246.1 228.4 245.4 229.9 245.5 231.4 244.7" fill="none" stroke="#D95319" stroke-width="0.55" stroke-opacity="0.75"/>
<path d="M49.9 274.8L51.4 274.8 52.9 274.5 54.4 274.0 55.9 274.0 57.4 273.6 58.9 273.5 60.4 273.6 61.9 273.1 63.4 273.4 64.9 273.2 66.4 272.9 67.9 272.8 69.4 273.7 70.9 272.2 72.4 272.2 73.9 272.7 75.4 271.9 76.9 271.5 78.4 272.2 79.9 271.5 81.4 271.3 82.9 271.4 84.4 271.2 85.9 270.6 87.4 271.0 88.9 270.6 90.4 269.8 91.9 270.5 93.4 269.7 94.9 270.2 96.4 269.5 97.9 269.2 99.4 268.5 100.9 268.3 102.4 268.1 103.9 267.9 105.4 267.9 106.9 267.7 108.4 267.5 109.9 267.3 111.4 267.1 112.9 266.6 114.4 266.3 115.9 266.7 117.4 266.6 118.9 266.1 120.4 265.7 121.9 265.8 123.4 265.4 124.9 265.2 126.4 265.5 127.9 265.0 129.4 264.3 130.9 264.1 132.4 263.6 133.9 262.7 135.4 263.2 136.9 262.2 138.4 261.7 139.9 262.2 141.4 261.9 142.9 261.2 144.4 261.1 145.9 260.7 147.4 260.4 148.9 259.4 150.4 258.8 151.9 259.1 153.4 257.7 154.9 257.7 156.4 257.2 157.9 256.4 159.4 256.2 160.9 255.8 162.4 255.2 163.9 255.4 165.4 255.3 166.9 254.8 168.4 255.2 169.9 254.9 171.4 255.4 172.9 254.4 174.4 254.4 175.9 253.2 177.4 253.5 178.9 253.4 180.4 253.7 181.9 252.9 183.4 253.1 184.9 253.1 186.4 252.2 187.9 251.8 189.4 251.7 190.9 251.1 192.4 250.6 193.9 251.3 195.4 251.0 196.9 250.8 198.4 251.1 199.9 251.1 201.4 250.7 202.9 250.6 204.4 249.8 205.9 248.7 207.4 248.9 208.9 249.1 210.4 249.7 211.9 248.8 213.4 248.2 214.9 247.6 216.4 248.5 217.9 247.8 219.4 247.6 220.9 247.0 222.4 246.2 223.9 245.7 225.4 245.8 226.9 245.8 228.4 245.6 229.9 245.6 231.4 245.3" fill="none" stroke="#D95319" stroke-width="0.55" stroke-opacity="0.75"/>
<path d="M49.9 275.3L51.4 275.3 52.9 274.8 54.4 274.0 55.9 274.7 57.4 274.6 58.9 274.8 60.4 274.4 61.9 274.2 63.4 273.6 64.9 274.3 66.4 273.7 67.9 273.3 69.4 272.5 70.9 272.6 72.4 272.9 73.9 272.5 75.4 272.3 76.9 272.0 78.4 271.9 79.9 271.9 81.4 271.3 82.9 271.3 84.4 270.8 85.9 271.2 87.4 270.2 88.9 269.7 90.4 270.1 91.9 270.5 93.4 270.5 94.9 269.2 96.4 269.2 97.9 269.4 99.4 269.2 100.9 269.4 102.4 268.9 103.9 269.2 105.4 269.0 106.9 269.1 108.4 268.5 109.9 268.4 111.4 268.4 112.9 267.6 114.4 267.7 115.9 267.8 117.4 267.1 118.9 266.9 120.4 266.1 121.9 266.3 123.4 266.1 124.9 265.8 126.4 265.4 127.9 265.2 129.4 265.4 130.9 264.4 132.4 263.8 133.9 264.0 135.4 264.0 136.9 262.6 138.4 262.4 139.9 262.1 141.4 262.3 142.9 261.7 144.4 260.8 145.9 260.0 147.4 259.4 148.9 258.6 150.4 258.2 151.9 257.4 153.4 257.4 154.9 257.3 156.4 256.6 157.9 256.6 159.4 257.1 160.9 256.7 162.4 256.4 163.9 257.0 165.4 256.6 166.9 255.7 168.4 255.3 169.9 255.1 171.4 254.8 172.9 254.6 174.4 254.5 175.9 254.6 177.4 254.7 178.9 254.6 180.4 254.2 181.9 253.7 183.4 253.3 184.9 253.2 186.4 253.0 187.9 252.5 189.4 252.5 190.9 251.8 192.4 251.7 193.9 252.1 195.4 251.4 196.9 250.8 198.4 251.3 199.9 251.2 201.4 250.5 202.9 251.1 204.4 251.7 205.9 250.7 207.4 249.8 208.9 249.8 210.4 249.7 211.9 249.2 213.4 248.4 214.9 248.0 216.4 247.5 217.9 247.8 219.4 247.2 220.9 246.7 222.4 246.7 223.9 246.5 225.4 246.0 226.9 245.7 228.4 245.1 229.9 245.4 231.4 245.6" fill="none" stroke="#D95319" stroke-width="0.55" stroke-opacity="0.75"/>
<path d="M49.9 275.8L51.4 275.4 52.9 275.4 54.4 275.3 55.9 274.3 57.4 274.0 58.9 274.1 60.4 274.1 61.9 274.0 63.4 273.9 64.9 274.4 66.4 273.7 67.9 273.6 69.4 273.4 70.9 273.9 72.4 273.2 73.9 272.7 75.4 272.6 76.9 272.0 78.4 272.0 79.9 272.5 81.4 272.7 82.9 272.0 84.4 271.9 85.9 271.8 87.4 271.7 88.9 271.4 90.4 270.9 91.9 270.8 93.4 270.3 94.9 270.2 96.4 270.0 97.9 270.3 99.4 270.2 100.9 269.9 102.4 269.8 103.9 269.5 105.4 269.4 106.9 269.7 108.4 268.8 109.9 269.3 111.4 268.6 112.9 268.9 114.4 268.9 115.9 268.3 117.4 268.2 118.9 267.6 120.4 266.9 121.9 266.2 123.4 266.7 124.9 266.2 126.4 266.3 127.9 266.6 129.4 265.9 130.9 265.7 132.4 265.1 133.9 264.4 135.4 264.0 136.9 263.9 138.4 263.6 139.9 262.7 141.4 262.6 142.9 261.7 144.4 260.9 145.9 260.6 147.4 259.8 148.9 259.7 150.4 259.3 151.9 258.4 153.4 258.2 154.9 257.2 156.4 257.2 157.9 257.4 159.4 257.2 160.9 256.1 162.4 255.4 163.9 255.0 165.4 256.0 166.9 256.1 168.4 255.3 169.9 255.5 171.4 254.9 172.9 255.3 174.4 255.3 175.9 255.2 177.4 254.9 178.9 254.4 180.4 254.3 181.9 253.6 183.4 253.4 184.9 252.7 186.4 252.8 187.9 252.1 189.4 252.1 190.9 252.0 192.4 251.7 193.9 251.8 195.4 251.4 196.9 251.6 198.4 251.2 199.9 250.3 201.4 250.8 202.9 250.8 204.4 250.9 205.9 251.4 207.4 249.9 208.9 249.8 210.4 249.4 211.9 248.7 213.4 249.2 214.9 249.0 216.4 249.3 217.9 249.2 219.4 248.4 220.9 248.2 222.4 247.7 223.9 246.7 225.4 246.2 226.9 246.4 228.4 246.6 229.9 246.7 231.4 246.3" fill="none" stroke="#D95319" stroke-width="0.55" stroke-opacity="0.75"/>
<path d="M49.9 276.4L51.4 276.3 52.9 276.0 54.4 275.3 55.9 274.8 57.4 274.6 58.9 274.9 60.4 275.2 61.9 275.1 63.4 274.9 64.9 275.4 66.4 274.6 67.9 274.2 69.4 273.5 70.9 273.5 72.4 273.6 73.9 273.9 75.4 273.1 76.9 272.8 78.4 272.1 79.9 272.2 81.4 272.3 82.9 272.3 84.4 272.4 85.9 272.5 87.4 272.2 88.9 272.0 90.4 271.9 91.9 271.7 93.4 270.7 94.9 270.7 96.4 270.3 97.9 270.2 99.4 270.1 100.9 269.9 102.4 269.5 103.9 268.8 105.4 268.5 106.9 268.9 108.4 268.8 109.9 268.8 111.4 268.4 112.9 268.2 114.4 267.5 115.9 267.8 117.4 267.4 118.9 267.5 120.4 267.8 121.9 267.0 123.4 266.8 124.9 267.0 126.4 267.1 127.9 267.2 129.4 266.5 130.9 265.7 132.4 265.2 133.9 265.4 135.4 265.0 136.9 264.6 138.4 263.7 139.9 262.9 141.4 262.6 142.9 262.1 144.4 262.1 145.9 262.0 147.4 260.5 148.9 260.3 150.4 259.4 151.9 259.0 153.4 258.3 154.9 258.0 156.4 257.5 157.9 257.5 159.4 257.3 160.9 257.9 162.4 257.1 163.9 256.7 165.4 256.4 166.9 256.2 168.4 256.4 169.9 256.0 171.4 255.5 172.9 255.2 174.4 255.1 175.9 255.3 177.4 255.4 178.9 254.9 180.4 254.5 181.9 253.7 183.4 253.5 184.9 253.4 186.4 253.2 187.9 252.8 189.4 253.1 190.9 252.8 192.4 252.6 193.9 252.1 195.4 252.0 196.9 251.5 198.4 251.2 199.9 251.3 201.4 251.1 202.9 251.8 204.4 251.4 205.9 251.5 207.4 251.3 208.9 251.1 210.4 250.6 211.9 250.2 213.4 249.5 214.9 250.1 216.4 250.2 217.9 250.1 219.4 249.2 220.9 248.0 222.4 248.0 223.9 247.7 225.4 248.3 226.9 247.5 228.4 247.3 229.9 246.8 231.4 246.7" fill="none" stroke="#D95319" stroke-width="0.55" stroke-opacity="0.75"/>
<path d="M49.9 276.9L51.4 277.1 52.9 276.2 54.4 276.1 55.9 275.5 57.4 275.7 58.9 275.0 60.4 274.5 61.9 274.4 63.4 274.1 64.9 274.9 66.4 274.6 67.9 274.8 69.4 274.4 70.9 274.8 72.4 275.0 73.9 274.4 75.4 273.9 76.9 273.8 78.4 273.4 79.9 273.9 81.4 273.2 82.9 272.6 84.4 272.3 85.9 272.6 87.4 272.2 88.9 271.9 90.4 271.9 91.9 271.8 93.4 271.3 94.9 271.7 96.4 271.3 97.9 271.4 99.4 271.2 100.9 270.7 102.4 270.5 103.9 270.5 105.4 269.8 106.9 269.9 108.4 269.2 109.9 269.6 111.4 269.2 112.9 269.2 114.4 269.0 115.9 269.0 117.4 268.9 118.9 268.4 120.4 268.3 121.9 267.9 123.4 267.2 124.9 267.2 126.4 267.0 127.9 267.0 129.4 266.4 130.9 266.8 132.4 265.9 133.9 265.8 135.4 264.8 136.9 264.0 138.4 263.8 139.9 263.2 141.4 262.3 142.9 262.1 144.4 261.1 145.9 260.9 147.4 260.4 148.9 260.3 150.4 259.3 151.9 258.9 153.4 259.1 154.9 258.5 156.4 258.4 157.9 258.1 159.4 257.9 160.9 258.0 162.4 257.9 163.9 257.1 165.4 256.4 166.9 255.9 168.4 255.5 169.9 255.4 171.4 254.8 172.9 254.9 174.4 254.3 175.9 254.1 177.4 254.3 178.9 254.4 180.4 254.6 181.9 254.6 183.4 254.4 184.9 254.5 186.4 254.5 187.9 253.7 189.4 253.1 190.9 253.0 192.4 252.9 193.9 252.5 195.4 253.0 196.9 252.6 198.4 252.5 199.9 252.0 201.4 251.8 202.9 251.5 204.4 251.2 205.9 250.9 207.4 250.7 208.9 250.5 210.4 250.2 211.9 249.9 213.4 250.1 214.9 250.0 216.4 249.5 217.9 249.1 219.4 248.7 220.9 248.1 222.4 247.8 223.9 247.8 225.4 247.3 226.9 247.5 228.4 247.0 229.9 246.3 231.4 245.8" fill="none" stroke="#D95319" stroke-width="0.55" stroke-opacity="0.75"/>
<path d="M49.9 277.3L51.4 276.8 52.9 277.4 54.4 277.1 55.9 276.8 57.4 275.7 58.9 275.7 60.4 275.9 61.9 275.4 63.4 275.6 64.9 274.8 66.4 274.9 67.9 274.8 69.4 274.5 70.9 275.0 72.4 275.2 73.9 274.5 75.4 274.1 76.9 274.2 78.4 273.9 79.9 274.3 81.4 273.6 82.9 273.4 84.4 272.6 85.9 272.0 87.4 272.2 88.9 272.1 90.4 272.4 91.9 272.3 93.4 272.2 94.9 272.1 96.4 271.8 97.9 271.2 99.4 270.7 100.9 271.3 102.4 270.9 103.9 270.6 105.4 269.7 106.9 269.6 108.4 268.8 109.9 268.8 111.4 268.5 112.9 268.3 114.4 268.5 115.9 267.9 117.4 268.0 118.9 268.3 120.4 268.2 121.9 268.1 123.4 267.3 124.9 267.6 126.4 267.5 127.9 266.9 129.4 267.0 130.9 267.1 132.4 266.4 133.9 265.2 135.4 265.1 136.9 264.7 138.4 264.7 139.9 264.0 141.4 263.7 142.9 262.9 144.4 262.8 145.9 261.7 147.4 261.2 148.9 260.5 150.4 260.2 151.9 259.6 153.4 259.0 154.9 258.5 156.4 258.6 157.9 258.3 159.4 257.9 160.9 258.1 162.4 257.5 163.9 257.4 165.4 257.4 166.9 257.1 168.4 256.5 169.9 256.4 171.4 255.5 172.9 254.7 174.4 254.6 175.9 255.0 177.4 255.2 178.9 254.6 180.4 253.9 181.9 254.0 183.4 254.3 184.9 254.6 186.4 254.0 187.9 253.6 189.4 253.7 190.9 254.0 192.4 253.6 193.9 253.4 195.4 253.3 196.9 253.1 198.4 252.2 199.9 251.7 201.4 251.9 202.9 251.5 204.4 252.0 205.9 252.0 207.4 251.5 208.9 251.0 210.4 250.6 211.9 251.6 213.4 251.2 214.9 250.9 216.4 249.7 217.9 249.9 219.4 249.8 220.9 249.7 222.4 249.1 223.9 248.8 225.4 248.2 226.9 248.0 228.4 247.6 229.9 247.2 231.4 246.8" fill="none" stroke="#D95319" stroke-width="0.55" stroke-opacity="0.75"/>
<path d="M49.9 278.0L51.4 277.3 52.9 276.9 54.4 276.9 55.9 277.5 57.4 276.7 58.9 277.0 60.4 276.6 61.9 276.7 63.4 276.1 64.9 276.0 66.4 274.7 67.9 274.8 69.4 274.2 70.9 274.7 72.4 275.0 73.9 274.8 75.4 274.6 76.9 274.1 78.4 274.4 79.9 273.9 81.4 273.4 82.9 273.6 84.4 273.0 85.9 273.7 87.4 273.6 88.9 273.9 90.4 273.6 91.9 273.2 93.4 272.4 94.9 271.4 96.4 271.6 97.9 271.9 99.4 270.7 100.9 271.0 102.4 270.6 103.9 271.0 105.4 270.7 106.9 270.3 108.4 270.0 109.9 270.0 111.4 270.0 112.9 269.2 114.4 269.7 115.9 269.2 117.4 269.0 118.9 269.2 120.4 268.9 121.9 269.5 123.4 269.0 124.9 268.3 126.4 267.8 127.9 267.8 129.4 266.4 130.9 266.5 132.4 266.7 133.9 266.5 135.4 266.3 136.9 264.7 138.4 264.1 139.9 263.7 141.4 263.6 142.9 262.9 144.4 262.6 145.9 261.9 147.4 261.5 148.9 260.6 150.4 259.9 151.9 260.0 153.4 259.9 154.9 259.4 156.4 259.2 157.9 258.7 159.4 258.6 160.9 258.6 162.4 258.2 163.9 257.1 165.4 257.0 166.9 257.0 168.4 257.5 169.9 257.4 171.4 257.4 172.9 256.9 174.4 256.4 175.9 255.8 177.4 255.5 178.9 255.0 180.4 254.9 181.9 254.0 183.4 254.4 184.9 254.0 186.4 254.5 187.9 254.3 189.4 253.8 190.9 253.6 192.4 253.1 193.9 253.8 195.4 253.6 196.9 253.5 198.4 252.8 199.9 252.7 201.4 253.1 202.9 253.1 204.4 252.6 205.9 252.0 207.4 252.0 208.9 252.6 210.4 251.9 211.9 252.0 213.4 250.6 214.9 250.8 216.4 251.1 217.9 250.6 219.4 250.1 220.9 249.8 222.4 249.2 223.9 249.2 225.4 248.6 226.9 248.4 228.4 248.0 229.9 248.1 231.4 248.1" fill="none" stroke="#D95319" stroke-width="0.55" stroke-opacity="0.75"/>
<path d="M49.9 277.9L51.4 276.8 52.9 277.3 54.4 276.9 55.9 276.8 57.4 276.7 58.9 276.1 60.4 276.7 61.9 276.9 63.4 276.9 64.9 276.9 66.4 276.9 67.9 276.4 69.4 275.9 70.9 275.8 72.4 275.4 73.9 274.9 75.4 274.5 76.9 273.8 78.4 273.1 79.9 273.8 81.4 274.3 82.9 274.3 84.4 274.1 85.9 273.7 87.4 273.1 88.9 272.7 90.4 271.7 91.9 271.8 93.4 271.5 94.9 271.4 96.4 271.0 97.9 271.3 99.4 271.6 100.9 271.7 102.4 270.9 103.9 270.9 105.4 270.8 106.9 270.2 108.4 269.8 109.9 269.5 111.4 269.7 112.9 269.7 114.4 269.6 115.9 269.3 117.4 269.2 118.9 268.5 120.4 268.2 121.9 268.3 123.4 268.2 124.9 267.6 126.4 267.5 127.9 267.1 129.4 267.1 130.9 266.5 132.4 266.1 133.9 266.6 135.4 265.8 136.9 265.7 138.4 264.8 139.9 264.2 141.4 263.5 142.9 263.6 144.4 263.0 145.9 262.5 147.4 261.1 148.9 260.4 150.4 259.8 151.9 259.9 153.4 259.2 154.9 259.4 156.4 258.9 157.9 258.4 159.4 258.7 160.9 258.5 162.4 258.4 163.9 258.0 165.4 257.6 166.9 257.3 168.4 256.7 169.9 256.7 171.4 256.4 172.9 256.5 174.4 255.8 175.9 255.9 177.4 256.4 178.9 256.0 180.4 254.9 181.9 255.0 183.4 255.4 184.9 255.3 186.4 255.3 187.9 254.3 189.4 254.6 190.9 254.4 192.4 254.1 193.9 253.7 195.4 253.4 196.9 253.4 198.4 252.7 199.9 253.4 201.4 253.1 202.9 252.8 204.4 251.8 205.9 251.3 207.4 251.8 208.9 251.3 210.4 251.4 211.9 251.2 213.4 251.2 214.9 251.4 216.4 250.8 217.9 251.0 219.4 250.4 220.9 250.3 222.4 249.7 223.9 249.3 225.4 248.5 226.9 248.4 228.4 247.6 229.9 247.4 231.4 247.0" fill="none" stroke="#D95319" stroke-width="0.55" stroke-opacity="0.75"/>
<path d="M49.9 278.6L51.4 278.8 52.9 279.2 54.4 278.3 55.9 277.9 57.4 277.8 58.9 277.2 60.4 277.5 61.9 276.8 63.4 276.8 64.9 276.9 66.4 276.5 67.9 276.6 69.4 275.8 70.9 275.8 72.4 275.7 73.9 275.4 75.4 276.1 76.9 275.4 78.4 275.6 79.9 275.1 81.4 274.7 82.9 274.5 84.4 274.0 85.9 274.0 87.4 274.6 88.9 273.6 90.4 273.7 91.9 273.1 93.4 272.8 94.9 272.5 96.4 272.7 97.9 271.8 99.4 271.8 100.9 271.8 102.4 271.9 103.9 271.5 105.4 271.3 106.9 271.0 108.4 270.4 109.9 270.3 111.4 270.3 112.9 270.2 114.4 269.8 115.9 269.6 117.4 269.7 118.9 269.5 120.4 269.0 121.9 269.2 123.4 269.5 124.9 269.0 126.4 268.4 127.9 268.2 129.4 267.5 130.9 267.1 132.4 266.2 133.9 266.8 135.4 266.4 136.9 265.9 138.4 265.5 139.9 265.4 141.4 264.8 142.9 263.8 144.4 263.1 145.9 263.2 147.4 262.1 148.9 262.1 150.4 261.1 151.9 260.6 153.4 260.8 154.9 260.2 156.4 259.9 157.9 259.6 159.4 259.2 160.9 258.8 162.4 257.8 163.9 257.7 165.4 257.8 166.9 258.3 168.4 258.3 169.9 258.2 171.4 257.7 172.9 256.5 174.4 255.8 175.9 256.4 177.4 255.8 178.9 256.1 180.4 256.3 181.9 255.8 183.4 256.0 184.9 256.0 186.4 254.9 187.9 254.9 189.4 254.8 190.9 254.7 192.4 254.6 193.9 254.5 195.4 254.0 196.9 253.8 198.4 254.0 199.9 254.5 201.4 254.7 202.9 254.1 204.4 253.5 205.9 253.2 207.4 253.4 208.9 252.4 210.4 252.3 211.9 252.2 213.4 251.4 214.9 250.5 216.4 250.3 217.9 251.0 219.4 250.7 220.9 249.7 222.4 249.1 223.9 248.8 225.4 249.2 226.9 248.6 228.4 248.1 229.9 248.6 231.4 247.4" fill="none" stroke="#D95319" stroke-width="0.55" stroke-opacity="0.75"/>
<path d="M49.9 278.8L51.4 278.7 52.9 278.4 54.4 278.2 55.9 277.6 57.4 277.5 58.9 277.0 60.4 277.2 61.9 276.5 63.4 276.7 64.9 276.3 66.4 275.5 67.9 275.7 69.4 275.4 70.9 275.4 72.4 275.3 73.9 275.1 75.4 275.3 76.9 274.3 78.4 273.8 79.9 274.4 81.4 274.4 82.9 274.1 84.4 274.2 85.9 274.0 87.4 273.9 88.9 273.0 90.4 272.7 91.9 273.0 93.4 272.7 94.9 272.1 96.4 272.2 97.9 271.6 99.4 272.2 100.9 272.1 102.4 271.5 103.9 271.4 105.4 271.5 106.9 271.6 108.4 271.4 109.9 271.0 111.4 271.2 112.9 270.8 114.4 270.4 115.9 270.6 117.4 270.3 118.9 269.5 120.4 269.4 121.9 269.7 123.4 269.5 124.9 269.1 126.4 268.5 127.9 267.8 129.4 267.7 130.9 267.6 132.4 267.4 133.9 266.6 135.4 266.0 136.9 265.9 138.4 266.0 139.9 265.6 141.4 265.0 142.9 264.5 144.4 263.4 145.9 262.7 147.4 262.2 148.9 261.8 150.4 261.7 151.9 261.0 153.4 260.1 154.9 259.5 156.4 259.2 157.9 259.8 159.4 259.3 160.9 259.7 162.4 258.5 163.9 258.7 165.4 258.5 166.9 258.7 168.4 258.2 169.9 257.9 171.4 257.3 172.9 257.0 174.4 256.9 175.9 256.3 177.4 256.0 178.9 255.7 180.4 255.4 181.9 255.1 183.4 255.2 184.9 255.3 186.4 255.6 187.9 255.8 189.4 255.2 190.9 254.9 192.4 254.8 193.9 254.1 195.4 254.1 196.9 253.8 198.4 253.3 199.9 253.7 201.4 253.5 202.9 253.4 204.4 253.4 205.9 253.1 207.4 252.6 208.9 252.2 210.4 252.5 211.9 251.6 213.4 251.5 214.9 251.6 216.4 250.9 217.9 251.3 219.4 250.9 220.9 250.7 222.4 251.0 223.9 250.9 225.4 250.6 226.9 250.1 228.4 250.0 229.9 249.6 231.4 248.6" fill="none" stroke="#D95319" stroke-width="0.55" stroke-opacity="0.75"/>
<path d="M49.9 280.3L51.4 280.1 52.9 280.1 54.4 279.8 55.9 278.8 57.4 278.9 58.9 278.6 60.4 278.2 61.9 278.2 63.4 277.6 64.9 277.9 66.4 278.8 67.9 278.3 69.4 278.6 70.9 277.3 72.4 276.8 73.9 277.0 75.4 277.0 76.9 277.1 78.4 276.5 79.9 275.8 81.4 275.7 82.9 275.3 84.4 274.9 85.9 275.1 87.4 274.9 88.9 274.9 90.4 274.4 91.9 274.0 93.4 274.0 94.9 274.5 96.4 273.6 97.9 274.0 99.4 273.8 100.9 273.9 102.4 273.8 103.9 273.2 105.4 273.1 106.9 273.3 108.4 272.8 109.9 272.6 111.4 272.2 112.9 271.7 114.4 270.8 115.9 271.0 117.4 271.0 118.9 270.9 120.4 270.5 121.9 270.4 123.4 270.2 124.9 270.4 126.4 270.3 127.9 269.6 129.4 269.3 130.9 268.9 132.4 268.8 133.9 268.4 135.4 267.8 136.9 267.1 138.4 266.3 139.9 266.5 141.4 265.7 142.9 265.1 144.4 264.3 145.9 263.8 147.4 263.5 148.9 263.1 150.4 262.6 151.9 262.8 153.4 261.8 154.9 261.0 156.4 260.3 157.9 259.9 159.4 260.4 160.9 260.1 162.4 259.8 163.9 258.5 165.4 258.2 166.9 257.8 168.4 257.2 169.9 257.6 171.4 257.0 172.9 257.7 174.4 258.1 175.9 257.5 177.4 257.4 178.9 257.2 180.4 256.7 181.9 256.9 183.4 256.0 184.9 256.1 186.4 256.6 187.9 255.9 189.4 255.8 190.9 255.2 192.4 255.0 193.9 254.9 195.4 255.2 196.9 255.6 198.4 255.4 199.9 255.3 201.4 254.9 202.9 254.4 204.4 254.3 205.9 254.3 207.4 254.3 208.9 253.9 210.4 253.1 211.9 253.3 213.4 252.9 214.9 252.4 216.4 252.3 217.9 252.0 219.4 251.9 220.9 251.3 222.4 251.1 223.9 251.1 225.4 250.9 226.9 250.4 228.4 250.6 229.9 250.0 231.4 249.4" fill="none" stroke="#D95319" stroke-width="0.55" stroke-opacity="0.75"/>
<path d="M49.9 280.0L51.4 280.3 52.9 279.2 54.4 278.7 55.9 278.2 57.4 278.0 58.9 278.2 60.4 278.4 61.9 278.0 63.4 277.9 64.9 277.8 66.4 277.6 67.9 277.3 69.4 277.5 70.9 277.2 72.4 277.7 73.9 277.0 75.4 277.0 76.9 276.6 78.4 276.4 79.9 276.7 81.4 275.8 82.9 275.2 84.4 274.4 85.9 274.1 87.4 273.9 88.9 274.2 90.4 273.9 91.9 273.9 93.4 273.7 94.9 273.5 96.4 273.1 97.9 273.2 99.4 273.0 100.9 273.0 102.4 273.1 103.9 272.9 105.4 273.1 106.9 272.7 108.4 272.2 109.9 272.2 111.4 272.0 112.9 271.6 114.4 271.8 115.9 271.5 117.4 270.9 118.9 270.6 120.4 269.7 121.9 269.1 123.4 269.3 124.9 269.5 126.4 268.9 127.9 268.9 129.4 268.4 130.9 268.8 132.4 269.0 133.9 268.0 135.4 267.8 136.9 267.4 138.4 266.4 139.9 266.0 141.4 265.7 142.9 265.0 144.4 264.0 145.9 263.6 147.4 263.3 148.9 262.7 150.4 262.3 151.9 261.8 153.4 261.1 154.9 261.6 156.4 261.1 157.9 260.5 159.4 260.5 160.9 259.8 162.4 259.8 163.9 258.3 165.4 258.7 166.9 258.7 168.4 258.1 169.9 258.1 171.4 258.6 172.9 258.1 174.4 258.2 175.9 258.0 177.4 257.1 178.9 256.9 180.4 256.2 181.9 255.7 183.4 255.8 184.9 256.2 186.4 255.5 187.9 255.3 189.4 256.4 190.9 255.8 192.4 255.3 193.9 254.5 195.4 255.4 196.9 255.1 198.4 255.2 199.9 254.9 201.4 254.2 202.9 254.3 204.4 253.9 205.9 253.1 207.4 253.3 208.9 253.2 210.4 252.9 211.9 252.7 213.4 252.6 214.9 252.8 216.4 252.0 217.9 252.4 219.4 252.1 220.9 251.7 222.4 251.0 223.9 251.4 225.4 250.9 226.9 250.6 228.4 250.4 229.9 249.6 231.4 249.4" fill="none" stroke="#D95319" stroke-width="0.55" stroke-opacity="0.75"/>
<path d="M49.9 280.2L51.4 280.5 52.9 279.4 54.4 279.3 55.9 279.1 57.4 279.9 58.9 279.3 60.4 279.3 61.9 278.9 63.4 278.7 64.9 278.9 66.4 278.3 67.9 278.0 69.4 277.1 70.9 276.2 72.4 275.9 73.9 275.8 75.4 276.4 76.9 276.3 78.4 275.8 79.9 275.7 81.4 275.4 82.9 275.1 84.4 275.6 85.9 275.7 87.4 275.2 88.9 275.2 90.4 275.1 91.9 275.0 93.4 274.5 94.9 273.6 96.4 273.4 97.9 272.6 99.4 272.7 100.9 272.2 102.4 272.7 103.9 272.1 105.4 271.7 106.9 271.9 108.4 272.1 109.9 271.6 111.4 271.1 112.9 271.2 114.4 270.6 115.9 270.8 117.4 270.6 118.9 270.7 120.4 270.7 121.9 270.7 123.4 270.2 124.9 270.2 126.4 269.5 127.9 269.5 129.4 268.9 130.9 268.8 132.4 268.3 133.9 268.1 135.4 268.0 136.9 267.2 138.4 267.3 139.9 266.2 141.4 265.6 142.9 264.9 144.4 264.4 145.9 263.4 147.4 263.5 148.9 263.1 150.4 262.5 151.9 262.1 153.4 261.8 154.9 261.5 156.4 260.4 157.9 259.8 159.4 260.0 160.9 260.0 162.4 259.9 163.9 259.3 165.4 259.6 166.9 259.0 168.4 259.2 169.9 258.3 171.4 258.0 172.9 258.3 174.4 258.2 175.9 257.3 177.4 257.2 178.9 256.3 180.4 256.5 181.9 256.6 183.4 256.8 184.9 257.0 186.4 256.6 187.9 256.6 189.4 256.9 190.9 256.1 192.4 255.6 193.9 254.8 195.4 254.5 196.9 254.5 198.4 254.7 199.9 255.0 201.4 255.0 202.9 254.8 204.4 254.3 205.9 254.6 207.4 253.8 208.9 253.4 210.4 253.1 211.9 252.8 213.4 252.6 214.9 252.9 216.4 252.2 217.9 252.5 219.4 251.7 220.9 251.8 222.4 250.9 223.9 250.8 225.4 250.6 226.9 250.3 228.4 250.2 229.9 250.5 231.4 249.8" fill="none" stroke="#D95319" stroke-width="0.55" stroke-opacity="0.75"/>
<path d="M49.9 281.2L51.4 280.4 52.9 279.9 54.4 279.6 55.9 279.4 57.4 279.5 58.9 278.8 60.4 279.3 61.9 278.6 63.4 278.3 64.9 278.7 66.4 278.6 67.9 278.3 69.4 278.4 70.9 278.3 72.4 277.6 73.9 277.2 75.4 277.0 76.9 277.0 78.4 277.0 79.9 277.5 81.4 276.7 82.9 276.6 84.4 275.9 85.9 275.5 87.4 275.6 88.9 275.1 90.4 275.0 91.9 274.6 93.4 275.0 94.9 274.5 96.4 274.5 97.9 273.8 99.4 273.7 100.9 273.8 102.4 273.2 103.9 273.0 105.4 272.2 106.9 272.5 108.4 272.1 109.9 272.0 111.4 271.9 112.9 271.1 114.4 271.1 115.9 270.7 117.4 271.0 118.9 271.5 120.4 271.5 121.9 271.5 123.4 271.5 124.9 271.2 126.4 270.1 127.9 269.6 129.4 268.7 130.9 268.4 132.4 268.5 133.9 268.8 135.4 267.5 136.9 267.6 138.4 266.8 139.9 266.7 141.4 266.3 142.9 265.5 144.4 265.1 145.9 264.4 147.4 263.9 148.9 263.3 150.4 262.3 151.9 262.0 153.4 261.4 154.9 261.4 156.4 261.7 157.9 261.4 159.4 261.2 160.9 260.3 162.4 260.0 163.9 259.7 165.4 259.0 166.9 259.5 168.4 258.7 169.9 258.3 171.4 258.5 172.9 258.5 174.4 258.5 175.9 258.5 177.4 258.1 178.9 258.0 180.4 257.2 181.9 257.2 183.4 256.5 184.9 256.9 186.4 256.4 187.9 256.2 189.4 256.6 190.9 256.0 192.4 256.4 193.9 256.4 195.4 256.0 196.9 255.1 198.4 256.1 199.9 255.4 201.4 254.9 202.9 254.3 204.4 255.3 205.9 254.7 207.4 254.0 208.9 254.0 210.4 253.6 211.9 253.6 213.4 253.6 214.9 252.9 216.4 253.8 217.9 253.1 219.4 253.1 220.9 252.5 222.4 251.8 223.9 250.4 225.4 251.2 226.9 250.4 228.4 250.4 229.9 250.5 231.4 250.3" fill="none" stroke="#D95319" stroke-width="0.55" stroke-opacity="0.75"/>
<path d="M49.9 281.8L51.4 281.4 52.9 280.8 54.4 281.0 55.9 280.0 57.4 281.0 58.9 280.6 60.4 280.2 61.9 279.4 63.4 279.6 64.9 279.2 66.4 279.6 67.9 279.0 69.4 279.0 70.9 278.8 72.4 278.6 73.9 278.7 75.4 278.6 76.9 277.7 78.4 278.0 79.9 277.9 81.4 277.5 82.9 276.8 84.4 277.1 85.9 276.2 87.4 276.4 88.9 276.2 90.4 276.0 91.9 275.6 93.4 275.0 94.9 275.2 96.4 274.4 97.9 274.2 99.4 274.6 100.9 273.7 102.4 273.7 103.9 273.5 105.4 273.3 106.9 273.5 108.4 273.4 109.9 272.3 111.4 272.1 112.9 272.5 114.4 272.4 115.9 272.4 117.4 272.5 118.9 272.9 120.4 272.5 121.9 271.7 123.4 271.4 124.9 271.1 126.4 270.5 127.9 269.4 129.4 269.1 130.9 269.4 132.4 269.0 133.9 268.7 135.4 268.8 136.9 268.4 138.4 267.5 139.9 266.7 141.4 266.4 142.9 265.9 144.4 265.5 145.9 264.6 147.4 264.4 148.9 263.3 150.4 263.5 151.9 262.4 153.4 263.0 154.9 261.9 156.4 261.7 157.9 261.2 159.4 261.2 160.9 261.4 162.4 261.1 163.9 261.1 165.4 259.4 166.9 259.3 168.4 259.3 169.9 259.7 171.4 260.2 172.9 259.0 174.4 258.8 175.9 257.7 177.4 257.6 178.9 257.6 180.4 257.3 181.9 257.2 183.4 257.1 184.9 256.7 186.4 256.5 187.9 257.2 189.4 257.8 190.9 257.3 192.4 257.1 193.9 256.9 195.4 256.8 196.9 256.5 198.4 255.6 199.9 255.8 201.4 255.9 202.9 255.4 204.4 255.6 205.9 255.6 207.4 255.0 208.9 254.5 210.4 254.7 211.9 254.1 213.4 253.8 214.9 253.6 216.4 254.1 217.9 253.7 219.4 253.7 220.9 252.9 222.4 252.0 223.9 252.5 225.4 252.2 226.9 251.6 228.4 251.4 229.9 251.2 231.4 250.5" fill="none" stroke="#D95319" stroke-width="0.55" stroke-opacity="0.75"/>
<path d="M49.9 281.7L51.4 281.4 52.9 281.1 54.4 280.8 55.9 280.5 57.4 280.5 58.9 279.7 60.4 279.9 61.9 279.4 63.4 279.3 64.9 278.9 66.4 278.2 67.9 278.2 69.4 278.0 70.9 277.9 72.4 277.4 73.9 278.1 75.4 277.4 76.9 277.6 78.4 277.5 79.9 276.8 81.4 276.6 82.9 276.7 84.4 276.9 85.9 276.2 87.4 276.3 88.9 276.0 90.4 275.5 91.9 275.2 93.4 275.1 94.9 275.1 96.4 275.4 97.9 274.7 99.4 274.9 100.9 274.5 102.4 274.3 103.9 274.1 105.4 273.7 106.9 273.4 108.4 273.0 109.9 272.4 111.4 272.2 112.9 272.4 114.4 272.2 115.9 272.2 117.4 272.0 118.9 272.3 120.4 272.0 121.9 271.3 123.4 271.9 124.9 271.4 126.4 271.1 127.9 270.4 129.4 269.8 130.9 270.2 132.4 269.9 133.9 269.1 135.4 268.7 136.9 268.8 138.4 268.3 139.9 267.7 141.4 266.4 142.9 265.5 144.4 264.4 145.9 263.9 147.4 263.7 148.9 263.5 150.4 262.9 151.9 262.0 153.4 261.8 154.9 261.9 156.4 261.3 157.9 261.0 159.4 261.1 160.9 260.5 162.4 260.3 163.9 259.6 165.4 259.4 166.9 259.3 168.4 259.5 169.9 260.2 171.4 259.4 172.9 258.8 174.4 258.6 175.9 258.1 177.4 257.6 178.9 257.3 180.4 257.5 181.9 257.7 183.4 257.1 184.9 257.6 186.4 257.1 187.9 257.4 189.4 257.9 190.9 257.6 192.4 256.6 193.9 256.3 195.4 255.8 196.9 256.2 198.4 256.0 199.9 255.7 201.4 255.9 202.9 255.9 204.4 256.1 205.9 255.8 207.4 255.0 208.9 254.6 210.4 253.9 211.9 254.1 213.4 254.7 214.9 254.7 216.4 254.9 217.9 253.8 219.4 253.7 220.9 253.6 222.4 253.0 223.9 252.5 225.4 251.6 226.9 251.5 228.4 252.0 229.9 251.6 231.4 251.5" fill="none" stroke="#D95319" stroke-width="0.55" stroke-opacity="0.75"/>
<path d="M49.9 282.2L51.4 281.5 52.9 281.6 54.4 281.3 55.9 281.7 57.4 281.4 58.9 281.4 60.4 280.4 61.9 280.1 63.4 279.9 64.9 279.1 66.4 278.8 67.9 278.9 69.4 278.7 70.9 278.5 72.4 278.4 73.9 278.8 75.4 278.6 76.9 278.9 78.4 277.8 79.9 277.0 81.4 277.2 82.9 276.9 84.4 276.3 85.9 276.2 87.4 276.3 88.9 276.4 90.4 275.8 91.9 275.2 93.4 274.8 94.9 273.9 96.4 274.1 97.9 274.5 99.4 274.2 100.9 273.6 102.4 273.9 103.9 273.8 105.4 273.7 106.9 274.3 108.4 274.1 109.9 274.0 111.4 273.8 112.9 273.7 114.4 272.9 115.9 272.3 117.4 272.2 118.9 272.0 120.4 271.8 121.9 272.2 123.4 272.0 124.9 271.4 126.4 270.9 127.9 271.0 129.4 270.1 130.9 270.0 132.4 269.9 133.9 269.1 135.4 268.2 136.9 267.7 138.4 268.0 139.9 267.6 141.4 266.3 142.9 266.8 144.4 266.0 145.9 265.7 147.4 265.0 148.9 264.6 150.4 264.0 151.9 263.7 153.4 263.6 154.9 263.1 156.4 261.9 157.9 261.3 159.4 261.5 160.9 261.0 162.4 261.3 163.9 261.2 165.4 261.3 166.9 260.5 168.4 260.4 169.9 259.9 171.4 259.3 172.9 259.3 174.4 259.2 175.9 258.9 177.4 258.6 178.9 258.8 180.4 258.1 181.9 257.6 183.4 257.7 184.9 257.4 186.4 257.2 187.9 256.8 189.4 256.5 190.9 256.9 192.4 256.9 193.9 256.6 195.4 256.9 196.9 256.6 198.4 256.7 199.9 256.7 201.4 256.7 202.9 256.4 204.4 255.8 205.9 255.7 207.4 255.9 208.9 255.3 210.4 255.3 211.9 255.0 213.4 254.4 214.9 254.1 216.4 254.3 217.9 253.1 219.4 252.9 220.9 252.5 222.4 252.2 223.9 252.4 225.4 252.1 226.9 252.2 228.4 252.0 229.9 251.7 231.4 251.0" fill="none" stroke="#D95319" stroke-width="0.55" stroke-opacity="0.75"/>
<path d="M49.9 282.7L51.4 282.1 52.9 282.6 54.4 281.7 55.9 282.6 57.4 282.0 58.9 281.9 60.4 281.1 61.9 280.9 63.4 280.3 64.9 280.2 66.4 280.7 67.9 280.1 69.4 279.8 70.9 280.0 72.4 279.2 73.9 278.8 75.4 278.2 76.9 277.4 78.4 277.3 79.9 278.2 81.4 278.5 82.9 278.1 84.4 277.5 85.9 277.2 87.4 277.2 88.9 277.3 90.4 276.2 91.9 275.7 93.4 275.7 94.9 274.9 96.4 274.6 97.9 274.8 99.4 274.1 100.9 274.4 102.4 274.0 103.9 273.8 105.4 273.6 106.9 273.8 108.4 273.7 109.9 273.2 111.4 273.4 112.9 272.9 114.4 273.6 115.9 272.9 117.4 272.2 118.9 272.4 120.4 271.8 121.9 272.6 123.4 271.8 124.9 271.6 126.4 271.4 127.9 271.1 129.4 270.4 130.9 270.8 132.4 270.2 133.9 269.7 135.4 269.3 136.9 268.5 138.4 269.0 139.9 268.2 141.4 267.7 142.9 266.2 144.4 265.7 145.9 265.5 147.4 265.2 148.9 264.4 150.4 263.8 151.9 263.7 153.4 263.5 154.9 262.8 156.4 262.1 157.9 261.9 159.4 261.8 160.9 261.6 162.4 261.6 163.9 261.2 165.4 260.4 166.9 260.2 168.4 260.5 169.9 259.6 171.4 259.6 172.9 259.9 174.4 259.8 175.9 260.5 177.4 258.8 178.9 258.8 180.4 258.2 181.9 258.1 183.4 258.3 184.9 258.5 186.4 258.1 187.9 258.1 189.4 256.8 190.9 257.3 192.4 257.5 193.9 257.2 195.4 256.8 196.9 256.2 198.4 256.6 199.9 256.0 201.4 256.3 202.9 255.9 204.4 256.3 205.9 256.0 207.4 256.4 208.9 256.0 210.4 255.9 211.9 255.8 213.4 255.5 214.9 254.6 216.4 254.7 217.9 253.8 219.4 253.7 220.9 253.7 222.4 253.6 223.9 252.6 225.4 252.7 226.9 252.6 228.4 251.8 229.9 251.7 231.4 250.6" fill="none" stroke="#D95319" stroke-width="0.55" stroke-opacity="0.75"/>
<path d="M49.9 283.0L51.4 282.2 52.9 282.5 54.4 281.3 55.9 281.8 57.4 281.5 58.9 280.6 60.4 280.8 61.9 280.8 63.4 280.4 64.9 280.5 66.4 279.8 67.9 280.8 69.4 280.4 70.9 280.0 72.4 279.2 73.9 279.4 75.4 279.6 76.9 278.6 78.4 278.0 79.9 278.2 81.4 278.3 82.9 277.9 84.4 278.5 85.9 277.6 87.4 277.3 88.9 276.8 90.4 275.8 91.9 275.7 93.4 275.9 94.9 275.0 96.4 275.6 97.9 275.5 99.4 275.9 100.9 275.7 102.4 275.3 103.9 275.4 105.4 275.2 106.9 274.6 108.4 274.2 109.9 274.1 111.4 273.8 112.9 273.2 114.4 273.4 115.9 274.0 117.4 273.4 118.9 272.9 120.4 272.5 121.9 272.4 123.4 272.7 124.9 272.4 126.4 271.5 127.9 271.0 129.4 271.0 130.9 270.8 132.4 270.2 133.9 269.7 135.4 269.4 136.9 268.4 138.4 268.2 139.9 267.6 141.4 267.3 142.9 266.6 144.4 265.9 145.9 266.1 147.4 265.3 148.9 264.4 150.4 263.8 151.9 263.1 153.4 263.1 154.9 262.7 156.4 262.1 157.9 261.8 159.4 261.7 160.9 261.8 162.4 261.4 163.9 260.9 165.4 260.1 166.9 259.8 168.4 259.7 169.9 259.3 171.4 259.4 172.9 259.0 174.4 259.7 175.9 259.6 177.4 260.0 178.9 259.4 180.4 259.0 181.9 259.5 183.4 259.0 184.9 259.0 186.4 258.6 187.9 258.2 189.4 258.4 190.9 257.9 192.4 257.0 193.9 256.8 195.4 257.1 196.9 256.9 198.4 257.2 199.9 257.0 201.4 257.1 202.9 257.1 204.4 255.7 205.9 256.3 207.4 255.6 208.9 256.3 210.4 256.5 211.9 255.7 213.4 255.3 214.9 255.4 216.4 254.3 217.9 254.5 219.4 254.7 220.9 254.1 222.4 253.9 223.9 253.7 225.4 253.0 226.9 252.8 228.4 252.6 229.9 251.9 231.4 251.5" fill="none" stroke="#D95319" stroke-width="0.55" stroke-opacity="0.75"/>
<path d="M49.9 283.9L51.4 283.7 52.9 283.0 54.4 283.4 55.9 283.0 57.4 282.4 58.9 282.5 60.4 281.4 61.9 281.2 63.4 280.9 64.9 280.3 66.4 281.1 67.9 281.2 69.4 280.5 70.9 280.8 72.4 280.7 73.9 280.1 75.4 279.8 76.9 279.4 78.4 278.4 79.9 278.2 81.4 278.4 82.9 279.0 84.4 278.9 85.9 278.2 87.4 277.9 88.9 277.7 90.4 278.0 91.9 277.5 93.4 277.2 94.9 277.3 96.4 276.8 97.9 276.9 99.4 276.6 100.9 276.2 102.4 275.5 103.9 275.7 105.4 275.0 106.9 275.4 108.4 275.1 109.9 274.5 111.4 274.8 112.9 274.3 114.4 274.1 115.9 273.6 117.4 273.4 118.9 273.2 120.4 273.0 121.9 273.1 123.4 273.0 124.9 273.2 126.4 272.6 127.9 272.6 129.4 272.1 130.9 271.8 132.4 270.9 133.9 270.8 135.4 270.7 136.9 270.3 138.4 269.9 139.9 268.4 141.4 267.6 142.9 268.0 144.4 266.9 145.9 265.9 147.4 265.7 148.9 265.1 150.4 264.9 151.9 264.9 153.4 264.1 154.9 263.5 156.4 262.5 157.9 262.6 159.4 262.4 160.9 262.0 162.4 261.9 163.9 261.7 165.4 261.8 166.9 261.8 168.4 261.6 169.9 261.3 171.4 261.0 172.9 260.7 174.4 260.2 175.9 260.6 177.4 260.0 178.9 259.7 180.4 259.8 181.9 259.8 183.4 259.4 184.9 258.7 186.4 258.0 187.9 258.1 189.4 257.7 190.9 258.1 192.4 257.9 193.9 257.7 195.4 257.4 196.9 256.8 198.4 256.9 199.9 256.7 201.4 257.2 202.9 257.5 204.4 257.0 205.9 256.7 207.4 256.7 208.9 256.6 210.4 256.4 211.9 256.7 213.4 256.4 214.9 256.0 216.4 256.1 217.9 256.0 219.4 255.3 220.9 254.8 222.4 254.0 223.9 254.3 225.4 254.0 226.9 253.3 228.4 253.2 229.9 252.9 231.4 252.3" fill="none" stroke="#D95319" stroke-width="0.55" stroke-opacity="0.75"/>
<path d="M49.9 284.4L51.4 284.0 52.9 284.2 54.4 283.3 55.9 283.6 57.4 283.0 58.9 282.5 60.4 282.3 61.9 282.1 63.4 281.9 64.9 281.5 66.4 281.2 67.9 281.1 69.4 280.6 70.9 280.2 72.4 280.1 73.9 280.7 75.4 279.9 76.9 279.7 78.4 279.4 79.9 279.3 81.4 278.4 82.9 277.8 84.4 277.8 85.9 278.7 87.4 277.9 88.9 277.5 90.4 277.2 91.9 277.0 93.4 276.7 94.9 276.9 96.4 277.1 97.9 276.7 99.4 276.7 100.9 276.2 102.4 275.8 103.9 276.3 105.4 276.4 106.9 276.1 108.4 275.7 109.9 274.8 111.4 274.7 112.9 274.2 114.4 274.5 115.9 274.0 117.4 273.6 118.9 274.1 120.4 274.0 121.9 273.3 123.4 273.1 124.9 272.5 126.4 272.9 127.9 272.6 129.4 272.2 130.9 272.0 132.4 272.4 133.9 271.6 135.4 270.5 136.9 270.7 138.4 270.3 139.9 269.5 141.4 269.0 142.9 267.9 144.4 267.3 145.9 266.7 147.4 266.1 148.9 265.8 150.4 265.8 151.9 265.1 153.4 264.8 154.9 264.8 156.4 264.1 157.9 263.6 159.4 263.1 160.9 263.3 162.4 262.7 163.9 262.3 165.4 262.1 166.9 261.7 168.4 260.9 169.9 260.3 171.4 259.4 172.9 259.9 174.4 259.4 175.9 259.4 177.4 259.1 178.9 259.0 180.4 259.4 181.9 259.0 183.4 258.9 184.9 258.6 186.4 258.9 187.9 259.4 189.4 259.6 190.9 259.4 192.4 259.1 193.9 259.1 195.4 258.7 196.9 258.4 198.4 257.9 199.9 257.7 201.4 257.5 202.9 257.3 204.4 258.1 205.9 257.6 207.4 256.9 208.9 257.2 210.4 257.9 211.9 257.0 213.4 256.8 214.9 256.2 216.4 255.8 217.9 255.6 219.4 255.7 220.9 255.6 222.4 255.6 223.9 254.7 225.4 254.4 226.9 253.9 228.4 254.0 229.9 253.6 231.4 253.5" fill="none" stroke="#D95319" stroke-width="0.55" stroke-opacity="0.75"/>
<path d="M49.9 284.4L51.4 284.0 52.9 284.2 54.4 283.3 55.9 282.7 57.4 282.3 58.9 282.6 60.4 282.9 61.9 282.2 63.4 281.9 64.9 282.1 66.4 281.4 67.9 280.9 69.4 281.2 70.9 281.2 72.4 280.7 73.9 280.9 75.4 280.0 76.9 279.9 78.4 279.5 79.9 279.0 81.4 279.0 82.9 279.0 84.4 278.0 85.9 277.8 87.4 277.7 88.9 277.0 90.4 276.3 91.9 276.7 93.4 276.7 94.9 276.5 96.4 276.0 97.9 275.7 99.4 275.6 100.9 276.0 102.4 275.6 103.9 275.5 105.4 275.1 106.9 275.8 108.4 275.2 109.9 275.0 111.4 274.8 112.9 274.5 114.4 274.6 115.9 275.4 117.4 274.9 118.9 274.9 120.4 274.1 121.9 274.0 123.4 273.1 124.9 272.1 126.4 271.9 127.9 272.1 129.4 272.1 130.9 271.7 132.4 271.1 133.9 270.3 135.4 270.0 136.9 270.0 138.4 269.7 139.9 268.9 141.4 267.9 142.9 267.8 144.4 267.0 145.9 266.4 147.4 265.8 148.9 265.2 150.4 264.6 151.9 264.6 153.4 264.8 154.9 264.5 156.4 264.0 157.9 263.3 159.4 262.5 160.9 262.4 162.4 261.9 163.9 261.0 165.4 260.8 166.9 260.8 168.4 260.8 169.9 261.1 171.4 260.5 172.9 260.2 174.4 260.1 175.9 259.8 177.4 259.6 178.9 259.2 180.4 259.6 181.9 259.4 183.4 259.2 184.9 259.5 186.4 259.7 187.9 259.6 189.4 259.3 190.9 258.9 192.4 259.1 193.9 259.2 195.4 259.2 196.9 259.2 198.4 258.7 199.9 258.3 201.4 258.0 202.9 257.8 204.4 257.3 205.9 257.2 207.4 257.2 208.9 257.2 210.4 256.8 211.9 256.8 213.4 256.0 214.9 255.3 216.4 256.2 217.9 255.6 219.4 255.1 220.9 254.6 222.4 254.3 223.9 254.5 225.4 253.9 226.9 253.5 228.4 253.1 229.9 253.2 231.4 252.8" fill="none" stroke="#D95319" stroke-width="0.55" stroke-opacity="0.75"/>
<line x1="49.6" y1="289.7" x2="232.5" y2="221.3" stroke="#000" stroke-width="1.5"/>
<path d="M49.5 188.5H232.5V311.5H49.5Z" fill="none" stroke="#b0b0b0" stroke-width="1"/>
<path d="M56.5 311.2v-2M56.5 188.4v2" stroke="#aaa" stroke-width="0.6"/>
<path d="M62.8 311.2v-2M62.8 188.4v2" stroke="#aaa" stroke-width="0.6"/>
<path d="M68.4 311.2v-3M68.4 188.4v3" stroke="#6a6a6a" stroke-width="0.6"/>
<path d="M105.3 311.2v-2M105.3 188.4v2" stroke="#aaa" stroke-width="0.6"/>
<path d="M126.9 311.2v-2M126.9 188.4v2" stroke="#aaa" stroke-width="0.6"/>
<path d="M142.3 311.2v-2M142.3 188.4v2" stroke="#aaa" stroke-width="0.6"/>
<path d="M154.2 311.2v-2M154.2 188.4v2" stroke="#aaa" stroke-width="0.6"/>
<path d="M163.9 311.2v-2M163.9 188.4v2" stroke="#aaa" stroke-width="0.6"/>
<path d="M172.1 311.2v-2M172.1 188.4v2" stroke="#aaa" stroke-width="0.6"/>
<path d="M179.2 311.2v-2M179.2 188.4v2" stroke="#aaa" stroke-width="0.6"/>
<path d="M185.5 311.2v-2M185.5 188.4v2" stroke="#aaa" stroke-width="0.6"/>
<path d="M191.1 311.2v-3M191.1 188.4v3" stroke="#6a6a6a" stroke-width="0.6"/>
<path d="M228.0 311.2v-2M228.0 188.4v2" stroke="#aaa" stroke-width="0.6"/>
<path d="M49.6 308.5h2M232.5 308.5h-2" stroke="#aaa" stroke-width="0.6"/>
<path d="M49.6 305.4h3M232.5 305.4h-3" stroke="#6a6a6a" stroke-width="0.6"/>
<path d="M49.6 284.7h2M232.5 284.7h-2" stroke="#aaa" stroke-width="0.6"/>
<path d="M49.6 272.7h2M232.5 272.7h-2" stroke="#aaa" stroke-width="0.6"/>
<path d="M49.6 264.1h2M232.5 264.1h-2" stroke="#aaa" stroke-width="0.6"/>
<path d="M49.6 257.5h2M232.5 257.5h-2" stroke="#aaa" stroke-width="0.6"/>
<path d="M49.6 252.0h2M232.5 252.0h-2" stroke="#aaa" stroke-width="0.6"/>
<path d="M49.6 247.4h2M232.5 247.4h-2" stroke="#aaa" stroke-width="0.6"/>
<path d="M49.6 243.4h2M232.5 243.4h-2" stroke="#aaa" stroke-width="0.6"/>
<path d="M49.6 239.9h2M232.5 239.9h-2" stroke="#aaa" stroke-width="0.6"/>
<path d="M49.6 236.8h3M232.5 236.8h-3" stroke="#6a6a6a" stroke-width="0.6"/>
<path d="M49.6 216.1h2M232.5 216.1h-2" stroke="#aaa" stroke-width="0.6"/>
<path d="M49.6 204.1h2M232.5 204.1h-2" stroke="#aaa" stroke-width="0.6"/>
<path d="M49.6 195.5h2M232.5 195.5h-2" stroke="#aaa" stroke-width="0.6"/>
<path d="M49.6 188.9h2M232.5 188.9h-2" stroke="#aaa" stroke-width="0.6"/>
<text x="23.6" y="240.2" font-size="12.5" textLength="21.4" lengthAdjust="spacing">10<tspan font-size="8" dy="-5">−1</tspan></text>
<text x="23.0" y="308.3" font-size="12.5" textLength="22.3" lengthAdjust="spacing">10<tspan font-size="8" dy="-5">−2</tspan></text>
<text x="60.5" y="326.6" font-size="12.5" textLength="16.2" lengthAdjust="spacing">10<tspan font-size="8" dy="-5">0</tspan></text>
<text x="182.6" y="326.8" font-size="12.5" textLength="15.4" lengthAdjust="spacing">10<tspan font-size="8" dy="-5">1</tspan></text>
<text x="126.6" y="342.5" font-size="14" textLength="29" lengthAdjust="spacing"><tspan font-style="italic">r</tspan> [m]</text>
<text transform="translate(16.7,283.2) rotate(-90)" x="0" y="0" font-size="14" textLength="68" lengthAdjust="spacing"><tspan font-style="italic">D</tspan><tspan font-style="italic" font-size="9" dy="2.5">LL</tspan><tspan dy="-2.5"> [m</tspan><tspan font-size="9" dy="-5">2</tspan><tspan dy="5">/s</tspan><tspan font-size="9" dy="-5">2</tspan><tspan dy="5">]</tspan></text>
<text x="51.8" y="204.7" font-size="17" textLength="18.8" lengthAdjust="spacing" style="fill:#202020">(b)</text>
<rect x="52.5" y="291.5" width="176.5" height="14.5" fill="#fff" stroke="#aaa" stroke-width="1"/>
<path d="M56 298.6H75" stroke="#c5dcef" stroke-width="1"/>
<path d="M118 298.6H137" stroke="#f3cdbd" stroke-width="1"/>
<path d="M181 299.4H200" stroke="#000" stroke-width="1.3"/>
<text x="77.3" y="301.3" font-size="9.5" textLength="35" lengthAdjust="spacing">3D Pitot</text>
<text x="139.5" y="301.3" font-size="9.5" textLength="35" lengthAdjust="spacing">1D Pitot</text>
<text x="202.6" y="301.3" font-size="9.5" textLength="23.4" lengthAdjust="spacing">∝ <tspan font-style="italic">r</tspan><tspan font-size="7" dy="-4">2/3</tspan></text>
<path d="M299.5 188.5H481.5V311.5H299.5Z" fill="none" stroke="#b0b0b0" stroke-width="1"/>
<path d="M299.0 311.2h3M481.5 311.2h-3" stroke="#6a6a6a" stroke-width="0.7"/>
<text x="295.2" y="315.0" font-size="12" text-anchor="end">0</text>
<path d="M299.0 280.5h3M481.5 280.5h-3" stroke="#6a6a6a" stroke-width="0.7"/>
<text x="295.2" y="284.3" font-size="12" text-anchor="end">2</text>
<path d="M299.0 249.8h3M481.5 249.8h-3" stroke="#6a6a6a" stroke-width="0.7"/>
<text x="295.2" y="253.7" font-size="12" text-anchor="end">4</text>
<path d="M299.0 219.2h3M481.5 219.2h-3" stroke="#6a6a6a" stroke-width="0.7"/>
<text x="295.2" y="223.0" font-size="12" text-anchor="end">6</text>
<path d="M299.0 188.5h3M481.5 188.5h-3" stroke="#6a6a6a" stroke-width="0.7"/>
<text x="295.2" y="192.3" font-size="12" text-anchor="end">8</text>
<path d="M344.5 311.2v-3M344.5 188.5v3" stroke="#6a6a6a" stroke-width="0.7"/>
<path d="M436 311.2v-3M436 188.5v3" stroke="#6a6a6a" stroke-width="0.7"/>
<text x="330.5" y="326.4" font-size="12.5" textLength="28" lengthAdjust="spacing">570m</text>
<text x="422" y="326.4" font-size="12.5" textLength="28" lengthAdjust="spacing">820m</text>
<text x="299" y="184.5" font-size="12" textLength="32" lengthAdjust="spacing">×10<tspan font-size="8" dy="-5">−3</tspan></text>
<text x="301" y="203.5" font-size="17" textLength="18" lengthAdjust="spacing" style="fill:#202020">(c)</text>
<text transform="translate(283,322.6) rotate(-90)" x="0" y="0" font-size="14" textLength="144.6" lengthAdjust="spacing">dissipation rate <tspan font-style="italic">ε</tspan> [m<tspan font-size="9.5" dy="-6">2</tspan><tspan dy="6">/s</tspan><tspan font-size="9.5" dy="-6">3</tspan><tspan dy="6">]</tspan></text>
<path d="M344.4 210.7V229.5M344.4 256V281.3M333.09999999999997 210.7h22.6M333.09999999999997 281.3h22.6" stroke="#444" stroke-width="0.8"/>
<rect x="321.4" y="229.5" width="46" height="26.5" fill="#cfe2f3" stroke="#4a90d0" stroke-width="0.9"/>
<path d="M321.4 247h46" stroke="#4a90d0" stroke-width="0.9"/>
<path d="M436 267.6V278.3M436 288.5V303.5M424.6 267.6h22.8M424.6 303.5h22.8" stroke="#444" stroke-width="0.8"/>
<rect x="413.0" y="278.3" width="46" height="10.199999999999989" fill="#cfe2f3" stroke="#4a90d0" stroke-width="0.9"/>
<path d="M413.0 283.5h46" stroke="#4a90d0" stroke-width="0.9"/>
<circle cx="436" cy="304.3" r="1.9" fill="none" stroke="#4a90d0" stroke-width="0.8"/>
</svg></body></html>
